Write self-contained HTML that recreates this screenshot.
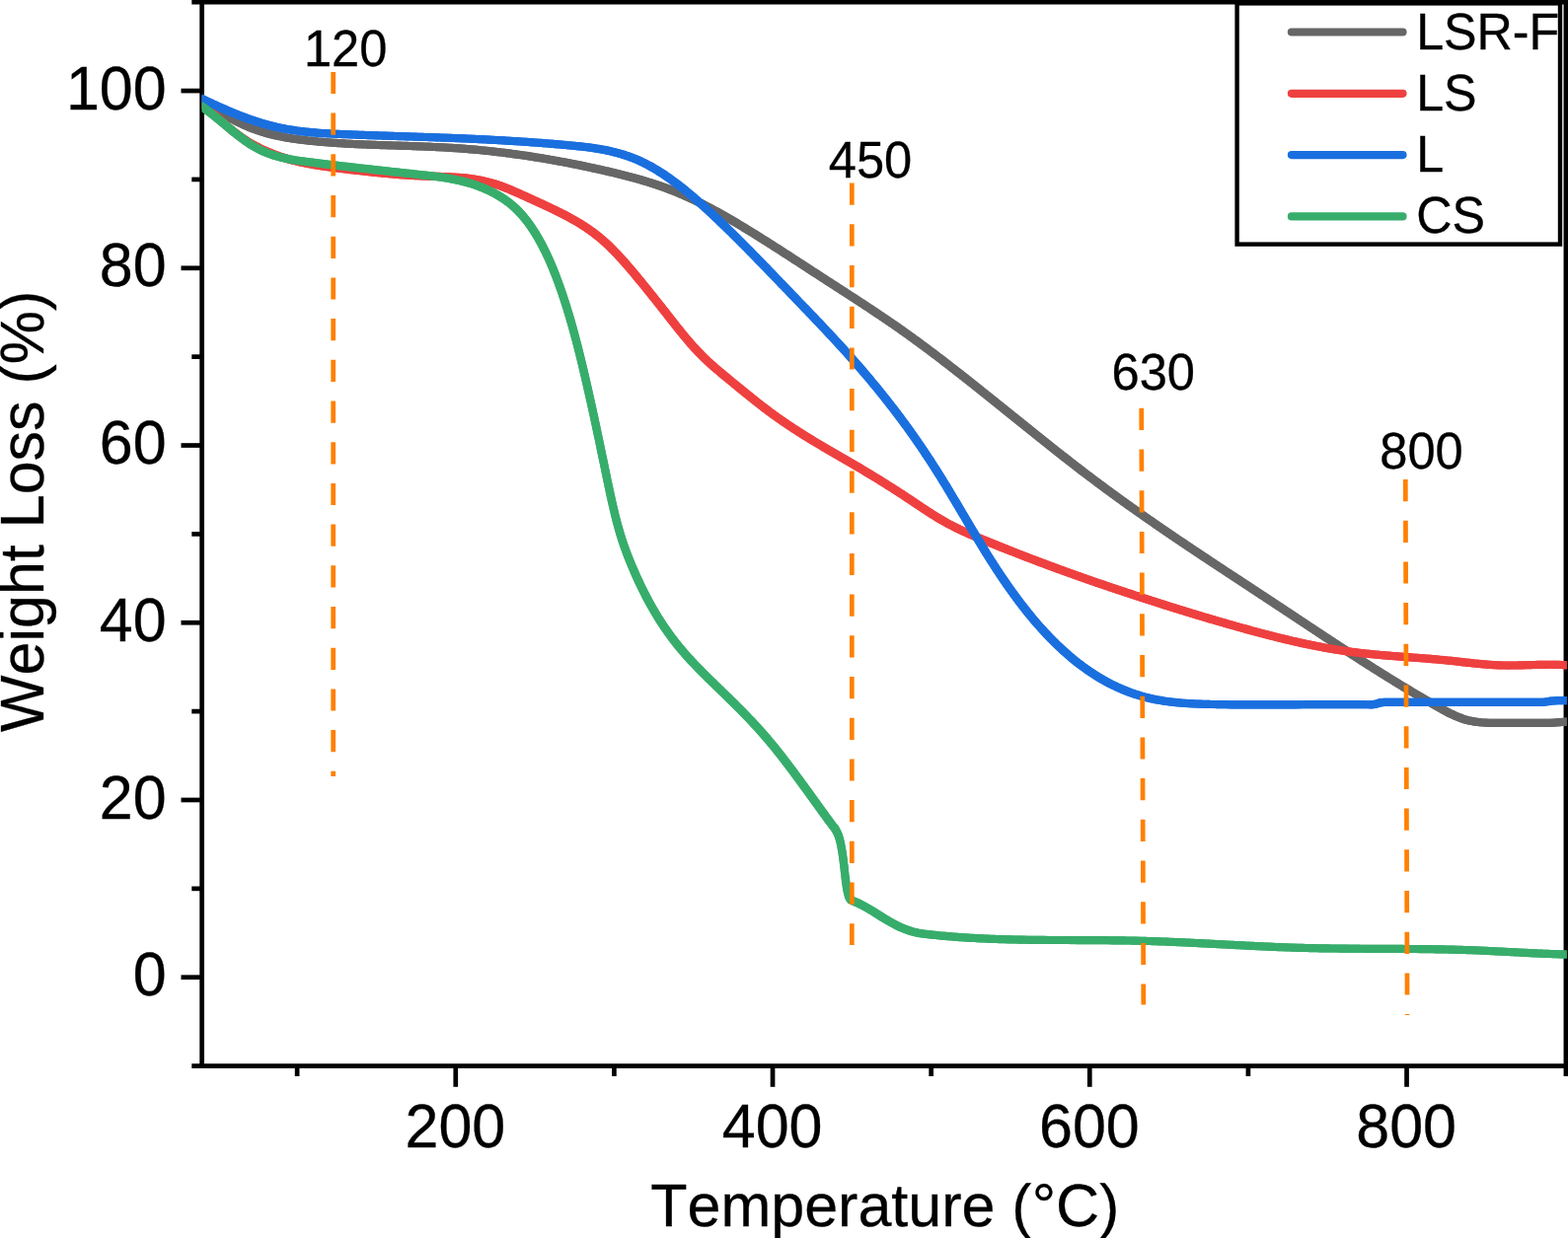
<!DOCTYPE html>
<html lang="en">
<head>
<meta charset="utf-8">
<title>Weight Loss (%) vs Temperature (°C)</title>
<style>
html,body{margin:0;padding:0;background:#fff;overflow:hidden;}
body{width:1589px;height:1255px;overflow:hidden;}
svg{display:block;}
text{font-family:"Liberation Sans",sans-serif;fill:#000;stroke:#000;stroke-width:0.3px;font-kerning:none;}
.tick{font-size:61.0px;}
.xl{font-size:61px;}
.yl{font-size:61px;}
.ann{font-size:50.6px;}
.leg{font-size:50.6px;}
.curve{fill:none;stroke-width:8.15;stroke-linejoin:miter;stroke-miterlimit:6;stroke-linecap:butt;}
.dash{fill:none;stroke:#FF8000;stroke-width:4.7;stroke-dasharray:22.2 19.5;}
.ax{stroke:#000;stroke-width:4.7;fill:none;}
</style>
</head>
<body>
<svg width="1589" height="1255" viewBox="0 0 1589 1255">
<rect width="1589" height="1255" fill="#fff"/>

<g class="ax">
<line x1="204.65" y1="0" x2="204.65" y2="1083.00"/>
<line x1="1586.9" y1="0" x2="1586.9" y2="1091.00"/>
<line x1="194.30" y1="2.2" x2="1589" y2="2.2"/>
<line x1="194.30" y1="1080.65" x2="1589" y2="1080.65"/>
<line x1="183.50" y1="990.70" x2="204.65" y2="990.70"/>
<line x1="194.30" y1="900.84" x2="204.65" y2="900.84"/>
<line x1="183.50" y1="810.97" x2="204.65" y2="810.97"/>
<line x1="194.30" y1="721.11" x2="204.65" y2="721.11"/>
<line x1="183.50" y1="631.24" x2="204.65" y2="631.24"/>
<line x1="194.30" y1="541.38" x2="204.65" y2="541.38"/>
<line x1="183.50" y1="451.51" x2="204.65" y2="451.51"/>
<line x1="194.30" y1="361.65" x2="204.65" y2="361.65"/>
<line x1="183.50" y1="271.78" x2="204.65" y2="271.78"/>
<line x1="194.30" y1="181.92" x2="204.65" y2="181.92"/>
<line x1="183.50" y1="92.05" x2="204.65" y2="92.05"/>
<line x1="301.13" y1="1080.65" x2="301.13" y2="1091.00"/>
<line x1="461.76" y1="1080.65" x2="461.76" y2="1101.80"/>
<line x1="622.39" y1="1080.65" x2="622.39" y2="1091.00"/>
<line x1="783.02" y1="1080.65" x2="783.02" y2="1101.80"/>
<line x1="943.65" y1="1080.65" x2="943.65" y2="1091.00"/>
<line x1="1104.28" y1="1080.65" x2="1104.28" y2="1101.80"/>
<line x1="1264.91" y1="1080.65" x2="1264.91" y2="1091.00"/>
<line x1="1425.54" y1="1080.65" x2="1425.54" y2="1101.80"/>
</g>
<text class="tick" transform="translate(168.70 1009.40) scale(1 1.035)" text-anchor="end">0</text>
<text class="tick" transform="translate(168.70 829.67) scale(1 1.035)" text-anchor="end">20</text>
<text class="tick" transform="translate(168.70 649.94) scale(1 1.035)" text-anchor="end">40</text>
<text class="tick" transform="translate(168.70 470.21) scale(1 1.035)" text-anchor="end">60</text>
<text class="tick" transform="translate(168.70 290.48) scale(1 1.035)" text-anchor="end">80</text>
<text class="tick" transform="translate(168.70 110.75) scale(1 1.035)" text-anchor="end">100</text>
<text class="tick" transform="translate(461.36 1163.30) scale(1 1.035)" text-anchor="middle">200</text>
<text class="tick" transform="translate(782.62 1163.30) scale(1 1.035)" text-anchor="middle">400</text>
<text class="tick" transform="translate(1103.88 1163.30) scale(1 1.035)" text-anchor="middle">600</text>
<text class="tick" transform="translate(1425.14 1163.30) scale(1 1.035)" text-anchor="middle">800</text>
<clipPath id="xlc"><rect x="600" y="1199.3" width="600" height="60"/></clipPath>
<g clip-path="url(#xlc)"><text class="xl" transform="translate(659.25 1243.00) scale(1 1.012)" text-anchor="start">Temperature (°C)</text></g>
<text class="yl" transform="translate(44.3 742.05) rotate(-90) scale(1 1.02)">Weight Loss (%)</text>
<clipPath id="plot"><rect x="204.6" y="0" width="1383.10" height="1080.65"/></clipPath>
<g clip-path="url(#plot)">
<g><path class="curve" stroke="#666666" d="M203.0 99.1 L205.5 100.9 L208.0 102.6 L210.5 104.4 L213.0 106.1 L215.5 107.9 L218.0 109.6 L220.5 111.3 L223.0 112.9 L225.5 114.5 L228.0 116.1 L230.5 117.7 L233.0 119.2 L235.5 120.6 L238.0 122.0 L240.5 123.3 L243.0 124.6 L245.5 125.8 L248.0 126.9 L250.5 128.0 L253.0 129.1 L255.5 130.0 L258.0 131.0 L260.5 131.9 L262.9 132.7 L265.4 133.5 L267.9 134.3 L270.4 135.0 L272.9 135.7 L275.4 136.3 L277.9 136.9 L280.4 137.5 L282.9 138.0 L285.4 138.5 L287.9 139.0 L290.4 139.5 L292.9 139.9 L295.4 140.3 L297.9 140.7 L300.4 141.0 L302.9 141.4 L305.4 141.7 L307.9 142.0 L310.4 142.3 L312.9 142.6 L315.4 142.8 L317.9 143.1 L320.4 143.3 L322.9 143.6 L325.4 143.8 L327.9 144.0 L330.4 144.2 L332.9 144.4 L335.4 144.6 L337.9 144.8 L340.4 144.9 L342.9 145.1 L345.4 145.3 L347.9 145.4 L350.4 145.6 L352.9 145.7 L355.4 145.8 L357.9 146.0 L360.4 146.1 L362.9 146.2 L365.4 146.3 L367.9 146.4 L370.4 146.5 L372.9 146.6 L375.4 146.7 L377.8 146.8 L380.3 146.9 L382.8 147.0 L385.3 147.1 L387.8 147.1 L390.3 147.2 L392.8 147.3 L395.3 147.4 L397.8 147.5 L400.3 147.5 L402.8 147.6 L405.3 147.7 L407.8 147.8 L410.3 147.9 L412.8 147.9 L415.3 148.0 L417.8 148.1 L420.3 148.2 L422.8 148.3 L425.3 148.4 L427.8 148.4 L430.3 148.5 L432.8 148.6 L435.3 148.7 L437.8 148.9 L440.3 149.0 L442.8 149.1 L445.3 149.2 L447.8 149.3 L450.3 149.5 L452.8 149.6 L455.3 149.7 L457.8 149.9 L460.3 150.1 L462.8 150.2 L465.3 150.4 L467.8 150.6 L470.3 150.8 L472.8 151.0 L475.3 151.2 L477.8 151.4 L480.3 151.6 L482.8 151.8 L485.3 152.0 L487.8 152.3 L490.3 152.5 L492.7 152.8 L495.2 153.0 L497.7 153.3 L500.2 153.6 L502.7 153.9 L505.2 154.2 L507.7 154.5 L510.2 154.8 L512.7 155.1 L515.2 155.4 L517.7 155.7 L520.2 156.1 L522.7 156.4 L525.2 156.7 L527.7 157.1 L530.2 157.5 L532.7 157.8 L535.2 158.2 L537.7 158.6 L540.2 159.0 L542.7 159.4 L545.2 159.8 L547.7 160.2 L550.2 160.6 L552.7 161.0 L555.2 161.4 L557.7 161.9 L560.2 162.3 L562.7 162.8 L565.2 163.2 L567.7 163.7 L570.2 164.1 L572.7 164.6 L575.2 165.1 L577.7 165.6 L580.2 166.1 L582.7 166.6 L585.2 167.1 L587.7 167.6 L590.2 168.1 L592.7 168.6 L595.2 169.1 L597.7 169.7 L600.2 170.2 L602.7 170.7 L605.2 171.3 L607.6 171.8 L610.1 172.4 L612.6 173.0 L615.1 173.6 L617.6 174.1 L620.1 174.7 L622.6 175.3 L625.1 175.9 L627.6 176.5 L630.1 177.1 L632.6 177.8 L635.1 178.4 L637.6 179.1 L640.1 179.7 L642.6 180.4 L645.1 181.1 L647.6 181.8 L650.1 182.5 L652.6 183.3 L655.1 184.0 L657.6 184.8 L660.1 185.6 L662.6 186.4 L665.1 187.2 L667.6 188.1 L670.1 188.9 L672.6 189.8 L675.1 190.7 L677.6 191.7 L680.1 192.6 L682.6 193.6 L685.1 194.6 L687.6 195.6 L690.1 196.7 L692.6 197.8 L695.1 198.9 L697.6 200.0 L700.1 201.1 L702.6 202.3 L705.1 203.5 L707.6 204.7 L710.1 206.0 L712.6 207.2 L715.1 208.5 L717.6 209.8 L720.1 211.2 L722.5 212.5 L725.0 213.9 L727.5 215.2 L730.0 216.6 L732.5 218.0 L735.0 219.4 L737.5 220.9 L740.0 222.3 L742.5 223.8 L745.0 225.3 L747.5 226.8 L750.0 228.3 L752.5 229.8 L755.0 231.3 L757.5 232.8 L760.0 234.3 L762.5 235.9 L765.0 237.4 L767.5 239.0 L770.0 240.6 L772.5 242.1 L775.0 243.7 L777.5 245.3 L780.0 246.9 L782.5 248.5 L785.0 250.1 L787.5 251.7 L790.0 253.3 L792.5 254.9 L795.0 256.5 L797.5 258.1 L800.0 259.7 L802.5 261.3 L805.0 263.0 L807.5 264.6 L810.0 266.2 L812.5 267.8 L815.0 269.4 L817.5 271.1 L820.0 272.7 L822.5 274.3 L825.0 276.0 L827.5 277.6 L830.0 279.2 L832.5 280.8 L835.0 282.5 L837.4 284.1 L839.9 285.7 L842.4 287.3 L844.9 288.9 L847.4 290.5 L849.9 292.1 L852.4 293.8 L854.9 295.4 L857.4 297.0 L859.9 298.6 L862.4 300.2 L864.9 301.9 L867.4 303.5 L869.9 305.1 L872.4 306.7 L874.9 308.4 L877.4 310.0 L879.9 311.7 L882.4 313.3 L884.9 315.0 L887.4 316.6 L889.9 318.3 L892.4 320.0 L894.9 321.7 L897.4 323.4 L899.9 325.1 L902.4 326.8 L904.9 328.5 L907.4 330.2 L909.9 332.0 L912.4 333.7 L914.9 335.5 L917.4 337.3 L919.9 339.0 L922.4 340.8 L924.9 342.7 L927.4 344.5 L929.9 346.3 L932.4 348.1 L934.9 350.0 L937.4 351.8 L939.9 353.7 L942.4 355.6 L944.9 357.4 L947.4 359.3 L949.9 361.2 L952.3 363.1 L954.8 365.0 L957.3 367.0 L959.8 368.9 L962.3 370.8 L964.8 372.7 L967.3 374.7 L969.8 376.6 L972.3 378.6 L974.8 380.5 L977.3 382.5 L979.8 384.5 L982.3 386.5 L984.8 388.4 L987.3 390.4 L989.8 392.4 L992.3 394.4 L994.8 396.4 L997.3 398.4 L999.8 400.4 L1002.3 402.4 L1004.8 404.4 L1007.3 406.4 L1009.8 408.4 L1012.3 410.4 L1014.8 412.4 L1017.3 414.4 L1019.8 416.4 L1022.3 418.4 L1024.8 420.5 L1027.3 422.5 L1029.8 424.5 L1032.3 426.5 L1034.8 428.5 L1037.3 430.5 L1039.8 432.5 L1042.3 434.5 L1044.8 436.5 L1047.3 438.6 L1049.8 440.6 L1052.3 442.6 L1054.8 444.6 L1057.3 446.6 L1059.8 448.5 L1062.3 450.5 L1064.8 452.5 L1067.2 454.5 L1069.7 456.5 L1072.2 458.4 L1074.7 460.4 L1077.2 462.4 L1079.7 464.3 L1082.2 466.3 L1084.7 468.2 L1087.2 470.2 L1089.7 472.1 L1092.2 474.0 L1094.7 476.0 L1097.2 477.9 L1099.7 479.8 L1102.2 481.7 L1104.7 483.6 L1107.2 485.5 L1109.7 487.3 L1112.2 489.2 L1114.7 491.1 L1117.2 492.9 L1119.7 494.8 L1122.2 496.6 L1124.7 498.5 L1127.2 500.3 L1129.7 502.1 L1132.2 503.9 L1134.7 505.7 L1137.2 507.5 L1139.7 509.3 L1142.2 511.1 L1144.7 512.9 L1147.2 514.7 L1149.7 516.4 L1152.2 518.2 L1154.7 520.0 L1157.2 521.7 L1159.7 523.5 L1162.2 525.2 L1164.7 527.0 L1167.2 528.7 L1169.7 530.4 L1172.2 532.2 L1174.7 533.9 L1177.2 535.6 L1179.7 537.3 L1182.1 539.0 L1184.6 540.7 L1187.1 542.4 L1189.6 544.1 L1192.1 545.8 L1194.6 547.5 L1197.1 549.2 L1199.6 550.9 L1202.1 552.5 L1204.6 554.2 L1207.1 555.9 L1209.6 557.6 L1212.1 559.2 L1214.6 560.9 L1217.1 562.6 L1219.6 564.2 L1222.1 565.9 L1224.6 567.5 L1227.1 569.2 L1229.6 570.8 L1232.1 572.5 L1234.6 574.1 L1237.1 575.8 L1239.6 577.4 L1242.1 579.1 L1244.6 580.7 L1247.1 582.4 L1249.6 584.0 L1252.1 585.7 L1254.6 587.3 L1257.1 589.0 L1259.6 590.6 L1262.1 592.2 L1264.6 593.9 L1267.1 595.5 L1269.6 597.2 L1272.1 598.8 L1274.6 600.5 L1277.1 602.1 L1279.6 603.7 L1282.1 605.4 L1284.6 607.0 L1287.1 608.7 L1289.6 610.3 L1292.1 612.0 L1294.6 613.6 L1297.0 615.3 L1299.5 616.9 L1302.0 618.6 L1304.5 620.2 L1307.0 621.9 L1309.5 623.6 L1312.0 625.2 L1314.5 626.9 L1317.0 628.5 L1319.5 630.2 L1322.0 631.8 L1324.5 633.5 L1327.0 635.2 L1329.5 636.8 L1332.0 638.5 L1334.5 640.1 L1337.0 641.8 L1339.5 643.4 L1342.0 645.1 L1344.5 646.7 L1347.0 648.3 L1349.5 650.0 L1352.0 651.6 L1354.5 653.3 L1357.0 654.9 L1359.5 656.5 L1362.0 658.2 L1364.5 659.8 L1367.0 661.4 L1369.5 663.0 L1372.0 664.6 L1374.5 666.3 L1377.0 667.9 L1379.5 669.5 L1382.0 671.1 L1384.5 672.7 L1387.0 674.3 L1389.5 675.8 L1392.0 677.4 L1394.5 679.0 L1397.0 680.6 L1399.5 682.1 L1402.0 683.7 L1404.5 685.3 L1407.0 686.8 L1409.5 688.4 L1411.9 689.9 L1414.4 691.4 L1416.9 693.0 L1419.4 694.5 L1421.9 696.0 L1424.4 697.5 L1426.9 699.0 L1429.4 700.5 L1431.9 702.0 L1434.4 703.5 L1436.9 704.9 L1439.4 706.4 L1441.9 707.8 L1444.4 709.3 L1446.9 710.7 L1449.4 712.2 L1451.9 713.6 L1454.4 715.0 L1456.9 716.4 L1459.4 717.8 L1461.9 719.2 L1464.4 720.5 L1466.9 721.9 L1469.4 723.3 L1470.9 723.8 L1472.4 724.5 L1473.9 725.2 L1475.4 725.9 L1476.9 726.5 L1478.4 727.1 L1479.9 727.7 L1481.4 728.3 L1482.9 728.8 L1484.4 729.3 L1485.8 729.8 L1487.3 730.1 L1488.8 730.5 L1490.3 730.8 L1491.8 731.1 L1493.3 731.4 L1494.8 731.6 L1496.3 731.8 L1497.8 732.0 L1499.3 732.2 L1500.8 732.3 L1502.3 732.5 L1503.8 732.5 L1505.3 732.6 L1506.8 732.7 L1508.3 732.7 L1509.8 732.8 L1511.3 732.8 L1512.8 732.8 L1514.2 732.8 L1515.7 732.8 L1517.2 732.8 L1518.7 732.8 L1520.2 732.8 L1521.7 732.8 L1523.2 732.8 L1524.7 732.8 L1526.2 732.8 L1527.7 732.8 L1529.2 732.8 L1530.7 732.8 L1532.2 732.8 L1533.7 732.8 L1535.2 732.8 L1536.7 732.8 L1538.2 732.8 L1539.7 732.8 L1541.2 732.8 L1542.7 732.8 L1544.2 732.8 L1545.6 732.8 L1547.1 732.8 L1548.6 732.8 L1550.1 732.8 L1551.6 732.8 L1553.1 732.8 L1554.6 732.8 L1556.1 732.8 L1557.6 732.8 L1559.1 732.8 L1560.6 732.8 L1562.1 732.8 L1563.6 732.8 L1565.1 732.8 L1566.6 732.8 L1568.1 732.8 L1569.6 732.8 L1571.1 732.8 L1572.6 732.8 L1574.0 732.7 L1575.5 732.6 L1577.0 732.5 L1578.5 732.3 L1580.0 732.2 L1581.5 732.1 L1583.0 732.0 L1584.5 731.9 L1586.0 731.7 L1587.5 731.6 L1589.0 731.5"/>
<path fill="#666666" stroke="none" d="M200.4 102.7 L202.0 103.9 L203.7 105.1 L205.3 106.2 L206.9 107.4 L208.6 108.5 L210.2 109.7 L211.9 110.8 L213.5 112.0 L215.2 113.1 L216.9 114.2 L218.6 115.4 L220.3 116.5 L222.0 117.6 L223.7 118.7 L225.4 119.8 L227.1 120.8 L228.9 121.9 L230.6 122.9 L232.4 123.9 L234.2 125.0 L236.0 125.9 L237.8 126.9 L239.6 127.8 L241.5 128.7 L243.3 129.6 L245.2 130.5 L247.1 131.3 L249.0 132.1 L250.9 132.9 L252.8 133.7 L254.7 134.4 L256.6 135.1 L258.5 135.8 L260.5 136.5 L262.4 137.1 L264.4 137.7 L266.4 138.3 L268.3 138.9 L270.3 139.4 L272.3 139.9 L274.3 140.4 L276.2 140.9 L278.2 141.4 L280.2 141.8 L282.2 142.2 L284.2 142.6 L286.2 143.0 L288.2 143.4 L290.2 143.7 L292.2 144.1 L294.2 144.4 L296.2 144.7 L298.2 145.0 L300.2 145.2 L302.2 145.5 L304.2 145.8 L306.2 146.0 L308.2 146.2 L310.2 146.5 L312.2 146.7 L314.2 146.9 L316.2 147.1 L318.2 147.3 L320.3 147.5 L322.3 147.7 L324.3 147.8 L326.3 148.0 L328.3 148.2 L330.3 148.3 L332.3 148.5 L334.3 148.6 L336.3 148.8 L338.3 148.9 L340.3 149.1 L342.3 149.2 L344.3 149.3 L346.3 149.4 L348.3 149.6 L350.3 149.7 L352.3 149.8 L354.3 149.9 L356.3 150.0 L358.3 150.1 L360.3 150.2 L362.3 150.3 L364.3 150.4 L366.3 150.5 L368.3 150.5 L370.3 150.6 L372.3 150.7 L374.3 150.8 L376.3 150.9 L378.3 150.9 L380.3 151.0 L382.3 151.1 L384.3 151.1 L386.3 151.2 L388.3 151.3 L390.3 151.3 L392.3 151.4 L394.3 151.5 L396.3 151.5 L398.3 151.6 L400.3 151.6 L402.3 151.7 L404.3 151.8 L406.3 151.8 L408.3 151.9 L410.3 152.0 L412.3 152.0 L414.3 152.1 L416.3 152.1 L418.3 152.2 L420.2 152.3 L422.2 152.4 L424.2 152.4 L426.2 152.5 L428.2 152.6 L430.2 152.7 L432.2 152.7 L434.2 152.8 L436.2 152.9 L438.2 153.0 L440.2 153.1 L442.1 153.2 L444.1 153.3 L446.1 153.4 L448.1 153.5 L450.1 153.6 L452.1 153.7 L454.1 153.8 L456.1 153.9 L458.0 154.0 L460.0 154.2 L462.0 154.3 L464.0 154.4 L466.0 154.6 L468.0 154.7 L469.9 154.9 L471.9 155.0 L473.9 155.2 L475.9 155.4 L477.9 155.5 L479.8 155.7 L481.8 155.9 L483.8 156.1 L485.8 156.3 L487.8 156.5 L489.7 156.7 L491.7 156.9 L493.7 157.1 L495.7 157.3 L497.6 157.5 L499.6 157.7 L501.6 157.9 L503.6 158.2 L505.5 158.4 L507.5 158.6 L509.5 158.9 L511.5 159.1 L513.4 159.4 L515.4 159.6 L517.4 159.9 L519.3 160.2 L521.3 160.4 L523.3 160.7 L525.3 161.0 L527.2 161.3 L529.2 161.6 L531.2 161.8 L533.1 162.1 L535.1 162.4 L537.1 162.7 L539.0 163.0 L541.0 163.4 L543.0 163.7 L544.9 164.0 L546.9 164.3 L548.8 164.6 L550.8 165.0 L552.8 165.3 L554.7 165.6 L556.7 166.0 L558.6 166.3 L560.6 166.7 L562.6 167.0 L564.5 167.4 L566.5 167.7 L568.4 168.1 L570.4 168.5 L572.3 168.8 L574.3 169.2 L576.2 169.6 L578.2 170.0 L580.1 170.4 L582.1 170.8 L584.1 171.2 L586.0 171.6 L587.9 172.0 L589.9 172.4 L591.8 172.8 L593.8 173.2 L595.7 173.6 L597.7 174.0 L599.6 174.4 L601.6 174.9 L603.5 175.3 L605.5 175.7 L607.4 176.2 L609.3 176.6 L611.3 177.0 L613.2 177.5 L615.2 177.9 L617.1 178.4 L619.0 178.8 L621.0 179.3 L622.9 179.8 L624.8 180.2 L626.8 180.7 L628.7 181.2 L630.6 181.7 L632.5 182.2 L634.4 182.7 L636.4 183.2 L638.3 183.7 L640.2 184.2 L642.1 184.7 L644.0 185.3 L645.9 185.8 L647.8 186.3 L649.7 186.9 L651.6 187.5 L653.5 188.0 L655.4 188.6 L657.3 189.2 L659.2 189.8 L661.0 190.4 L662.9 191.1 L664.8 191.7 L666.6 192.3 L668.5 193.0 L670.4 193.6 L672.2 194.3 L674.1 195.0 L675.9 195.7 L677.8 196.4 L679.6 197.1 L681.4 197.8 L683.3 198.6 L685.1 199.3 L686.9 200.1 L688.7 200.9 L690.5 201.6 L692.3 202.4 L694.1 203.2 L695.9 204.1 L697.7 204.9 L699.5 205.7 L701.3 206.6 L703.0 207.4 L704.8 208.3 L706.6 209.2 L708.3 210.1 L710.1 211.0 L711.9 211.9 L713.6 212.8 L715.4 213.7 L717.1 214.6 L718.9 215.6 L720.6 216.5 L722.4 217.4 L724.1 218.4 L725.8 219.4 L727.6 220.3 L729.3 221.3 L731.0 222.3 L732.7 223.3 L734.5 224.2 L736.2 225.2 L737.9 226.2 L739.6 227.2 L741.3 228.2 L743.0 229.3 L744.7 230.3 L746.4 231.3 L748.1 232.3 L749.8 233.3 L751.5 234.4 L753.2 235.4 L754.9 236.5 L756.6 237.5 L758.3 238.5 L760.0 239.6 L761.7 240.6 L763.4 241.7 L765.1 242.7 L766.8 243.8 L768.5 244.9 L770.2 245.9 L771.8 247.0 L773.5 248.0 L775.2 249.1 L776.9 250.2 L778.6 251.3 L780.3 252.3 L781.9 253.4 L783.6 254.5 L785.3 255.5 L787.0 256.6 L788.7 257.7 L790.3 258.8 L792.0 259.9 L793.7 261.0 L795.4 262.0 L797.0 263.1 L798.7 264.2 L800.4 265.3 L802.1 266.4 L803.7 267.5 L805.4 268.6 L807.1 269.6 L808.8 270.7 L810.4 271.8 L812.1 272.9 L813.8 274.0 L815.4 275.1 L817.1 276.2 L818.8 277.3 L820.5 278.4 L822.1 279.4 L823.8 280.5 L825.5 281.6 L827.2 282.7 L828.8 283.8 L830.5 284.9 L832.2 286.0 L833.9 287.1 L835.5 288.2 L837.2 289.2 L838.9 290.3 L840.6 291.4 L842.3 292.5 L843.9 293.6 L845.6 294.7 L847.3 295.8 L849.0 296.8 L850.6 297.9 L852.3 299.0 L854.0 300.1 L855.7 301.2 L857.4 302.3 L859.0 303.3 L860.7 304.4 L862.4 305.5 L864.0 306.6 L865.7 307.7 L867.4 308.8 L869.1 309.9 L870.7 311.0 L872.4 312.1 L874.1 313.2 L875.7 314.3 L877.4 315.3 L879.1 316.4 L880.7 317.5 L882.4 318.7 L884.0 319.8 L885.7 320.9 L887.3 322.0 L889.0 323.1 L890.6 324.2 L892.3 325.3 L893.9 326.4 L895.6 327.5 L897.2 328.7 L898.9 329.8 L900.5 330.9 L902.2 332.0 L903.8 333.2 L905.4 334.3 L907.1 335.5 L908.7 336.6 L910.3 337.7 L911.9 338.9 L913.6 340.0 L915.2 341.2 L916.8 342.3 L918.4 343.5 L920.0 344.7 L921.6 345.8 L923.2 347.0 L924.9 348.2 L926.5 349.4 L928.1 350.5 L929.7 351.7 L931.3 352.9 L932.9 354.1 L934.5 355.3 L936.1 356.5 L937.7 357.6 L939.3 358.8 L940.8 360.0 L942.4 361.2 L944.0 362.4 L945.6 363.6 L947.2 364.8 L948.8 366.1 L950.4 367.3 L952.0 368.5 L953.5 369.7 L955.1 370.9 L956.7 372.1 L958.3 373.3 L959.8 374.5 L961.4 375.8 L963.0 377.0 L964.6 378.2 L966.1 379.4 L967.7 380.7 L969.3 381.9 L970.9 383.1 L972.4 384.4 L974.0 385.6 L975.6 386.8 L977.1 388.1 L978.7 389.3 L980.2 390.5 L981.8 391.8 L983.4 393.0 L984.9 394.3 L986.5 395.5 L988.1 396.7 L989.6 398.0 L991.2 399.2 L992.7 400.5 L994.3 401.7 L995.9 403.0 L997.4 404.2 L999.0 405.5 L1000.5 406.7 L1002.1 408.0 L1003.6 409.2 L1005.2 410.5 L1006.8 411.7 L1008.3 413.0 L1009.9 414.2 L1011.4 415.5 L1013.0 416.7 L1014.5 418.0 L1016.1 419.2 L1017.6 420.5 L1019.2 421.7 L1020.8 423.0 L1022.3 424.2 L1023.9 425.5 L1025.4 426.7 L1027.0 428.0 L1028.5 429.2 L1030.1 430.5 L1031.6 431.8 L1033.2 433.0 L1034.8 434.3 L1036.3 435.5 L1037.9 436.8 L1039.4 438.0 L1041.0 439.3 L1042.5 440.5 L1044.1 441.8 L1045.7 443.0 L1047.2 444.3 L1048.8 445.5 L1050.3 446.8 L1051.9 448.0 L1053.5 449.3 L1055.0 450.5 L1056.6 451.8 L1058.2 453.0 L1059.7 454.3 L1061.3 455.5 L1062.9 456.7 L1064.4 458.0 L1066.0 459.2 L1067.6 460.5 L1069.1 461.7 L1070.7 462.9 L1072.3 464.2 L1073.8 465.4 L1075.4 466.7 L1077.0 467.9 L1078.6 469.1 L1080.2 470.4 L1081.7 471.6 L1083.3 472.8 L1084.9 474.0 L1086.5 475.3 L1088.1 476.5 L1089.6 477.7 L1091.2 478.9 L1092.8 480.2 L1094.4 481.4 L1096.0 482.6 L1097.6 483.8 L1099.2 485.0 L1100.8 486.2 L1102.4 487.4 L1104.0 488.6 L1105.6 489.8 L1107.2 491.1 L1108.8 492.3 L1110.4 493.5 L1112.0 494.6 L1113.6 495.8 L1115.2 497.0 L1116.8 498.2 L1118.4 499.4 L1120.0 500.6 L1121.7 501.8 L1123.3 503.0 L1124.9 504.2 L1126.5 505.3 L1128.1 506.5 L1129.8 507.7 L1131.4 508.9 L1133.0 510.0 L1134.6 511.2 L1136.2 512.4 L1137.9 513.5 L1139.5 514.7 L1141.1 515.9 L1142.8 517.0 L1144.4 518.2 L1146.0 519.3 L1147.7 520.5 L1149.3 521.7 L1150.9 522.8 L1152.6 524.0 L1154.2 525.1 L1155.8 526.3 L1157.5 527.4 L1159.1 528.6 L1160.8 529.7 L1162.4 530.8 L1164.1 532.0 L1165.7 533.1 L1167.3 534.3 L1169.0 535.4 L1170.6 536.5 L1172.3 537.7 L1173.9 538.8 L1175.6 539.9 L1177.2 541.1 L1178.9 542.2 L1180.5 543.3 L1182.2 544.5 L1183.8 545.6 L1185.5 546.7 L1187.2 547.8 L1188.8 548.9 L1190.5 550.1 L1192.1 551.2 L1193.8 552.3 L1195.4 553.4 L1197.1 554.5 L1198.8 555.7 L1200.4 556.8 L1202.1 557.9 L1203.7 559.0 L1205.4 560.1 L1207.1 561.2 L1208.7 562.3 L1210.4 563.4 L1212.1 564.6 L1213.7 565.7 L1215.4 566.8 L1217.1 567.9 L1218.7 569.0 L1220.4 570.1 L1222.0 571.2 L1223.7 572.3 L1225.4 573.4 L1227.0 574.5 L1228.7 575.6 L1230.4 576.7 L1232.1 577.8 L1233.7 578.9 L1235.4 580.0 L1237.1 581.1 L1238.7 582.2 L1240.4 583.3 L1242.1 584.4 L1243.7 585.5 L1245.4 586.6 L1247.1 587.7 L1248.7 588.8 L1250.4 589.9 L1252.1 591.0 L1253.7 592.1 L1255.4 593.2 L1257.1 594.3 L1258.8 595.4 L1260.4 596.5 L1262.1 597.6 L1263.8 598.7 L1265.4 599.8 L1267.1 600.9 L1268.8 602.0 L1270.4 603.1 L1272.1 604.2 L1273.8 605.3 L1275.4 606.4 L1277.1 607.5 L1278.8 608.6 L1280.4 609.7 L1282.1 610.8 L1283.8 611.9 L1285.4 613.0 L1287.1 614.1 L1288.8 615.2 L1290.4 616.3 L1292.1 617.4 L1293.8 618.5 L1295.4 619.6 L1297.1 620.7 L1298.8 621.8 L1300.4 622.9 L1302.1 624.0 L1303.8 625.1 L1305.4 626.2 L1307.1 627.3 L1308.8 628.4 L1310.4 629.5 L1312.1 630.6 L1313.7 631.7 L1315.4 632.8 L1317.1 633.9 L1318.7 635.0 L1320.4 636.1 L1322.1 637.2 L1323.7 638.3 L1325.4 639.4 L1327.1 640.5 L1328.7 641.6 L1330.4 642.7 L1332.1 643.8 L1333.7 644.9 L1335.4 646.0 L1337.1 647.2 L1338.7 648.3 L1340.4 649.4 L1342.1 650.5 L1343.7 651.6 L1345.4 652.6 L1347.1 653.7 L1348.8 654.8 L1350.4 655.9 L1352.1 657.0 L1353.8 658.1 L1355.5 659.2 L1357.1 660.3 L1358.8 661.4 L1360.5 662.5 L1362.2 663.6 L1363.8 664.7 L1365.5 665.8 L1367.2 666.9 L1368.9 667.9 L1370.6 669.0 L1372.2 670.1 L1373.9 671.2 L1375.6 672.3 L1377.3 673.4 L1379.0 674.4 L1380.7 675.5 L1382.3 676.6 L1384.0 677.7 L1385.7 678.7 L1387.4 679.8 L1389.1 680.9 L1390.8 682.0 L1392.5 683.0 L1394.2 684.1 L1395.9 685.2 L1397.6 686.2 L1399.3 687.3 L1401.0 688.3 L1402.7 689.4 L1404.4 690.5 L1406.1 691.5 L1407.8 692.6 L1409.5 693.6 L1411.2 694.7 L1412.9 695.7 L1414.6 696.7 L1416.3 697.8 L1418.0 698.8 L1419.7 699.9 L1421.5 700.9 L1423.2 701.9 L1424.9 703.0 L1426.6 704.0 L1428.3 705.0 L1430.1 706.0 L1431.8 707.1 L1433.5 708.1 L1435.2 709.1 L1437.0 710.1 L1438.7 711.1 L1440.4 712.1 L1442.2 713.1 L1443.9 714.1 L1445.7 715.1 L1447.4 716.1 L1449.1 717.1 L1450.9 718.1 L1452.6 719.1 L1454.4 720.1 L1456.1 721.0 L1457.9 722.0 L1459.6 723.0 L1461.4 724.0 L1463.2 724.9 L1465.0 725.9 L1466.8 726.9 L1468.7 727.7 L1470.6 728.5 L1472.5 729.4 L1474.3 730.2 L1476.3 731.0 L1478.2 731.8 L1480.2 732.5 L1482.2 733.2 L1484.3 733.8 L1486.3 734.3 L1488.4 734.7 L1490.5 735.1 L1492.5 735.5 L1494.6 735.8 L1496.7 736.1 L1498.7 736.3 L1500.8 736.5 L1502.9 736.6 L1504.9 736.7 L1507.0 736.8 L1509.1 736.9 L1511.1 736.9 L1513.1 736.9 L1515.1 736.9 L1517.1 736.9 L1519.1 736.9 L1521.1 736.9 L1523.1 736.9 L1525.1 736.9 L1527.1 736.9 L1529.1 736.9 L1531.1 736.9 L1533.1 736.9 L1535.1 736.9 L1537.1 736.9 L1539.1 736.9 L1541.1 736.9 L1543.1 736.9 L1545.1 736.9 L1547.1 736.9 L1549.1 736.9 L1551.1 736.9 L1553.1 736.9 L1555.1 736.9 L1557.1 736.9 L1559.1 736.9 L1561.1 736.9 L1563.1 736.9 L1565.1 736.9 L1567.1 736.9 L1569.1 736.9 L1571.2 736.9 L1573.2 736.9 L1575.3 736.7 L1577.4 736.6 L1579.4 736.4 L1581.4 736.3 L1583.4 736.1 L1585.3 735.9 L1587.3 735.8 L1589.3 735.6 L1588.7 727.4 L1586.7 727.5 L1584.7 727.7 L1582.7 727.8 L1580.7 728.0 L1578.7 728.1 L1576.8 728.3 L1574.8 728.5 L1572.9 728.6 L1571.0 728.7 L1569.0 728.7 L1567.1 728.7 L1565.1 728.7 L1563.1 728.7 L1561.1 728.7 L1559.1 728.7 L1557.1 728.7 L1555.1 728.7 L1553.1 728.7 L1551.1 728.7 L1549.1 728.7 L1547.1 728.7 L1545.1 728.7 L1543.1 728.7 L1541.1 728.7 L1539.1 728.7 L1537.1 728.7 L1535.1 728.7 L1533.1 728.7 L1531.1 728.7 L1529.1 728.7 L1527.1 728.7 L1525.1 728.7 L1523.1 728.7 L1521.1 728.7 L1519.1 728.7 L1517.1 728.7 L1515.2 728.7 L1513.2 728.7 L1511.2 728.7 L1509.3 728.7 L1507.3 728.6 L1505.4 728.5 L1503.4 728.4 L1501.5 728.2 L1499.6 728.0 L1497.7 727.8 L1495.8 727.5 L1494.0 727.2 L1492.1 726.8 L1490.2 726.4 L1488.4 726.0 L1486.6 725.5 L1484.8 724.9 L1483.1 724.3 L1481.3 723.6 L1479.6 722.9 L1477.8 722.2 L1476.0 721.4 L1474.3 720.5 L1472.5 719.7 L1470.7 719.0 L1469.0 718.1 L1467.4 717.1 L1465.7 716.2 L1463.9 715.2 L1462.2 714.3 L1460.5 713.3 L1458.7 712.3 L1457.0 711.3 L1455.3 710.4 L1453.5 709.4 L1451.8 708.4 L1450.1 707.4 L1448.3 706.4 L1446.6 705.4 L1444.9 704.4 L1443.2 703.4 L1441.5 702.4 L1439.7 701.4 L1438.0 700.4 L1436.3 699.4 L1434.6 698.4 L1432.9 697.4 L1431.2 696.3 L1429.5 695.3 L1427.8 694.3 L1426.1 693.3 L1424.3 692.2 L1422.6 691.2 L1420.9 690.2 L1419.2 689.1 L1417.5 688.1 L1415.8 687.1 L1414.1 686.0 L1412.5 685.0 L1410.8 683.9 L1409.1 682.9 L1407.4 681.8 L1405.7 680.8 L1404.0 679.7 L1402.3 678.7 L1400.6 677.6 L1398.9 676.5 L1397.2 675.5 L1395.6 674.4 L1393.9 673.4 L1392.2 672.3 L1390.5 671.2 L1388.8 670.1 L1387.1 669.1 L1385.5 668.0 L1383.8 666.9 L1382.1 665.9 L1380.4 664.8 L1378.7 663.7 L1377.1 662.6 L1375.4 661.5 L1373.7 660.5 L1372.0 659.4 L1370.4 658.3 L1368.7 657.2 L1367.0 656.1 L1365.4 655.0 L1363.7 653.9 L1362.0 652.8 L1360.3 651.8 L1358.7 650.7 L1357.0 649.6 L1355.3 648.5 L1353.7 647.4 L1352.0 646.3 L1350.3 645.2 L1348.7 644.1 L1347.0 643.0 L1345.3 641.9 L1343.7 640.8 L1342.0 639.7 L1340.3 638.6 L1338.7 637.5 L1337.0 636.4 L1335.3 635.3 L1333.7 634.2 L1332.0 633.1 L1330.3 632.0 L1328.7 630.9 L1327.0 629.8 L1325.3 628.7 L1323.7 627.6 L1322.0 626.5 L1320.3 625.4 L1318.7 624.3 L1317.0 623.2 L1315.4 622.1 L1313.7 621.0 L1312.0 619.8 L1310.4 618.7 L1308.7 617.6 L1307.0 616.5 L1305.4 615.4 L1303.7 614.3 L1302.0 613.2 L1300.4 612.1 L1298.7 611.0 L1297.0 609.9 L1295.4 608.8 L1293.7 607.7 L1292.0 606.6 L1290.4 605.5 L1288.7 604.4 L1287.0 603.3 L1285.4 602.2 L1283.7 601.1 L1282.0 600.0 L1280.4 598.9 L1278.7 597.8 L1277.0 596.7 L1275.3 595.6 L1273.7 594.5 L1272.0 593.4 L1270.3 592.3 L1268.7 591.2 L1267.0 590.1 L1265.3 589.0 L1263.7 587.9 L1262.0 586.8 L1260.3 585.7 L1258.7 584.6 L1257.0 583.5 L1255.3 582.4 L1253.6 581.3 L1252.0 580.3 L1250.3 579.2 L1248.6 578.1 L1247.0 577.0 L1245.3 575.9 L1243.6 574.8 L1242.0 573.7 L1240.3 572.6 L1238.6 571.5 L1237.0 570.4 L1235.3 569.3 L1233.6 568.2 L1232.0 567.1 L1230.3 566.0 L1228.6 564.9 L1227.0 563.8 L1225.3 562.6 L1223.7 561.5 L1222.0 560.4 L1220.3 559.3 L1218.7 558.2 L1217.0 557.1 L1215.4 556.0 L1213.7 554.9 L1212.0 553.8 L1210.4 552.7 L1208.7 551.6 L1207.1 550.5 L1205.4 549.4 L1203.7 548.2 L1202.1 547.1 L1200.4 546.0 L1198.8 544.9 L1197.1 543.8 L1195.5 542.7 L1193.8 541.5 L1192.2 540.4 L1190.5 539.3 L1188.9 538.2 L1187.2 537.1 L1185.6 535.9 L1183.9 534.8 L1182.3 533.7 L1180.6 532.6 L1179.0 531.4 L1177.4 530.3 L1175.7 529.2 L1174.1 528.0 L1172.4 526.9 L1170.8 525.8 L1169.2 524.6 L1167.5 523.5 L1165.9 522.4 L1164.2 521.2 L1162.6 520.1 L1161.0 518.9 L1159.3 517.8 L1157.7 516.6 L1156.1 515.5 L1154.5 514.3 L1152.8 513.2 L1151.2 512.0 L1149.6 510.9 L1148.0 509.7 L1146.3 508.6 L1144.7 507.4 L1143.1 506.3 L1141.5 505.1 L1139.9 503.9 L1138.2 502.8 L1136.6 501.6 L1135.0 500.4 L1133.4 499.3 L1131.8 498.1 L1130.2 496.9 L1128.6 495.7 L1127.0 494.6 L1125.4 493.4 L1123.7 492.2 L1122.1 491.0 L1120.5 489.8 L1118.9 488.6 L1117.3 487.5 L1115.7 486.3 L1114.2 485.1 L1112.6 483.9 L1111.0 482.7 L1109.4 481.5 L1107.8 480.3 L1106.2 479.1 L1104.6 477.9 L1103.0 476.7 L1101.4 475.5 L1099.9 474.3 L1098.3 473.0 L1096.7 471.8 L1095.1 470.6 L1093.5 469.4 L1092.0 468.2 L1090.4 467.0 L1088.8 465.7 L1087.2 464.5 L1085.7 463.3 L1084.1 462.1 L1082.5 460.8 L1081.0 459.6 L1079.4 458.4 L1077.8 457.1 L1076.3 455.9 L1074.7 454.7 L1073.1 453.4 L1071.6 452.2 L1070.0 450.9 L1068.4 449.7 L1066.9 448.5 L1065.3 447.2 L1063.8 446.0 L1062.2 444.7 L1060.6 443.5 L1059.1 442.3 L1057.5 441.0 L1056.0 439.8 L1054.4 438.5 L1052.8 437.3 L1051.3 436.0 L1049.7 434.8 L1048.2 433.5 L1046.6 432.3 L1045.1 431.0 L1043.5 429.8 L1041.9 428.5 L1040.4 427.3 L1038.8 426.0 L1037.3 424.8 L1035.7 423.5 L1034.2 422.3 L1032.6 421.0 L1031.1 419.7 L1029.5 418.5 L1027.9 417.2 L1026.4 416.0 L1024.8 414.7 L1023.3 413.5 L1021.7 412.2 L1020.2 411.0 L1018.6 409.7 L1017.1 408.5 L1015.5 407.2 L1013.9 406.0 L1012.4 404.7 L1010.8 403.5 L1009.3 402.2 L1007.7 401.0 L1006.1 399.7 L1004.6 398.5 L1003.0 397.2 L1001.5 396.0 L999.9 394.7 L998.3 393.5 L996.8 392.2 L995.2 391.0 L993.7 389.7 L992.1 388.5 L990.5 387.2 L989.0 386.0 L987.4 384.7 L985.8 383.5 L984.3 382.3 L982.7 381.0 L981.1 379.8 L979.5 378.5 L978.0 377.3 L976.4 376.1 L974.8 374.8 L973.2 373.6 L971.7 372.4 L970.1 371.1 L968.5 369.9 L966.9 368.7 L965.3 367.5 L963.8 366.2 L962.2 365.0 L960.6 363.8 L959.0 362.6 L957.4 361.3 L955.8 360.1 L954.2 358.9 L952.6 357.7 L951.0 356.5 L949.4 355.3 L947.8 354.1 L946.2 352.9 L944.6 351.7 L943.0 350.5 L941.4 349.3 L939.8 348.1 L938.2 346.9 L936.6 345.7 L935.0 344.5 L933.4 343.3 L931.8 342.1 L930.1 340.9 L928.5 339.8 L926.9 338.6 L925.3 337.4 L923.6 336.2 L922.0 335.1 L920.4 333.9 L918.7 332.7 L917.1 331.6 L915.5 330.4 L913.8 329.3 L912.2 328.1 L910.5 327.0 L908.9 325.8 L907.2 324.7 L905.6 323.5 L903.9 322.4 L902.3 321.3 L900.6 320.2 L899.0 319.0 L897.3 317.9 L895.6 316.8 L894.0 315.7 L892.3 314.5 L890.7 313.4 L889.0 312.3 L887.3 311.2 L885.7 310.1 L884.0 309.0 L882.3 307.9 L880.6 306.8 L879.0 305.7 L877.3 304.6 L875.6 303.5 L873.9 302.4 L872.3 301.3 L870.6 300.2 L868.9 299.1 L867.2 298.0 L865.6 296.9 L863.9 295.9 L862.2 294.8 L860.5 293.7 L858.9 292.6 L857.2 291.5 L855.5 290.4 L853.8 289.3 L852.1 288.3 L850.5 287.2 L848.8 286.1 L847.1 285.0 L845.4 283.9 L843.8 282.8 L842.1 281.8 L840.4 280.7 L838.7 279.6 L837.1 278.5 L835.4 277.4 L833.7 276.3 L832.0 275.2 L830.4 274.1 L828.7 273.1 L827.0 272.0 L825.3 270.9 L823.7 269.8 L822.0 268.7 L820.3 267.6 L818.6 266.5 L817.0 265.4 L815.3 264.3 L813.6 263.2 L811.9 262.2 L810.3 261.1 L808.6 260.0 L806.9 258.9 L805.2 257.8 L803.6 256.7 L801.9 255.6 L800.2 254.5 L798.5 253.5 L796.8 252.4 L795.2 251.3 L793.5 250.2 L791.8 249.1 L790.1 248.0 L788.4 247.0 L786.7 245.9 L785.1 244.8 L783.4 243.7 L781.7 242.7 L780.0 241.6 L778.3 240.5 L776.6 239.4 L774.9 238.4 L773.2 237.3 L771.5 236.2 L769.8 235.2 L768.1 234.1 L766.4 233.1 L764.7 232.0 L763.0 231.0 L761.3 229.9 L759.6 228.9 L757.9 227.8 L756.2 226.8 L754.5 225.7 L752.7 224.7 L751.0 223.7 L749.3 222.6 L747.6 221.6 L745.8 220.6 L744.1 219.6 L742.4 218.6 L740.6 217.5 L738.9 216.5 L737.1 215.5 L735.4 214.5 L733.6 213.6 L731.9 212.6 L730.1 211.6 L728.4 210.6 L726.6 209.7 L724.8 208.7 L723.1 207.7 L721.3 206.8 L719.5 205.9 L717.7 204.9 L715.9 204.0 L714.1 203.1 L712.3 202.2 L710.5 201.3 L708.7 200.4 L706.9 199.5 L705.1 198.6 L703.2 197.8 L701.4 196.9 L699.6 196.1 L697.7 195.2 L695.9 194.4 L694.0 193.6 L692.2 192.8 L690.3 192.0 L688.4 191.2 L686.5 190.5 L684.7 189.7 L682.8 189.0 L680.9 188.3 L679.0 187.5 L677.1 186.8 L675.2 186.1 L673.3 185.5 L671.4 184.8 L669.5 184.1 L667.6 183.5 L665.6 182.8 L663.7 182.2 L661.8 181.6 L659.9 181.0 L657.9 180.4 L656.0 179.8 L654.1 179.2 L652.1 178.6 L650.2 178.1 L648.3 177.5 L646.3 177.0 L644.4 176.4 L642.4 175.9 L640.5 175.4 L638.6 174.9 L636.6 174.4 L634.7 173.9 L632.7 173.4 L630.8 172.9 L628.8 172.4 L626.9 171.9 L624.9 171.5 L622.9 171.0 L621.0 170.5 L619.0 170.1 L617.1 169.6 L615.1 169.2 L613.2 168.7 L611.2 168.3 L609.3 167.8 L607.3 167.4 L605.3 167.0 L603.4 166.6 L601.4 166.1 L599.5 165.7 L597.5 165.3 L595.5 164.9 L593.6 164.5 L591.6 164.0 L589.7 163.6 L587.7 163.2 L585.7 162.8 L583.8 162.5 L581.8 162.1 L579.8 161.7 L577.9 161.3 L575.9 160.9 L573.9 160.5 L572.0 160.2 L570.0 159.8 L568.0 159.4 L566.0 159.1 L564.1 158.7 L562.1 158.4 L560.1 158.0 L558.1 157.7 L556.2 157.3 L554.2 157.0 L552.2 156.7 L550.2 156.3 L548.2 156.0 L546.3 155.7 L544.3 155.4 L542.3 155.0 L540.3 154.7 L538.3 154.4 L536.4 154.1 L534.4 153.8 L532.4 153.5 L530.4 153.2 L528.4 153.0 L526.4 152.7 L524.4 152.4 L522.5 152.1 L520.5 151.9 L518.5 151.6 L516.5 151.3 L514.5 151.1 L512.5 150.8 L510.5 150.6 L508.5 150.4 L506.5 150.1 L504.5 149.9 L502.5 149.7 L500.5 149.4 L498.5 149.2 L496.6 149.0 L494.6 148.8 L492.6 148.6 L490.6 148.4 L488.6 148.2 L486.6 148.0 L484.6 147.8 L482.6 147.6 L480.6 147.4 L478.6 147.3 L476.6 147.1 L474.6 146.9 L472.6 146.8 L470.6 146.6 L468.6 146.5 L466.6 146.3 L464.6 146.2 L462.6 146.1 L460.6 145.9 L458.6 145.8 L456.6 145.7 L454.5 145.6 L452.5 145.5 L450.5 145.3 L448.5 145.2 L446.5 145.1 L444.5 145.0 L442.5 144.9 L440.5 144.9 L438.5 144.8 L436.5 144.7 L434.5 144.6 L432.5 144.5 L430.5 144.4 L428.5 144.4 L426.5 144.3 L424.5 144.2 L422.5 144.1 L420.5 144.1 L418.5 144.0 L416.5 143.9 L414.5 143.9 L412.5 143.8 L410.5 143.8 L408.5 143.7 L406.5 143.6 L404.5 143.6 L402.5 143.5 L400.5 143.4 L398.6 143.4 L396.6 143.3 L394.6 143.3 L392.6 143.2 L390.6 143.1 L388.6 143.1 L386.6 143.0 L384.6 142.9 L382.6 142.9 L380.6 142.8 L378.6 142.7 L376.6 142.6 L374.6 142.6 L372.6 142.5 L370.6 142.4 L368.7 142.3 L366.7 142.2 L364.7 142.2 L362.7 142.1 L360.7 142.0 L358.7 141.9 L356.7 141.8 L354.7 141.7 L352.7 141.6 L350.8 141.4 L348.8 141.3 L346.8 141.2 L344.8 141.1 L342.8 141.0 L340.8 140.8 L338.9 140.7 L336.9 140.5 L334.9 140.4 L332.9 140.2 L330.9 140.1 L328.9 139.9 L327.0 139.7 L325.0 139.6 L323.0 139.4 L321.0 139.2 L319.1 139.0 L317.1 138.8 L315.1 138.6 L313.1 138.4 L311.2 138.2 L309.2 137.9 L307.2 137.7 L305.3 137.5 L303.3 137.2 L301.4 136.9 L299.4 136.7 L297.5 136.4 L295.5 136.1 L293.6 135.7 L291.6 135.4 L289.7 135.1 L287.8 134.7 L285.9 134.3 L283.9 133.9 L282.0 133.5 L280.1 133.1 L278.2 132.6 L276.3 132.1 L274.4 131.6 L272.6 131.1 L270.7 130.6 L268.8 130.0 L267.0 129.5 L265.1 128.9 L263.3 128.3 L261.4 127.6 L259.6 127.0 L257.8 126.3 L256.0 125.6 L254.2 124.8 L252.4 124.1 L250.6 123.3 L248.9 122.5 L247.1 121.7 L245.3 120.8 L243.6 119.9 L241.9 119.1 L240.2 118.1 L238.5 117.2 L236.8 116.2 L235.1 115.3 L233.4 114.3 L231.8 113.2 L230.1 112.2 L228.4 111.1 L226.8 110.1 L225.2 109.0 L223.5 107.9 L221.9 106.8 L220.2 105.7 L218.6 104.6 L217.0 103.5 L215.3 102.3 L213.7 101.2 L212.1 100.0 L210.5 98.9 L208.8 97.7 L207.2 96.6 L205.6 95.4Z"/></g>
<g><path class="curve" stroke="#EF4040" d="M203.0 103.6 L205.5 105.7 L208.0 107.9 L210.5 110.2 L213.0 112.4 L215.5 114.7 L218.0 117.0 L220.5 119.3 L223.0 121.6 L225.5 123.9 L228.0 126.1 L230.5 128.2 L233.0 130.4 L235.5 132.4 L238.0 134.4 L240.5 136.3 L243.0 138.1 L245.5 139.9 L248.0 141.5 L250.4 143.1 L252.9 144.7 L255.4 146.1 L257.9 147.5 L260.4 148.8 L262.9 150.1 L265.4 151.3 L267.9 152.5 L270.4 153.6 L272.9 154.6 L275.4 155.6 L277.9 156.6 L280.4 157.5 L282.9 158.4 L285.4 159.2 L287.9 160.0 L290.4 160.7 L292.9 161.5 L295.4 162.2 L297.9 162.8 L300.4 163.4 L302.9 164.0 L305.4 164.6 L307.9 165.1 L310.4 165.6 L312.9 166.1 L315.4 166.6 L317.9 167.0 L320.4 167.4 L322.9 167.8 L325.4 168.2 L327.9 168.6 L330.4 169.0 L332.9 169.3 L335.4 169.6 L337.9 170.0 L340.4 170.3 L342.8 170.6 L345.3 170.9 L347.8 171.2 L350.3 171.5 L352.8 171.8 L355.3 172.1 L357.8 172.3 L360.3 172.6 L362.8 172.9 L365.3 173.2 L367.8 173.5 L370.3 173.8 L372.8 174.0 L375.3 174.3 L377.8 174.6 L380.3 174.8 L382.8 175.1 L385.3 175.3 L387.8 175.6 L390.3 175.8 L392.8 176.0 L395.3 176.3 L397.8 176.5 L400.3 176.7 L402.8 176.9 L405.3 177.1 L407.8 177.3 L410.3 177.5 L412.8 177.6 L415.3 177.8 L417.8 177.9 L420.3 178.1 L422.8 178.2 L425.3 178.3 L427.8 178.4 L430.3 178.5 L432.8 178.6 L435.2 178.7 L437.7 178.7 L440.2 178.8 L442.7 178.9 L445.2 178.9 L447.7 179.0 L450.2 179.1 L452.7 179.2 L455.2 179.3 L457.7 179.5 L460.2 179.6 L462.7 179.8 L465.2 179.9 L467.7 180.2 L470.2 180.4 L472.7 180.6 L475.2 180.9 L477.7 181.3 L480.2 181.6 L482.7 182.0 L485.2 182.5 L487.7 183.0 L490.2 183.5 L492.7 184.1 L495.2 184.7 L497.7 185.4 L500.2 186.1 L502.7 186.9 L505.2 187.7 L507.7 188.6 L510.2 189.5 L512.7 190.5 L515.2 191.5 L517.7 192.5 L520.2 193.6 L522.7 194.7 L525.2 195.8 L527.6 196.9 L530.1 198.1 L532.6 199.2 L535.1 200.3 L537.6 201.5 L540.1 202.6 L542.6 203.8 L545.1 204.9 L547.6 206.1 L550.1 207.2 L552.6 208.4 L555.1 209.5 L557.6 210.7 L560.1 211.9 L562.6 213.1 L565.1 214.3 L567.6 215.6 L570.1 216.8 L572.6 218.1 L575.1 219.4 L577.6 220.8 L580.1 222.2 L582.6 223.6 L585.1 225.0 L587.6 226.5 L590.1 228.1 L592.6 229.7 L595.1 231.4 L597.6 233.1 L600.1 234.9 L602.6 236.8 L605.1 238.7 L607.6 240.7 L610.1 242.8 L612.6 245.0 L615.1 247.3 L617.6 249.7 L620.0 252.1 L622.5 254.6 L625.0 257.2 L627.5 259.9 L630.0 262.7 L632.5 265.4 L635.0 268.3 L637.5 271.2 L640.0 274.1 L642.5 277.1 L645.0 280.1 L647.5 283.1 L650.0 286.1 L652.5 289.2 L655.0 292.3 L657.5 295.4 L660.0 298.5 L662.5 301.6 L665.0 304.7 L667.5 307.9 L670.0 311.0 L672.5 314.2 L675.0 317.4 L677.5 320.6 L680.0 323.8 L682.5 327.0 L685.0 330.2 L687.5 333.3 L690.0 336.4 L692.5 339.5 L695.0 342.5 L697.5 345.4 L700.0 348.3 L702.5 351.1 L705.0 353.9 L707.5 356.5 L710.0 359.1 L712.4 361.6 L714.9 364.0 L717.4 366.4 L719.9 368.7 L722.4 370.9 L724.9 373.1 L727.4 375.2 L729.9 377.3 L732.4 379.4 L734.9 381.5 L737.4 383.5 L739.9 385.6 L742.4 387.6 L744.9 389.7 L747.4 391.7 L749.9 393.8 L752.4 395.8 L754.9 397.8 L757.4 399.9 L759.9 401.9 L762.4 403.9 L764.9 405.9 L767.4 407.9 L769.9 409.8 L772.4 411.8 L774.9 413.7 L777.4 415.6 L779.9 417.5 L782.4 419.3 L784.9 421.1 L787.4 422.9 L789.9 424.7 L792.4 426.4 L794.9 428.1 L797.4 429.8 L799.9 431.5 L802.4 433.2 L804.8 434.8 L807.3 436.4 L809.8 438.0 L812.3 439.6 L814.8 441.2 L817.3 442.7 L819.8 444.3 L822.3 445.8 L824.8 447.3 L827.3 448.8 L829.8 450.3 L832.3 451.8 L834.8 453.3 L837.3 454.7 L839.8 456.2 L842.3 457.6 L844.8 459.1 L847.3 460.6 L849.8 462.0 L852.3 463.5 L854.8 464.9 L857.3 466.4 L859.8 467.8 L862.3 469.3 L864.8 470.7 L867.3 472.2 L869.8 473.6 L872.3 475.1 L874.8 476.6 L877.3 478.1 L879.8 479.6 L882.3 481.1 L884.8 482.6 L887.3 484.1 L889.8 485.7 L892.3 487.2 L894.8 488.8 L897.2 490.3 L899.7 491.9 L902.2 493.5 L904.7 495.1 L907.2 496.7 L909.7 498.3 L912.2 499.9 L914.7 501.5 L917.2 503.2 L919.7 504.8 L922.2 506.5 L924.7 508.1 L927.2 509.8 L929.7 511.5 L932.2 513.1 L934.7 514.8 L937.2 516.5 L939.7 518.1 L942.2 519.7 L944.7 521.3 L947.2 522.9 L949.7 524.5 L952.2 526.0 L954.7 527.4 L957.2 528.8 L959.7 530.2 L962.2 531.6 L964.7 532.9 L967.2 534.1 L969.7 535.4 L972.2 536.6 L974.7 537.8 L977.2 538.9 L979.7 540.1 L982.2 541.2 L984.7 542.3 L987.2 543.4 L989.6 544.4 L992.1 545.5 L994.6 546.5 L997.1 547.5 L999.6 548.5 L1002.1 549.6 L1004.6 550.6 L1007.1 551.6 L1009.6 552.6 L1012.1 553.6 L1014.6 554.6 L1017.1 555.6 L1019.6 556.6 L1022.1 557.6 L1024.6 558.6 L1027.1 559.5 L1029.6 560.5 L1032.1 561.5 L1034.6 562.5 L1037.1 563.5 L1039.6 564.4 L1042.1 565.4 L1044.6 566.3 L1047.1 567.3 L1049.6 568.2 L1052.1 569.2 L1054.6 570.1 L1057.1 571.1 L1059.6 572.0 L1062.1 572.9 L1064.6 573.9 L1067.1 574.8 L1069.6 575.7 L1072.1 576.6 L1074.6 577.5 L1077.1 578.4 L1079.6 579.3 L1082.0 580.2 L1084.5 581.1 L1087.0 582.0 L1089.5 582.9 L1092.0 583.8 L1094.5 584.7 L1097.0 585.6 L1099.5 586.4 L1102.0 587.3 L1104.5 588.2 L1107.0 589.0 L1109.5 589.9 L1112.0 590.8 L1114.5 591.6 L1117.0 592.5 L1119.5 593.3 L1122.0 594.2 L1124.5 595.0 L1127.0 595.9 L1129.5 596.7 L1132.0 597.5 L1134.5 598.4 L1137.0 599.2 L1139.5 600.0 L1142.0 600.9 L1144.5 601.7 L1147.0 602.5 L1149.5 603.3 L1152.0 604.1 L1154.5 605.0 L1157.0 605.8 L1159.5 606.6 L1162.0 607.4 L1164.5 608.2 L1167.0 609.0 L1169.5 609.8 L1172.0 610.6 L1174.4 611.4 L1176.9 612.2 L1179.4 613.0 L1181.9 613.8 L1184.4 614.6 L1186.9 615.3 L1189.4 616.1 L1191.9 616.9 L1194.4 617.7 L1196.9 618.5 L1199.4 619.2 L1201.9 620.0 L1204.4 620.8 L1206.9 621.5 L1209.4 622.3 L1211.9 623.0 L1214.4 623.8 L1216.9 624.5 L1219.4 625.3 L1221.9 626.0 L1224.4 626.8 L1226.9 627.5 L1229.4 628.2 L1231.9 629.0 L1234.4 629.7 L1236.9 630.4 L1239.4 631.2 L1241.9 631.9 L1244.4 632.6 L1246.9 633.3 L1249.4 634.0 L1251.9 634.7 L1254.4 635.4 L1256.9 636.1 L1259.4 636.8 L1261.9 637.5 L1264.4 638.2 L1266.8 638.9 L1269.3 639.6 L1271.8 640.2 L1274.3 640.9 L1276.8 641.6 L1279.3 642.2 L1281.8 642.9 L1284.3 643.5 L1286.8 644.2 L1289.3 644.8 L1291.8 645.4 L1294.3 646.1 L1296.8 646.7 L1299.3 647.3 L1301.8 647.9 L1304.3 648.5 L1306.8 649.1 L1309.3 649.7 L1311.8 650.2 L1314.3 650.8 L1316.8 651.4 L1319.3 651.9 L1321.8 652.4 L1324.3 653.0 L1326.8 653.5 L1329.3 654.0 L1331.8 654.5 L1334.3 655.0 L1336.8 655.5 L1339.3 656.0 L1341.8 656.4 L1344.3 656.9 L1346.8 657.3 L1349.3 657.8 L1351.8 658.2 L1354.3 658.6 L1356.8 659.0 L1359.2 659.4 L1361.7 659.7 L1364.2 660.1 L1366.7 660.4 L1369.2 660.8 L1371.7 661.1 L1374.2 661.4 L1376.7 661.7 L1379.2 662.0 L1381.7 662.3 L1384.2 662.6 L1386.7 662.8 L1389.2 663.1 L1391.7 663.3 L1394.2 663.6 L1396.7 663.8 L1399.2 664.0 L1401.7 664.2 L1404.2 664.4 L1406.7 664.6 L1409.2 664.8 L1411.7 665.0 L1414.2 665.2 L1416.7 665.4 L1419.2 665.6 L1421.7 665.8 L1424.2 666.0 L1426.7 666.2 L1429.2 666.4 L1431.7 666.6 L1434.2 666.7 L1436.7 666.9 L1439.2 667.1 L1441.7 667.3 L1444.2 667.5 L1446.7 667.7 L1449.2 667.9 L1451.6 668.1 L1454.1 668.3 L1456.6 668.5 L1459.1 668.8 L1461.6 669.0 L1464.1 669.2 L1466.6 669.5 L1469.1 669.7 L1471.6 670.0 L1474.1 670.3 L1476.6 670.5 L1479.1 670.8 L1481.6 671.1 L1484.1 671.4 L1486.6 671.7 L1489.1 671.9 L1491.6 672.2 L1494.1 672.5 L1496.6 672.7 L1499.1 673.0 L1501.6 673.2 L1504.1 673.4 L1506.6 673.6 L1509.1 673.8 L1511.6 674.0 L1514.1 674.1 L1516.6 674.3 L1519.1 674.4 L1521.6 674.5 L1524.1 674.5 L1526.6 674.5 L1529.1 674.6 L1531.6 674.5 L1534.1 674.5 L1536.6 674.5 L1539.1 674.4 L1541.6 674.4 L1544.0 674.3 L1546.5 674.2 L1549.0 674.2 L1551.5 674.1 L1554.0 674.0 L1556.5 674.0 L1559.0 673.9 L1561.5 673.8 L1564.0 673.8 L1566.5 673.8 L1569.0 673.7 L1571.5 673.7 L1574.0 673.8 L1576.5 673.8 L1579.0 673.9 L1581.5 674.0 L1584.0 674.1 L1586.5 674.2 L1589.0 674.4"/>
<path fill="#EF4040" stroke="none" d="M200.1 106.9 L201.6 108.2 L203.0 109.6 L204.5 110.9 L206.0 112.2 L207.5 113.5 L208.9 114.8 L210.4 116.2 L211.9 117.5 L213.3 118.9 L214.8 120.2 L216.3 121.6 L217.8 122.9 L219.2 124.3 L220.7 125.6 L222.2 127.0 L223.7 128.3 L225.3 129.7 L226.8 131.0 L228.3 132.3 L229.9 133.6 L231.5 134.9 L233.0 136.2 L234.6 137.5 L236.3 138.8 L237.9 140.0 L239.6 141.2 L241.3 142.4 L242.9 143.6 L244.7 144.7 L246.4 145.8 L248.1 146.9 L249.9 148.0 L251.7 149.1 L253.4 150.1 L255.2 151.1 L257.1 152.0 L258.9 153.0 L260.7 153.9 L262.6 154.8 L264.4 155.7 L266.3 156.5 L268.2 157.4 L270.1 158.2 L272.0 158.9 L273.9 159.7 L275.8 160.4 L277.7 161.1 L279.6 161.8 L281.6 162.5 L283.5 163.1 L285.5 163.7 L287.4 164.3 L289.4 164.9 L291.3 165.5 L293.3 166.0 L295.3 166.5 L297.2 167.1 L299.2 167.5 L301.2 168.0 L303.2 168.5 L305.2 168.9 L307.2 169.3 L309.1 169.7 L311.1 170.1 L313.1 170.5 L315.1 170.8 L317.1 171.2 L319.1 171.5 L321.1 171.8 L323.1 172.1 L325.1 172.4 L327.1 172.7 L329.1 173.0 L331.1 173.3 L333.1 173.6 L335.1 173.8 L337.1 174.1 L339.1 174.3 L341.0 174.6 L343.0 174.8 L345.0 175.0 L347.0 175.3 L349.0 175.5 L351.0 175.7 L353.0 176.0 L355.0 176.2 L356.9 176.4 L358.9 176.7 L360.9 176.9 L362.9 177.1 L364.9 177.3 L366.9 177.6 L368.9 177.8 L370.9 178.0 L372.9 178.2 L374.8 178.4 L376.8 178.7 L378.8 178.9 L380.8 179.1 L382.8 179.3 L384.8 179.5 L386.8 179.7 L388.8 179.9 L390.8 180.0 L392.8 180.2 L394.8 180.4 L396.8 180.6 L398.8 180.7 L400.8 180.9 L402.8 181.1 L404.8 181.2 L406.8 181.4 L408.8 181.5 L410.8 181.6 L412.8 181.8 L414.8 181.9 L416.8 182.0 L418.9 182.1 L420.9 182.2 L422.9 182.3 L424.9 182.4 L426.9 182.5 L428.9 182.6 L430.9 182.6 L432.9 182.7 L434.9 182.7 L436.9 182.8 L438.9 182.9 L440.9 182.9 L442.9 183.0 L444.9 183.0 L446.9 183.1 L448.9 183.2 L450.9 183.3 L452.8 183.3 L454.8 183.4 L456.8 183.5 L458.8 183.6 L460.7 183.8 L462.7 183.9 L464.7 184.1 L466.6 184.2 L468.6 184.4 L470.5 184.6 L472.5 184.8 L474.4 185.1 L476.3 185.3 L478.3 185.6 L480.2 185.9 L482.1 186.2 L484.0 186.6 L485.9 186.9 L487.8 187.3 L489.7 187.7 L491.6 188.2 L493.5 188.7 L495.3 189.2 L497.2 189.7 L499.1 190.3 L500.9 190.9 L502.7 191.5 L504.6 192.1 L506.4 192.8 L508.2 193.5 L510.0 194.2 L511.9 194.9 L513.7 195.6 L515.5 196.4 L517.3 197.2 L519.1 197.9 L520.9 198.7 L522.7 199.5 L524.5 200.3 L526.3 201.2 L528.2 202.0 L530.0 202.8 L531.8 203.6 L533.6 204.5 L535.4 205.3 L537.2 206.1 L539.0 207.0 L540.9 207.8 L542.7 208.6 L544.5 209.5 L546.3 210.3 L548.1 211.1 L549.9 212.0 L551.7 212.8 L553.5 213.6 L555.3 214.5 L557.1 215.3 L558.9 216.2 L560.7 217.0 L562.4 217.9 L564.2 218.8 L566.0 219.7 L567.7 220.6 L569.5 221.5 L571.2 222.4 L573.0 223.3 L574.7 224.3 L576.4 225.2 L578.1 226.2 L579.9 227.1 L581.5 228.1 L583.2 229.1 L584.9 230.1 L586.6 231.2 L588.2 232.2 L589.8 233.3 L591.5 234.3 L593.1 235.4 L594.7 236.5 L596.3 237.7 L597.8 238.8 L599.4 240.0 L600.9 241.2 L602.5 242.4 L604.0 243.6 L605.5 244.8 L606.9 246.1 L608.4 247.4 L609.9 248.7 L611.3 250.0 L612.7 251.3 L614.1 252.6 L615.5 254.0 L616.9 255.4 L618.3 256.8 L619.7 258.2 L621.0 259.6 L622.4 261.0 L623.7 262.4 L625.1 263.9 L626.4 265.3 L627.7 266.8 L629.0 268.3 L630.3 269.8 L631.7 271.3 L632.9 272.7 L634.2 274.2 L635.5 275.8 L636.8 277.3 L638.1 278.8 L639.4 280.3 L640.6 281.8 L641.9 283.4 L643.2 284.9 L644.4 286.4 L645.7 288.0 L647.0 289.5 L648.2 291.0 L649.5 292.6 L650.7 294.1 L652.0 295.7 L653.2 297.2 L654.5 298.8 L655.7 300.3 L657.0 301.9 L658.2 303.4 L659.5 305.0 L660.7 306.6 L662.0 308.1 L663.2 309.7 L664.4 311.2 L665.7 312.8 L666.9 314.4 L668.1 315.9 L669.4 317.5 L670.6 319.1 L671.8 320.6 L673.1 322.2 L674.3 323.8 L675.5 325.4 L676.8 326.9 L678.0 328.5 L679.2 330.1 L680.5 331.7 L681.7 333.2 L682.9 334.8 L684.2 336.4 L685.5 338.0 L686.7 339.5 L688.0 341.1 L689.3 342.7 L690.6 344.2 L691.9 345.8 L693.2 347.3 L694.5 348.8 L695.8 350.4 L697.1 351.9 L698.5 353.4 L699.8 354.9 L701.2 356.4 L702.6 357.9 L704.0 359.4 L705.4 360.9 L706.8 362.3 L708.2 363.8 L709.7 365.2 L711.1 366.6 L712.6 368.0 L714.1 369.4 L715.6 370.8 L717.1 372.2 L718.6 373.5 L720.1 374.9 L721.7 376.2 L723.2 377.5 L724.7 378.8 L726.3 380.1 L727.8 381.4 L729.4 382.7 L730.9 384.0 L732.5 385.3 L734.0 386.5 L735.5 387.8 L737.1 389.1 L738.6 390.3 L740.2 391.6 L741.7 392.9 L743.3 394.1 L744.8 395.4 L746.4 396.7 L747.9 397.9 L749.5 399.2 L751.0 400.5 L752.6 401.7 L754.1 403.0 L755.7 404.3 L757.2 405.5 L758.8 406.8 L760.4 408.0 L761.9 409.3 L763.5 410.5 L765.1 411.8 L766.7 413.0 L768.3 414.3 L769.9 415.5 L771.4 416.7 L773.1 417.9 L774.7 419.1 L776.3 420.4 L777.9 421.6 L779.5 422.8 L781.1 423.9 L782.8 425.1 L784.4 426.3 L786.1 427.5 L787.7 428.6 L789.4 429.8 L791.0 430.9 L792.7 432.1 L794.4 433.2 L796.0 434.3 L797.7 435.4 L799.4 436.5 L801.1 437.7 L802.8 438.8 L804.4 439.8 L806.1 440.9 L807.8 442.0 L809.5 443.1 L811.2 444.2 L812.9 445.2 L814.6 446.3 L816.4 447.3 L818.1 448.4 L819.8 449.4 L821.5 450.5 L823.2 451.5 L824.9 452.6 L826.7 453.6 L828.4 454.6 L830.1 455.6 L831.8 456.7 L833.6 457.7 L835.3 458.7 L837.0 459.7 L838.7 460.7 L840.5 461.7 L842.2 462.7 L843.9 463.7 L845.7 464.7 L847.4 465.7 L849.1 466.7 L850.8 467.7 L852.6 468.7 L854.3 469.8 L856.0 470.8 L857.7 471.8 L859.5 472.8 L861.2 473.8 L862.9 474.8 L864.6 475.8 L866.4 476.8 L868.1 477.8 L869.8 478.8 L871.5 479.8 L873.2 480.8 L874.9 481.9 L876.6 482.9 L878.3 483.9 L880.0 484.9 L881.7 486.0 L883.4 487.0 L885.1 488.0 L886.8 489.1 L888.5 490.1 L890.2 491.2 L891.9 492.2 L893.6 493.3 L895.3 494.3 L896.9 495.4 L898.6 496.5 L900.3 497.5 L902.0 498.6 L903.7 499.7 L905.3 500.8 L907.0 501.8 L908.7 502.9 L910.3 504.0 L912.0 505.1 L913.7 506.2 L915.3 507.3 L917.0 508.4 L918.7 509.5 L920.3 510.6 L922.0 511.7 L923.6 512.8 L925.3 513.9 L926.9 515.0 L928.6 516.1 L930.3 517.2 L931.9 518.3 L933.6 519.4 L935.3 520.5 L937.0 521.7 L938.6 522.8 L940.3 523.8 L942.0 524.9 L943.8 526.0 L945.5 527.1 L947.2 528.2 L948.9 529.2 L950.7 530.2 L952.5 531.3 L954.2 532.3 L956.0 533.3 L957.8 534.2 L959.6 535.2 L961.4 536.1 L963.2 537.1 L965.0 538.0 L966.8 538.9 L968.6 539.8 L970.5 540.7 L972.3 541.5 L974.1 542.4 L976.0 543.2 L977.8 544.0 L979.6 544.9 L981.5 545.7 L983.3 546.5 L985.2 547.3 L987.0 548.1 L988.9 548.9 L990.8 549.6 L992.6 550.4 L994.5 551.2 L996.3 551.9 L998.2 552.7 L1000.0 553.4 L1001.9 554.2 L1003.7 554.9 L1005.6 555.7 L1007.5 556.4 L1009.3 557.2 L1011.2 557.9 L1013.0 558.7 L1014.9 559.4 L1016.7 560.1 L1018.6 560.9 L1020.5 561.6 L1022.3 562.4 L1024.2 563.1 L1026.1 563.8 L1027.9 564.6 L1029.8 565.3 L1031.6 566.0 L1033.5 566.7 L1035.4 567.5 L1037.2 568.2 L1039.1 568.9 L1041.0 569.6 L1042.8 570.3 L1044.7 571.1 L1046.6 571.8 L1048.5 572.5 L1050.3 573.2 L1052.2 573.9 L1054.1 574.6 L1056.0 575.3 L1057.8 576.0 L1059.7 576.7 L1061.6 577.4 L1063.5 578.1 L1065.3 578.8 L1067.2 579.5 L1069.1 580.2 L1071.0 580.9 L1072.9 581.5 L1074.7 582.2 L1076.6 582.9 L1078.5 583.6 L1080.4 584.3 L1082.3 584.9 L1084.2 585.6 L1086.0 586.3 L1087.9 587.0 L1089.8 587.6 L1091.7 588.3 L1093.6 589.0 L1095.5 589.6 L1097.4 590.3 L1099.3 590.9 L1101.1 591.6 L1103.0 592.3 L1104.9 592.9 L1106.8 593.6 L1108.7 594.2 L1110.6 594.9 L1112.5 595.5 L1114.4 596.2 L1116.3 596.8 L1118.2 597.5 L1120.1 598.1 L1122.0 598.7 L1123.9 599.4 L1125.8 600.0 L1127.7 600.7 L1129.6 601.3 L1131.4 601.9 L1133.3 602.6 L1135.2 603.2 L1137.1 603.8 L1139.0 604.4 L1140.9 605.1 L1142.8 605.7 L1144.7 606.3 L1146.6 607.0 L1148.5 607.6 L1150.4 608.2 L1152.3 608.8 L1154.2 609.4 L1156.1 610.1 L1158.1 610.7 L1160.0 611.3 L1161.9 611.9 L1163.8 612.5 L1165.7 613.1 L1167.6 613.7 L1169.5 614.3 L1171.4 615.0 L1173.3 615.6 L1175.2 616.2 L1177.1 616.8 L1179.0 617.4 L1180.9 618.0 L1182.8 618.6 L1184.7 619.2 L1186.6 619.8 L1188.6 620.4 L1190.5 621.0 L1192.4 621.6 L1194.3 622.2 L1196.2 622.7 L1198.1 623.3 L1200.0 623.9 L1201.9 624.5 L1203.8 625.1 L1205.8 625.7 L1207.7 626.3 L1209.6 626.8 L1211.5 627.4 L1213.4 628.0 L1215.3 628.6 L1217.3 629.1 L1219.2 629.7 L1221.1 630.3 L1223.0 630.9 L1224.9 631.4 L1226.8 632.0 L1228.8 632.6 L1230.7 633.1 L1232.6 633.7 L1234.5 634.2 L1236.5 634.8 L1238.4 635.3 L1240.3 635.9 L1242.2 636.4 L1244.1 637.0 L1246.1 637.5 L1248.0 638.1 L1249.9 638.6 L1251.9 639.2 L1253.8 639.7 L1255.7 640.3 L1257.6 640.8 L1259.6 641.3 L1261.5 641.9 L1263.4 642.4 L1265.4 642.9 L1267.3 643.4 L1269.2 644.0 L1271.2 644.5 L1273.1 645.0 L1275.0 645.5 L1277.0 646.0 L1278.9 646.5 L1280.8 647.0 L1282.8 647.6 L1284.7 648.1 L1286.7 648.5 L1288.6 649.0 L1290.6 649.5 L1292.5 650.0 L1294.5 650.5 L1296.4 651.0 L1298.4 651.5 L1300.3 651.9 L1302.3 652.4 L1304.2 652.8 L1306.2 653.3 L1308.1 653.8 L1310.1 654.2 L1312.0 654.7 L1314.0 655.1 L1316.0 655.5 L1317.9 656.0 L1319.9 656.4 L1321.8 656.8 L1323.8 657.2 L1325.8 657.6 L1327.7 658.0 L1329.7 658.4 L1331.7 658.8 L1333.7 659.2 L1335.6 659.6 L1337.6 660.0 L1339.6 660.3 L1341.6 660.7 L1343.5 661.0 L1345.5 661.4 L1347.5 661.7 L1349.5 662.1 L1351.5 662.4 L1353.5 662.7 L1355.4 663.0 L1357.4 663.3 L1359.4 663.6 L1361.4 663.9 L1363.4 664.2 L1365.4 664.5 L1367.4 664.8 L1369.4 665.0 L1371.4 665.3 L1373.4 665.5 L1375.4 665.8 L1377.4 666.0 L1379.4 666.2 L1381.4 666.4 L1383.4 666.7 L1385.4 666.9 L1387.4 667.1 L1389.4 667.3 L1391.4 667.5 L1393.4 667.6 L1395.4 667.8 L1397.4 668.0 L1399.4 668.2 L1401.4 668.4 L1403.4 668.5 L1405.4 668.7 L1407.4 668.9 L1409.4 669.0 L1411.3 669.2 L1413.3 669.3 L1415.3 669.5 L1417.3 669.6 L1419.3 669.8 L1421.3 669.9 L1423.3 670.1 L1425.3 670.2 L1427.3 670.4 L1429.3 670.5 L1431.3 670.7 L1433.3 670.8 L1435.3 671.0 L1437.3 671.1 L1439.2 671.3 L1441.2 671.4 L1443.2 671.6 L1445.2 671.7 L1447.2 671.9 L1449.2 672.1 L1451.2 672.2 L1453.1 672.4 L1455.1 672.6 L1457.1 672.8 L1459.1 672.9 L1461.1 673.1 L1463.0 673.3 L1465.0 673.5 L1467.0 673.7 L1469.0 673.9 L1471.0 674.1 L1472.9 674.3 L1474.9 674.5 L1476.9 674.8 L1478.9 675.0 L1480.9 675.2 L1482.8 675.4 L1484.8 675.6 L1486.8 675.9 L1488.8 676.1 L1490.8 676.3 L1492.8 676.5 L1494.8 676.7 L1496.8 676.9 L1498.8 677.1 L1500.8 677.3 L1502.8 677.5 L1504.8 677.6 L1506.8 677.8 L1508.9 677.9 L1510.9 678.1 L1512.9 678.2 L1514.9 678.3 L1516.9 678.4 L1519.0 678.5 L1521.0 678.5 L1523.0 678.6 L1525.0 678.6 L1527.1 678.6 L1529.1 678.6 L1531.1 678.6 L1533.1 678.6 L1535.2 678.6 L1537.2 678.6 L1539.2 678.5 L1541.2 678.5 L1543.2 678.4 L1545.2 678.4 L1547.2 678.3 L1549.2 678.3 L1551.2 678.2 L1553.2 678.1 L1555.2 678.1 L1557.2 678.0 L1559.2 678.0 L1561.1 677.9 L1563.1 677.9 L1565.1 677.9 L1567.1 677.8 L1569.1 677.8 L1571.0 677.8 L1573.0 677.8 L1575.0 677.9 L1576.9 677.9 L1578.9 678.0 L1580.9 678.0 L1582.8 678.1 L1584.8 678.2 L1586.7 678.4 L1588.7 678.5 L1589.3 670.3 L1587.3 670.1 L1585.3 670.0 L1583.2 669.9 L1581.2 669.8 L1579.2 669.8 L1577.1 669.7 L1575.1 669.7 L1573.1 669.7 L1571.1 669.7 L1569.0 669.7 L1567.0 669.7 L1565.0 669.7 L1563.0 669.7 L1561.0 669.8 L1559.0 669.8 L1557.0 669.8 L1555.0 669.9 L1552.9 670.0 L1551.0 670.0 L1549.0 670.1 L1547.0 670.1 L1545.0 670.2 L1543.0 670.2 L1541.0 670.3 L1539.0 670.3 L1537.0 670.4 L1535.0 670.4 L1533.1 670.4 L1531.1 670.5 L1529.1 670.5 L1527.1 670.5 L1525.2 670.4 L1523.2 670.4 L1521.2 670.3 L1519.3 670.3 L1517.3 670.2 L1515.3 670.1 L1513.4 670.0 L1511.4 669.8 L1509.4 669.7 L1507.5 669.5 L1505.5 669.4 L1503.5 669.2 L1501.6 669.0 L1499.6 668.8 L1497.6 668.6 L1495.6 668.4 L1493.7 668.2 L1491.7 668.0 L1489.7 667.8 L1487.7 667.6 L1485.8 667.4 L1483.8 667.1 L1481.8 666.9 L1479.8 666.7 L1477.8 666.5 L1475.8 666.3 L1473.8 666.0 L1471.8 665.8 L1469.8 665.6 L1467.8 665.4 L1465.8 665.2 L1463.8 665.0 L1461.8 664.8 L1459.8 664.7 L1457.8 664.5 L1455.8 664.3 L1453.8 664.1 L1451.9 664.0 L1449.9 663.8 L1447.9 663.6 L1445.9 663.5 L1443.9 663.3 L1441.9 663.2 L1439.9 663.0 L1437.9 662.9 L1435.9 662.7 L1433.9 662.6 L1431.9 662.4 L1429.9 662.3 L1427.9 662.1 L1425.9 662.0 L1423.9 661.8 L1421.9 661.7 L1420.0 661.5 L1418.0 661.4 L1416.0 661.2 L1414.0 661.1 L1412.0 660.9 L1410.0 660.8 L1408.0 660.6 L1406.0 660.4 L1404.1 660.3 L1402.1 660.1 L1400.1 659.9 L1398.1 659.7 L1396.1 659.6 L1394.2 659.4 L1392.2 659.2 L1390.2 659.0 L1388.2 658.8 L1386.2 658.6 L1384.3 658.4 L1382.3 658.2 L1380.3 657.9 L1378.4 657.7 L1376.4 657.5 L1374.4 657.2 L1372.4 657.0 L1370.5 656.7 L1368.5 656.5 L1366.6 656.2 L1364.6 655.9 L1362.6 655.6 L1360.7 655.3 L1358.7 655.0 L1356.8 654.7 L1354.8 654.4 L1352.8 654.1 L1350.9 653.8 L1348.9 653.4 L1347.0 653.1 L1345.0 652.7 L1343.1 652.4 L1341.1 652.0 L1339.2 651.6 L1337.2 651.3 L1335.3 650.9 L1333.3 650.5 L1331.4 650.1 L1329.4 649.7 L1327.5 649.3 L1325.6 648.9 L1323.6 648.5 L1321.7 648.1 L1319.7 647.6 L1317.8 647.2 L1315.8 646.8 L1313.9 646.3 L1312.0 645.9 L1310.0 645.5 L1308.1 645.0 L1306.2 644.5 L1304.2 644.1 L1302.3 643.6 L1300.4 643.2 L1298.4 642.7 L1296.5 642.2 L1294.6 641.7 L1292.6 641.2 L1290.7 640.7 L1288.8 640.3 L1286.9 639.8 L1284.9 639.3 L1283.0 638.8 L1281.1 638.3 L1279.2 637.7 L1277.2 637.2 L1275.3 636.7 L1273.4 636.2 L1271.5 635.7 L1269.5 635.2 L1267.6 634.6 L1265.7 634.1 L1263.8 633.6 L1261.9 633.1 L1259.9 632.5 L1258.0 632.0 L1256.1 631.4 L1254.2 630.9 L1252.3 630.4 L1250.3 629.8 L1248.4 629.3 L1246.5 628.7 L1244.6 628.2 L1242.7 627.6 L1240.8 627.1 L1238.8 626.5 L1236.9 626.0 L1235.0 625.4 L1233.1 624.9 L1231.2 624.3 L1229.3 623.7 L1227.4 623.2 L1225.5 622.6 L1223.5 622.0 L1221.6 621.5 L1219.7 620.9 L1217.8 620.3 L1215.9 619.7 L1214.0 619.2 L1212.1 618.6 L1210.2 618.0 L1208.3 617.4 L1206.4 616.8 L1204.5 616.3 L1202.6 615.7 L1200.6 615.1 L1198.7 614.5 L1196.8 613.9 L1194.9 613.3 L1193.0 612.7 L1191.1 612.1 L1189.2 611.5 L1187.3 610.9 L1185.4 610.3 L1183.5 609.7 L1181.6 609.1 L1179.7 608.5 L1177.8 607.9 L1175.9 607.3 L1174.0 606.7 L1172.1 606.1 L1170.2 605.5 L1168.3 604.9 L1166.4 604.3 L1164.5 603.7 L1162.6 603.1 L1160.7 602.4 L1158.8 601.8 L1156.9 601.2 L1155.0 600.6 L1153.1 600.0 L1151.2 599.4 L1149.3 598.7 L1147.4 598.1 L1145.6 597.5 L1143.7 596.9 L1141.8 596.2 L1139.9 595.6 L1138.0 595.0 L1136.1 594.3 L1134.2 593.7 L1132.3 593.1 L1130.4 592.4 L1128.5 591.8 L1126.6 591.2 L1124.7 590.5 L1122.9 589.9 L1121.0 589.2 L1119.1 588.6 L1117.2 588.0 L1115.3 587.3 L1113.4 586.7 L1111.5 586.0 L1109.6 585.4 L1107.8 584.7 L1105.9 584.1 L1104.0 583.4 L1102.1 582.7 L1100.2 582.1 L1098.4 581.4 L1096.5 580.8 L1094.6 580.1 L1092.7 579.4 L1090.8 578.8 L1089.0 578.1 L1087.1 577.4 L1085.2 576.8 L1083.3 576.1 L1081.5 575.4 L1079.6 574.7 L1077.7 574.0 L1075.8 573.4 L1074.0 572.7 L1072.1 572.0 L1070.2 571.3 L1068.3 570.6 L1066.5 569.9 L1064.6 569.2 L1062.7 568.5 L1060.9 567.8 L1059.0 567.1 L1057.1 566.4 L1055.3 565.7 L1053.4 565.0 L1051.6 564.3 L1049.7 563.6 L1047.8 562.9 L1046.0 562.2 L1044.1 561.5 L1042.2 560.8 L1040.4 560.0 L1038.5 559.3 L1036.7 558.6 L1034.8 557.9 L1033.0 557.2 L1031.1 556.4 L1029.2 555.7 L1027.4 555.0 L1025.5 554.2 L1023.7 553.5 L1021.8 552.8 L1020.0 552.0 L1018.1 551.3 L1016.3 550.6 L1014.4 549.8 L1012.6 549.1 L1010.7 548.3 L1008.9 547.6 L1007.0 546.8 L1005.2 546.1 L1003.3 545.3 L1001.5 544.6 L999.6 543.8 L997.8 543.1 L996.0 542.3 L994.1 541.5 L992.3 540.8 L990.5 540.0 L988.7 539.2 L986.8 538.4 L985.0 537.6 L983.2 536.8 L981.4 536.0 L979.6 535.2 L977.8 534.4 L976.0 533.6 L974.3 532.7 L972.5 531.8 L970.7 531.0 L969.0 530.1 L967.2 529.2 L965.5 528.3 L963.7 527.4 L962.0 526.4 L960.3 525.5 L958.6 524.5 L956.9 523.6 L955.2 522.6 L953.5 521.6 L951.8 520.5 L950.2 519.5 L948.5 518.5 L946.8 517.4 L945.2 516.3 L943.5 515.3 L941.9 514.2 L940.2 513.1 L938.5 512.0 L936.9 510.9 L935.2 509.8 L933.6 508.7 L931.9 507.6 L930.3 506.4 L928.6 505.3 L926.9 504.2 L925.3 503.1 L923.6 502.0 L921.9 500.9 L920.2 499.8 L918.6 498.7 L916.9 497.6 L915.2 496.5 L913.5 495.4 L911.8 494.3 L910.2 493.3 L908.5 492.2 L906.8 491.1 L905.1 490.0 L903.4 488.9 L901.7 487.9 L900.0 486.8 L898.3 485.7 L896.6 484.7 L894.9 483.6 L893.2 482.5 L891.5 481.5 L889.8 480.4 L888.1 479.4 L886.4 478.4 L884.6 477.3 L882.9 476.3 L881.2 475.2 L879.5 474.2 L877.8 473.2 L876.0 472.2 L874.3 471.1 L872.6 470.1 L870.9 469.1 L869.1 468.1 L867.4 467.1 L865.7 466.1 L863.9 465.1 L862.2 464.1 L860.5 463.1 L858.8 462.1 L857.0 461.1 L855.3 460.1 L853.6 459.1 L851.8 458.1 L850.1 457.1 L848.4 456.0 L846.7 455.0 L844.9 454.0 L843.2 453.0 L841.5 452.0 L839.8 451.0 L838.1 450.0 L836.4 449.0 L834.6 448.0 L832.9 447.0 L831.2 445.9 L829.5 444.9 L827.8 443.9 L826.1 442.9 L824.4 441.8 L822.7 440.8 L821.0 439.8 L819.3 438.7 L817.7 437.7 L816.0 436.6 L814.3 435.6 L812.6 434.5 L811.0 433.4 L809.3 432.3 L807.6 431.3 L806.0 430.2 L804.3 429.1 L802.7 428.0 L801.0 426.9 L799.4 425.8 L797.7 424.7 L796.1 423.6 L794.5 422.4 L792.9 421.3 L791.2 420.2 L789.6 419.0 L788.0 417.9 L786.4 416.7 L784.8 415.5 L783.2 414.4 L781.6 413.2 L780.1 412.0 L778.5 410.8 L776.9 409.6 L775.3 408.4 L773.8 407.2 L772.2 405.9 L770.6 404.7 L769.1 403.5 L767.5 402.3 L766.0 401.0 L764.4 399.8 L762.9 398.5 L761.3 397.3 L759.8 396.0 L758.2 394.8 L756.7 393.5 L755.1 392.2 L753.6 391.0 L752.1 389.7 L750.5 388.5 L749.0 387.2 L747.4 385.9 L745.9 384.7 L744.3 383.4 L742.8 382.1 L741.2 380.9 L739.7 379.6 L738.2 378.3 L736.6 377.1 L735.1 375.8 L733.6 374.5 L732.1 373.3 L730.5 372.0 L729.0 370.7 L727.5 369.4 L726.1 368.1 L724.6 366.8 L723.1 365.5 L721.7 364.2 L720.2 362.9 L718.8 361.5 L717.4 360.2 L716.0 358.8 L714.6 357.4 L713.2 356.0 L711.9 354.6 L710.5 353.2 L709.2 351.8 L707.8 350.3 L706.5 348.9 L705.2 347.4 L703.9 345.9 L702.6 344.5 L701.3 343.0 L700.0 341.5 L698.7 340.0 L697.5 338.5 L696.2 336.9 L694.9 335.4 L693.7 333.9 L692.5 332.3 L691.2 330.8 L690.0 329.2 L688.7 327.7 L687.5 326.1 L686.3 324.6 L685.1 323.0 L683.8 321.4 L682.6 319.8 L681.4 318.3 L680.1 316.7 L678.9 315.1 L677.7 313.5 L676.4 312.0 L675.2 310.4 L674.0 308.8 L672.7 307.2 L671.5 305.7 L670.2 304.1 L669.0 302.5 L667.7 301.0 L666.5 299.4 L665.3 297.8 L664.0 296.3 L662.7 294.7 L661.5 293.2 L660.2 291.6 L659.0 290.0 L657.7 288.5 L656.5 286.9 L655.2 285.4 L653.9 283.8 L652.7 282.3 L651.4 280.7 L650.1 279.2 L648.8 277.6 L647.5 276.1 L646.3 274.5 L645.0 273.0 L643.7 271.5 L642.4 269.9 L641.1 268.4 L639.8 266.9 L638.4 265.3 L637.1 263.8 L635.8 262.3 L634.4 260.8 L633.1 259.3 L631.7 257.8 L630.3 256.3 L628.9 254.8 L627.6 253.4 L626.1 251.9 L624.7 250.4 L623.3 249.0 L621.8 247.6 L620.4 246.1 L618.9 244.7 L617.4 243.3 L615.9 242.0 L614.3 240.6 L612.8 239.3 L611.2 237.9 L609.6 236.6 L608.0 235.3 L606.4 234.1 L604.8 232.8 L603.2 231.6 L601.5 230.4 L599.8 229.2 L598.1 228.1 L596.4 226.9 L594.7 225.8 L593.0 224.7 L591.3 223.6 L589.5 222.5 L587.8 221.5 L586.0 220.4 L584.3 219.4 L582.5 218.4 L580.7 217.4 L578.9 216.5 L577.2 215.5 L575.4 214.6 L573.6 213.6 L571.8 212.7 L570.0 211.8 L568.2 210.9 L566.3 210.0 L564.5 209.1 L562.7 208.2 L560.9 207.4 L559.1 206.5 L557.3 205.7 L555.4 204.8 L553.6 204.0 L551.8 203.1 L550.0 202.3 L548.1 201.5 L546.3 200.6 L544.5 199.8 L542.7 199.0 L540.9 198.1 L539.1 197.3 L537.3 196.5 L535.4 195.6 L533.6 194.8 L531.8 194.0 L530.0 193.2 L528.1 192.3 L526.3 191.5 L524.4 190.7 L522.6 189.9 L520.7 189.1 L518.9 188.3 L517.0 187.5 L515.1 186.8 L513.2 186.0 L511.3 185.3 L509.4 184.6 L507.4 183.9 L505.5 183.3 L503.5 182.6 L501.6 182.0 L499.6 181.4 L497.6 180.9 L495.6 180.4 L493.6 179.9 L491.6 179.4 L489.6 179.0 L487.6 178.6 L485.5 178.2 L483.5 177.9 L481.5 177.6 L479.5 177.3 L477.4 177.0 L475.4 176.8 L473.4 176.5 L471.4 176.3 L469.3 176.1 L467.3 176.0 L465.3 175.8 L463.3 175.7 L461.3 175.5 L459.2 175.4 L457.2 175.3 L455.2 175.2 L453.2 175.1 L451.2 175.0 L449.2 175.0 L447.2 174.9 L445.2 174.8 L443.2 174.8 L441.2 174.7 L439.2 174.7 L437.2 174.6 L435.2 174.5 L433.2 174.5 L431.2 174.4 L429.2 174.3 L427.2 174.3 L425.2 174.2 L423.3 174.1 L421.3 174.0 L419.3 173.9 L417.3 173.8 L415.3 173.7 L413.4 173.5 L411.4 173.4 L409.4 173.3 L407.4 173.1 L405.4 173.0 L403.5 172.8 L401.5 172.6 L399.5 172.5 L397.5 172.3 L395.5 172.1 L393.6 172.0 L391.6 171.8 L389.6 171.6 L387.6 171.4 L385.6 171.2 L383.7 171.0 L381.7 170.8 L379.7 170.6 L377.7 170.4 L375.7 170.2 L373.8 169.9 L371.8 169.7 L369.8 169.5 L367.8 169.3 L365.8 169.1 L363.9 168.8 L361.9 168.6 L359.9 168.4 L357.9 168.2 L355.9 167.9 L353.9 167.7 L352.0 167.5 L350.0 167.2 L348.0 167.0 L346.0 166.8 L344.0 166.5 L342.1 166.3 L340.1 166.0 L338.1 165.8 L336.2 165.5 L334.2 165.3 L332.2 165.0 L330.3 164.7 L328.3 164.4 L326.3 164.1 L324.4 163.8 L322.4 163.5 L320.5 163.2 L318.6 162.9 L316.6 162.5 L314.7 162.2 L312.7 161.8 L310.8 161.4 L308.9 161.0 L307.0 160.6 L305.1 160.1 L303.1 159.7 L301.2 159.2 L299.3 158.8 L297.5 158.3 L295.6 157.7 L293.7 157.2 L291.8 156.7 L289.9 156.1 L288.1 155.5 L286.2 154.9 L284.4 154.3 L282.5 153.6 L280.7 153.0 L278.9 152.3 L277.1 151.6 L275.3 150.8 L273.5 150.1 L271.7 149.3 L269.9 148.5 L268.1 147.7 L266.4 146.9 L264.7 146.0 L262.9 145.1 L261.2 144.2 L259.5 143.3 L257.8 142.4 L256.2 141.4 L254.5 140.4 L252.8 139.4 L251.2 138.3 L249.6 137.3 L248.0 136.2 L246.4 135.1 L244.8 133.9 L243.3 132.8 L241.7 131.6 L240.2 130.4 L238.7 129.2 L237.2 128.0 L235.6 126.7 L234.2 125.5 L232.7 124.2 L231.2 122.9 L229.7 121.6 L228.2 120.3 L226.8 119.0 L225.3 117.6 L223.8 116.3 L222.4 114.9 L220.9 113.6 L219.4 112.2 L217.9 110.9 L216.5 109.5 L215.0 108.2 L213.5 106.8 L212.0 105.5 L210.5 104.1 L209.0 102.8 L207.5 101.5 L205.9 100.2Z"/></g>
<g><path class="curve" stroke="#1A6FDF" d="M203.0 99.5 L205.5 100.7 L208.0 101.9 L210.5 103.0 L213.0 104.2 L215.5 105.4 L218.0 106.5 L220.5 107.7 L223.0 108.8 L225.5 109.9 L228.0 111.0 L230.5 112.1 L233.0 113.1 L235.5 114.2 L238.0 115.2 L240.5 116.2 L243.0 117.2 L245.5 118.1 L248.0 119.1 L250.5 120.0 L253.0 120.9 L255.5 121.8 L258.0 122.6 L260.5 123.4 L263.0 124.2 L265.5 125.0 L268.0 125.7 L270.5 126.4 L273.0 127.1 L275.5 127.7 L278.0 128.3 L280.5 128.9 L283.0 129.4 L285.5 130.0 L288.0 130.4 L290.5 130.9 L293.0 131.3 L295.5 131.7 L298.0 132.1 L300.5 132.5 L303.0 132.8 L305.5 133.1 L308.0 133.4 L310.5 133.7 L313.0 133.9 L315.5 134.2 L318.0 134.4 L320.5 134.6 L322.9 134.8 L325.4 135.0 L327.9 135.1 L330.4 135.3 L332.9 135.4 L335.4 135.5 L337.9 135.7 L340.4 135.8 L342.9 135.9 L345.4 136.0 L347.9 136.1 L350.4 136.2 L352.9 136.3 L355.4 136.4 L357.9 136.5 L360.4 136.6 L362.9 136.7 L365.4 136.8 L367.9 136.9 L370.4 137.0 L372.9 137.1 L375.4 137.1 L377.9 137.2 L380.4 137.3 L382.9 137.4 L385.4 137.5 L387.9 137.6 L390.4 137.6 L392.9 137.7 L395.4 137.8 L397.9 137.9 L400.4 138.0 L402.9 138.1 L405.4 138.1 L407.9 138.2 L410.4 138.3 L412.9 138.4 L415.4 138.5 L417.9 138.5 L420.4 138.6 L422.9 138.7 L425.4 138.8 L427.9 138.9 L430.4 139.0 L432.9 139.0 L435.4 139.1 L437.9 139.2 L440.4 139.3 L442.9 139.4 L445.4 139.5 L447.9 139.6 L450.4 139.7 L452.9 139.7 L455.4 139.8 L457.9 139.9 L460.4 140.0 L462.9 140.1 L465.4 140.2 L467.9 140.3 L470.4 140.4 L472.9 140.5 L475.4 140.7 L477.9 140.8 L480.4 140.9 L482.9 141.0 L485.4 141.1 L487.9 141.2 L490.4 141.3 L492.9 141.5 L495.4 141.6 L497.9 141.7 L500.4 141.9 L502.9 142.0 L505.4 142.1 L507.9 142.3 L510.4 142.4 L512.9 142.6 L515.4 142.7 L517.9 142.9 L520.4 143.0 L522.9 143.2 L525.4 143.3 L527.9 143.5 L530.4 143.7 L532.9 143.8 L535.4 144.0 L537.9 144.2 L540.4 144.4 L542.9 144.5 L545.4 144.7 L547.9 144.9 L550.4 145.1 L552.9 145.3 L555.4 145.5 L557.9 145.7 L560.3 145.9 L562.8 146.1 L565.3 146.3 L567.8 146.5 L570.3 146.8 L572.8 147.0 L575.3 147.2 L577.8 147.4 L580.3 147.7 L582.8 147.9 L585.3 148.2 L587.8 148.4 L590.3 148.7 L592.8 149.0 L595.3 149.3 L597.8 149.6 L600.3 150.0 L602.8 150.3 L605.3 150.7 L607.8 151.1 L610.3 151.6 L612.8 152.0 L615.3 152.6 L617.8 153.1 L620.3 153.7 L622.8 154.3 L625.3 154.9 L627.8 155.6 L630.3 156.4 L632.8 157.1 L635.3 158.0 L637.8 158.8 L640.3 159.8 L642.8 160.8 L645.3 161.8 L647.8 162.9 L650.3 164.0 L652.8 165.2 L655.3 166.5 L657.8 167.8 L660.3 169.2 L662.8 170.7 L665.3 172.1 L667.8 173.7 L670.3 175.3 L672.8 176.9 L675.3 178.6 L677.8 180.4 L680.3 182.2 L682.8 184.0 L685.3 185.9 L687.8 187.8 L690.3 189.7 L692.8 191.7 L695.3 193.7 L697.8 195.8 L700.3 197.9 L702.8 200.0 L705.3 202.2 L707.8 204.4 L710.3 206.6 L712.8 208.8 L715.3 211.1 L717.8 213.4 L720.3 215.7 L722.8 218.0 L725.3 220.4 L727.8 222.8 L730.3 225.2 L732.8 227.6 L735.3 230.0 L737.8 232.4 L740.3 234.9 L742.8 237.3 L745.3 239.8 L747.8 242.3 L750.3 244.8 L752.8 247.3 L755.3 249.8 L757.8 252.4 L760.3 254.9 L762.8 257.4 L765.3 260.0 L767.8 262.6 L770.3 265.1 L772.8 267.7 L775.3 270.3 L777.8 272.9 L780.3 275.5 L782.8 278.1 L785.3 280.6 L787.8 283.2 L790.3 285.8 L792.8 288.4 L795.3 291.0 L797.7 293.6 L800.2 296.2 L802.7 298.8 L805.2 301.4 L807.7 304.0 L810.2 306.6 L812.7 309.2 L815.2 311.8 L817.7 314.4 L820.2 317.0 L822.7 319.6 L825.2 322.3 L827.7 324.9 L830.2 327.5 L832.7 330.2 L835.2 332.8 L837.7 335.5 L840.2 338.2 L842.7 340.8 L845.2 343.5 L847.7 346.3 L850.2 349.0 L852.7 351.7 L855.2 354.5 L857.7 357.2 L860.2 360.0 L862.7 362.8 L865.2 365.7 L867.7 368.5 L870.2 371.4 L872.7 374.3 L875.2 377.2 L877.7 380.1 L880.2 383.1 L882.7 386.0 L885.2 389.1 L887.7 392.1 L890.2 395.1 L892.7 398.2 L895.2 401.3 L897.7 404.5 L900.2 407.7 L902.7 410.9 L905.2 414.1 L907.7 417.4 L910.2 420.7 L912.7 424.0 L915.2 427.4 L917.7 430.8 L920.2 434.2 L922.7 437.7 L925.2 441.2 L927.7 444.8 L930.2 448.4 L932.7 452.0 L935.2 455.7 L937.7 459.4 L940.2 463.2 L942.7 467.0 L945.2 470.9 L947.7 474.8 L950.2 478.7 L952.7 482.7 L955.2 486.7 L957.7 490.8 L960.2 494.9 L962.7 499.1 L965.2 503.3 L967.7 507.5 L970.2 511.7 L972.7 515.9 L975.2 520.1 L977.7 524.4 L980.2 528.6 L982.7 532.8 L985.2 537.0 L987.7 541.2 L990.2 545.4 L992.7 549.5 L995.2 553.7 L997.7 557.7 L1000.2 561.8 L1002.7 565.8 L1005.2 569.7 L1007.7 573.6 L1010.2 577.4 L1012.7 581.2 L1015.2 584.9 L1017.7 588.6 L1020.2 592.2 L1022.7 595.8 L1025.2 599.3 L1027.7 602.7 L1030.2 606.1 L1032.7 609.5 L1035.1 612.7 L1037.6 616.0 L1040.1 619.1 L1042.6 622.2 L1045.1 625.3 L1047.6 628.3 L1050.1 631.2 L1052.6 634.1 L1055.1 636.9 L1057.6 639.7 L1060.1 642.4 L1062.6 645.0 L1065.1 647.6 L1067.6 650.1 L1070.1 652.6 L1072.6 655.0 L1075.1 657.3 L1077.6 659.6 L1080.1 661.8 L1082.6 664.0 L1085.1 666.2 L1087.6 668.2 L1090.1 670.3 L1092.6 672.2 L1095.1 674.1 L1097.6 676.0 L1100.1 677.8 L1102.6 679.6 L1105.1 681.3 L1107.6 682.9 L1110.1 684.5 L1112.6 686.1 L1115.1 687.6 L1117.6 689.0 L1120.1 690.4 L1122.6 691.8 L1125.1 693.1 L1127.6 694.4 L1130.1 695.6 L1132.6 696.7 L1135.1 697.9 L1137.6 698.9 L1140.1 700.0 L1142.6 700.9 L1145.1 701.9 L1147.6 702.8 L1150.1 703.6 L1152.6 704.4 L1155.1 705.2 L1157.6 705.9 L1160.1 706.6 L1162.6 707.2 L1165.1 707.8 L1167.6 708.4 L1170.1 708.9 L1172.6 709.4 L1175.1 709.8 L1177.6 710.3 L1180.1 710.7 L1182.6 711.0 L1185.1 711.4 L1187.6 711.7 L1190.1 711.9 L1192.6 712.2 L1195.1 712.4 L1197.6 712.7 L1200.1 712.8 L1202.6 713.0 L1205.1 713.2 L1207.6 713.3 L1210.1 713.4 L1212.6 713.5 L1215.1 713.6 L1217.6 713.7 L1220.1 713.8 L1222.6 713.9 L1225.1 713.9 L1227.6 714.0 L1230.1 714.0 L1232.6 714.1 L1235.1 714.1 L1237.6 714.2 L1240.1 714.2 L1242.6 714.2 L1245.1 714.3 L1247.6 714.3 L1250.1 714.3 L1252.6 714.3 L1255.1 714.3 L1257.6 714.4 L1260.1 714.4 L1262.6 714.4 L1265.1 714.4 L1267.6 714.4 L1270.1 714.4 L1272.5 714.4 L1275.0 714.4 L1277.5 714.4 L1280.0 714.4 L1282.5 714.4 L1285.0 714.4 L1287.5 714.4 L1290.0 714.4 L1292.5 714.4 L1295.0 714.4 L1297.5 714.4 L1300.0 714.3 L1302.5 714.3 L1305.0 714.3 L1307.5 714.3 L1310.0 714.3 L1312.5 714.3 L1315.0 714.3 L1317.5 714.3 L1320.0 714.2 L1322.5 714.2 L1325.0 714.2 L1327.5 714.2 L1330.0 714.2 L1332.5 714.2 L1335.0 714.2 L1337.5 714.2 L1340.0 714.1 L1342.5 714.1 L1345.0 714.1 L1347.5 714.1 L1350.0 714.1 L1352.5 714.1 L1355.0 714.1 L1357.5 714.1 L1360.0 714.1 L1362.5 714.1 L1365.0 714.1 L1367.5 714.1 L1370.0 714.1 L1372.5 714.1 L1375.0 714.2 L1377.5 714.2 L1380.0 714.2 L1382.5 714.2 L1385.0 714.2 L1387.5 714.3 L1390.0 714.3 L1391.5 714.1 L1393.0 713.9 L1394.5 713.7 L1396.0 713.2 L1397.5 712.7 L1399.0 712.3 L1400.5 712.1 L1402.0 711.9 L1403.5 711.9 L1405.0 711.9 L1406.5 711.9 L1408.0 711.9 L1409.5 711.9 L1410.9 711.9 L1412.4 711.9 L1413.9 711.9 L1415.4 711.9 L1416.9 711.9 L1418.4 711.9 L1419.9 711.9 L1421.4 711.9 L1422.9 711.9 L1424.4 711.9 L1425.9 711.9 L1427.4 711.9 L1428.9 711.9 L1430.4 711.9 L1431.9 711.9 L1433.4 711.9 L1434.9 711.9 L1436.4 711.9 L1437.9 711.9 L1439.4 711.9 L1440.9 711.9 L1442.4 711.9 L1443.9 711.9 L1445.4 711.9 L1446.9 711.9 L1448.4 711.9 L1449.8 711.9 L1451.3 711.9 L1452.8 711.9 L1454.3 711.9 L1455.8 711.9 L1457.3 711.9 L1458.8 711.9 L1460.3 711.9 L1461.8 711.9 L1463.3 711.9 L1464.8 711.9 L1466.3 711.9 L1467.8 711.9 L1469.3 711.9 L1470.8 711.9 L1472.3 711.9 L1473.8 711.9 L1475.3 711.9 L1476.8 711.9 L1478.3 711.9 L1479.8 711.9 L1481.3 711.9 L1482.8 711.9 L1484.3 711.9 L1485.8 711.9 L1487.3 711.9 L1488.8 711.9 L1490.2 711.9 L1491.7 711.9 L1493.2 711.9 L1494.7 711.9 L1496.2 711.9 L1497.7 711.9 L1499.2 711.9 L1500.7 711.9 L1502.2 711.9 L1503.7 711.9 L1505.2 711.9 L1506.7 711.9 L1508.2 711.9 L1509.7 711.9 L1511.2 711.9 L1512.7 711.9 L1514.2 711.9 L1515.7 711.9 L1517.2 711.9 L1518.7 711.9 L1520.2 711.9 L1521.7 711.9 L1523.2 711.9 L1524.7 711.9 L1526.2 711.9 L1527.7 711.9 L1529.2 711.9 L1530.6 711.9 L1532.1 711.9 L1533.6 711.9 L1535.1 711.9 L1536.6 711.9 L1538.1 711.9 L1539.6 711.9 L1541.1 711.9 L1542.6 711.9 L1544.1 711.9 L1545.6 711.9 L1547.1 711.9 L1548.6 711.9 L1550.1 711.9 L1551.6 711.9 L1553.1 711.9 L1554.6 711.9 L1556.1 711.9 L1557.6 711.9 L1559.1 711.9 L1560.6 711.9 L1562.1 711.9 L1563.6 711.8 L1565.1 711.7 L1566.6 711.5 L1568.1 711.3 L1569.5 711.0 L1571.0 710.7 L1572.5 710.6 L1574.0 710.5 L1575.5 710.4 L1577.0 710.3 L1578.5 710.2 L1580.0 710.2 L1581.5 710.2 L1583.0 710.1 L1584.5 710.1 L1586.0 710.1 L1587.5 710.1 L1589.0 710.1"/>
<path fill="#1A6FDF" stroke="none" d="M201.1 103.4 L202.9 104.3 L204.7 105.2 L206.5 106.0 L208.3 106.9 L210.2 107.7 L212.0 108.6 L213.8 109.4 L215.6 110.3 L217.5 111.1 L219.3 111.9 L221.1 112.8 L223.0 113.6 L224.8 114.4 L226.7 115.2 L228.5 116.0 L230.4 116.8 L232.3 117.6 L234.1 118.3 L236.0 119.1 L237.9 119.8 L239.7 120.6 L241.6 121.3 L243.5 122.1 L245.4 122.8 L247.3 123.5 L249.2 124.2 L251.1 124.8 L253.0 125.5 L255.0 126.2 L256.9 126.8 L258.8 127.4 L260.8 128.0 L262.7 128.6 L264.7 129.2 L266.6 129.8 L268.6 130.3 L270.5 130.9 L272.5 131.4 L274.5 131.9 L276.5 132.4 L278.5 132.8 L280.4 133.2 L282.4 133.7 L284.4 134.1 L286.4 134.5 L288.4 134.8 L290.4 135.2 L292.4 135.5 L294.5 135.8 L296.5 136.1 L298.5 136.4 L300.5 136.7 L302.5 137.0 L304.5 137.2 L306.5 137.4 L308.5 137.7 L310.5 137.9 L312.6 138.1 L314.6 138.3 L316.6 138.4 L318.6 138.6 L320.6 138.8 L322.6 138.9 L324.6 139.0 L326.6 139.2 L328.6 139.3 L330.7 139.4 L332.7 139.5 L334.7 139.6 L336.7 139.7 L338.7 139.8 L340.7 139.9 L342.7 140.0 L344.7 140.1 L346.7 140.2 L348.7 140.3 L350.7 140.3 L352.7 140.4 L354.7 140.5 L356.7 140.6 L358.7 140.6 L360.7 140.7 L362.7 140.8 L364.7 140.9 L366.7 140.9 L368.7 141.0 L370.7 141.1 L372.7 141.2 L374.7 141.2 L376.7 141.3 L378.7 141.4 L380.7 141.4 L382.7 141.5 L384.7 141.6 L386.7 141.6 L388.7 141.7 L390.7 141.8 L392.7 141.8 L394.7 141.9 L396.7 142.0 L398.7 142.0 L400.7 142.1 L402.7 142.1 L404.7 142.2 L406.7 142.3 L408.7 142.3 L410.7 142.4 L412.7 142.5 L414.7 142.5 L416.7 142.6 L418.7 142.7 L420.7 142.7 L422.7 142.8 L424.7 142.9 L426.7 142.9 L428.7 143.0 L430.6 143.1 L432.6 143.1 L434.6 143.2 L436.6 143.3 L438.6 143.3 L440.6 143.4 L442.6 143.5 L444.6 143.6 L446.6 143.6 L448.6 143.7 L450.6 143.8 L452.6 143.8 L454.6 143.9 L456.6 144.0 L458.6 144.1 L460.6 144.2 L462.6 144.2 L464.6 144.3 L466.6 144.4 L468.6 144.5 L470.6 144.6 L472.6 144.6 L474.6 144.7 L476.6 144.8 L478.5 144.9 L480.5 145.0 L482.5 145.1 L484.5 145.2 L486.5 145.3 L488.5 145.4 L490.5 145.5 L492.5 145.6 L494.5 145.7 L496.5 145.8 L498.5 145.9 L500.5 146.0 L502.5 146.1 L504.5 146.2 L506.5 146.3 L508.4 146.4 L510.4 146.5 L512.4 146.7 L514.4 146.8 L516.4 146.9 L518.4 147.0 L520.4 147.2 L522.4 147.3 L524.4 147.4 L526.4 147.5 L528.4 147.7 L530.4 147.8 L532.3 147.9 L534.3 148.1 L536.3 148.2 L538.3 148.4 L540.3 148.5 L542.3 148.7 L544.3 148.8 L546.3 149.0 L548.3 149.1 L550.2 149.3 L552.2 149.4 L554.2 149.6 L556.2 149.7 L558.2 149.9 L560.2 150.1 L562.2 150.2 L564.2 150.4 L566.2 150.6 L568.1 150.7 L570.1 150.9 L572.1 151.1 L574.1 151.3 L576.1 151.4 L578.1 151.6 L580.1 151.8 L582.0 152.0 L584.0 152.2 L586.0 152.4 L588.0 152.6 L589.9 152.8 L591.9 153.1 L593.8 153.3 L595.8 153.6 L597.8 153.8 L599.7 154.1 L601.7 154.4 L603.6 154.7 L605.5 155.0 L607.5 155.4 L609.4 155.7 L611.3 156.1 L613.3 156.5 L615.2 156.9 L617.1 157.3 L619.0 157.7 L620.9 158.2 L622.8 158.7 L624.6 159.2 L626.5 159.7 L628.4 160.3 L630.2 160.9 L632.1 161.5 L633.9 162.1 L635.8 162.7 L637.6 163.4 L639.4 164.1 L641.2 164.8 L643.0 165.6 L644.8 166.3 L646.5 167.1 L648.3 167.9 L650.0 168.8 L651.8 169.7 L653.5 170.5 L655.2 171.5 L656.9 172.4 L658.6 173.4 L660.3 174.3 L662.0 175.3 L663.6 176.3 L665.3 177.4 L666.9 178.4 L668.6 179.5 L670.2 180.6 L671.8 181.7 L673.4 182.8 L675.1 183.9 L676.7 185.1 L678.2 186.2 L679.8 187.4 L681.4 188.5 L683.0 189.7 L684.5 190.9 L686.1 192.1 L687.7 193.4 L689.2 194.6 L690.7 195.8 L692.3 197.1 L693.8 198.3 L695.3 199.6 L696.8 200.9 L698.3 202.1 L699.8 203.4 L701.3 204.7 L702.8 206.0 L704.3 207.3 L705.8 208.6 L707.3 210.0 L708.8 211.3 L710.2 212.6 L711.7 213.9 L713.2 215.3 L714.6 216.6 L716.1 218.0 L717.6 219.3 L719.0 220.7 L720.5 222.0 L721.9 223.4 L723.4 224.8 L724.8 226.1 L726.2 227.5 L727.7 228.9 L729.1 230.3 L730.5 231.7 L732.0 233.0 L733.4 234.4 L734.8 235.8 L736.2 237.2 L737.7 238.6 L739.1 240.0 L740.5 241.4 L741.9 242.8 L743.3 244.2 L744.7 245.6 L746.1 247.0 L747.6 248.4 L749.0 249.9 L750.4 251.3 L751.8 252.7 L753.2 254.1 L754.6 255.5 L756.0 257.0 L757.4 258.4 L758.8 259.8 L760.2 261.2 L761.6 262.7 L763.0 264.1 L764.3 265.5 L765.7 266.9 L767.1 268.4 L768.5 269.8 L769.9 271.2 L771.3 272.7 L772.7 274.1 L774.1 275.5 L775.5 277.0 L776.9 278.4 L778.2 279.9 L779.6 281.3 L781.0 282.7 L782.4 284.2 L783.8 285.6 L785.2 287.1 L786.6 288.5 L787.9 289.9 L789.3 291.4 L790.7 292.8 L792.1 294.3 L793.5 295.7 L794.9 297.1 L796.3 298.6 L797.6 300.0 L799.0 301.5 L800.4 302.9 L801.8 304.3 L803.2 305.8 L804.6 307.2 L806.0 308.7 L807.4 310.1 L808.7 311.5 L810.1 313.0 L811.5 314.4 L812.9 315.9 L814.3 317.3 L815.7 318.7 L817.0 320.2 L818.4 321.6 L819.8 323.1 L821.2 324.5 L822.5 326.0 L823.9 327.4 L825.3 328.9 L826.7 330.3 L828.0 331.8 L829.4 333.2 L830.8 334.7 L832.1 336.1 L833.5 337.6 L834.9 339.0 L836.2 340.5 L837.6 341.9 L839.0 343.4 L840.3 344.8 L841.7 346.3 L843.0 347.8 L844.4 349.2 L845.7 350.7 L847.1 352.2 L848.4 353.7 L849.7 355.1 L851.1 356.6 L852.4 358.1 L853.8 359.6 L855.1 361.0 L856.4 362.5 L857.7 364.0 L859.1 365.5 L860.4 367.0 L861.7 368.5 L863.0 370.0 L864.3 371.5 L865.6 373.0 L866.9 374.5 L868.2 376.0 L869.6 377.5 L870.8 379.0 L872.1 380.5 L873.4 382.0 L874.7 383.5 L876.0 385.0 L877.3 386.6 L878.6 388.1 L879.8 389.6 L881.1 391.2 L882.4 392.7 L883.7 394.2 L884.9 395.8 L886.2 397.3 L887.4 398.8 L888.7 400.4 L889.9 401.9 L891.2 403.5 L892.4 405.0 L893.6 406.6 L894.9 408.2 L896.1 409.7 L897.3 411.3 L898.6 412.9 L899.8 414.4 L901.0 416.0 L902.2 417.6 L903.4 419.2 L904.6 420.7 L905.8 422.3 L907.0 423.9 L908.2 425.5 L909.4 427.1 L910.6 428.7 L911.8 430.3 L912.9 431.9 L914.1 433.5 L915.3 435.1 L916.5 436.7 L917.6 438.3 L918.8 439.9 L919.9 441.6 L921.1 443.2 L922.2 444.8 L923.4 446.4 L924.5 448.1 L925.6 449.7 L926.8 451.3 L927.9 453.0 L929.0 454.6 L930.2 456.3 L931.3 457.9 L932.4 459.5 L933.5 461.2 L934.6 462.9 L935.7 464.5 L936.8 466.2 L937.9 467.8 L939.0 469.5 L940.1 471.2 L941.1 472.8 L942.2 474.5 L943.3 476.2 L944.4 477.9 L945.4 479.5 L946.5 481.2 L947.5 482.9 L948.6 484.6 L949.7 486.3 L950.7 488.0 L951.7 489.7 L952.8 491.4 L953.8 493.1 L954.9 494.8 L955.9 496.5 L956.9 498.2 L958.0 499.9 L959.0 501.6 L960.0 503.3 L961.0 505.0 L962.1 506.7 L963.1 508.4 L964.1 510.1 L965.1 511.9 L966.1 513.6 L967.2 515.3 L968.2 517.0 L969.2 518.7 L970.2 520.5 L971.2 522.2 L972.2 523.9 L973.3 525.6 L974.3 527.3 L975.3 529.1 L976.3 530.8 L977.3 532.5 L978.3 534.2 L979.4 536.0 L980.4 537.7 L981.4 539.4 L982.4 541.1 L983.5 542.8 L984.5 544.6 L985.5 546.3 L986.5 548.0 L987.6 549.7 L988.6 551.4 L989.6 553.1 L990.7 554.9 L991.7 556.6 L992.8 558.3 L993.8 560.0 L994.9 561.7 L995.9 563.4 L997.0 565.1 L998.1 566.8 L999.1 568.5 L1000.2 570.2 L1001.3 571.9 L1002.4 573.6 L1003.5 575.3 L1004.6 577.0 L1005.7 578.7 L1006.8 580.4 L1007.9 582.0 L1009.0 583.7 L1010.1 585.4 L1011.2 587.1 L1012.3 588.7 L1013.5 590.4 L1014.6 592.1 L1015.8 593.7 L1016.9 595.4 L1018.1 597.0 L1019.2 598.7 L1020.4 600.3 L1021.6 601.9 L1022.7 603.6 L1023.9 605.2 L1025.1 606.8 L1026.3 608.5 L1027.5 610.1 L1028.7 611.7 L1029.9 613.3 L1031.2 614.9 L1032.4 616.5 L1033.6 618.1 L1034.9 619.7 L1036.1 621.3 L1037.4 622.9 L1038.6 624.4 L1039.9 626.0 L1041.2 627.6 L1042.5 629.1 L1043.8 630.7 L1045.1 632.2 L1046.4 633.8 L1047.7 635.3 L1049.1 636.8 L1050.4 638.3 L1051.7 639.8 L1053.1 641.3 L1054.5 642.8 L1055.8 644.3 L1057.2 645.8 L1058.6 647.3 L1060.0 648.7 L1061.4 650.2 L1062.8 651.6 L1064.3 653.1 L1065.7 654.5 L1067.2 655.9 L1068.6 657.3 L1070.1 658.7 L1071.6 660.1 L1073.1 661.5 L1074.6 662.9 L1076.1 664.2 L1077.6 665.6 L1079.1 666.9 L1080.7 668.3 L1082.2 669.6 L1083.8 670.9 L1085.3 672.2 L1086.9 673.4 L1088.5 674.7 L1090.1 676.0 L1091.8 677.2 L1093.4 678.4 L1095.0 679.6 L1096.7 680.8 L1098.3 682.0 L1100.0 683.2 L1101.7 684.3 L1103.4 685.5 L1105.1 686.6 L1106.8 687.7 L1108.5 688.8 L1110.3 689.9 L1112.0 690.9 L1113.8 692.0 L1115.6 693.0 L1117.3 694.0 L1119.1 695.0 L1120.9 695.9 L1122.8 696.9 L1124.6 697.8 L1126.4 698.7 L1128.3 699.6 L1130.1 700.4 L1132.0 701.3 L1133.9 702.1 L1135.8 702.9 L1137.6 703.7 L1139.6 704.4 L1141.5 705.2 L1143.4 705.9 L1145.3 706.6 L1147.3 707.2 L1149.2 707.9 L1151.2 708.5 L1153.1 709.1 L1155.1 709.7 L1157.1 710.2 L1159.1 710.7 L1161.0 711.2 L1163.0 711.7 L1165.0 712.2 L1167.0 712.6 L1169.0 713.0 L1171.0 713.4 L1173.0 713.8 L1175.1 714.1 L1177.1 714.4 L1179.1 714.8 L1181.1 715.0 L1183.1 715.3 L1185.1 715.6 L1187.2 715.8 L1189.2 716.0 L1191.2 716.2 L1193.2 716.4 L1195.2 716.6 L1197.3 716.8 L1199.3 716.9 L1201.3 717.1 L1203.3 717.2 L1205.3 717.3 L1207.3 717.4 L1209.4 717.5 L1211.4 717.6 L1213.4 717.7 L1215.4 717.8 L1217.4 717.8 L1219.4 717.9 L1221.4 717.9 L1223.4 718.0 L1225.5 718.0 L1227.5 718.1 L1229.5 718.1 L1231.5 718.1 L1233.5 718.2 L1235.5 718.2 L1237.5 718.2 L1239.5 718.3 L1241.5 718.3 L1243.5 718.3 L1245.5 718.3 L1247.5 718.4 L1249.5 718.4 L1251.5 718.4 L1253.5 718.4 L1255.5 718.4 L1257.5 718.4 L1259.5 718.4 L1261.5 718.5 L1263.5 718.5 L1265.5 718.5 L1267.5 718.5 L1269.5 718.5 L1271.5 718.5 L1273.5 718.5 L1275.5 718.5 L1277.5 718.5 L1279.5 718.5 L1281.5 718.5 L1283.5 718.5 L1285.5 718.5 L1287.5 718.5 L1289.5 718.5 L1291.5 718.5 L1293.5 718.4 L1295.5 718.4 L1297.5 718.4 L1299.5 718.4 L1301.5 718.4 L1303.5 718.4 L1305.5 718.4 L1307.5 718.4 L1309.5 718.4 L1311.5 718.4 L1313.5 718.4 L1315.5 718.3 L1317.5 718.3 L1319.5 718.3 L1321.5 718.3 L1323.5 718.3 L1325.5 718.3 L1327.5 718.3 L1329.5 718.3 L1331.5 718.3 L1333.5 718.3 L1335.5 718.2 L1337.5 718.2 L1339.5 718.2 L1341.5 718.2 L1343.5 718.2 L1345.5 718.2 L1347.5 718.2 L1349.5 718.2 L1351.5 718.2 L1353.5 718.2 L1355.5 718.2 L1357.5 718.2 L1359.5 718.2 L1361.5 718.2 L1363.5 718.2 L1365.5 718.2 L1367.5 718.2 L1369.5 718.2 L1371.5 718.2 L1373.5 718.2 L1375.5 718.2 L1377.5 718.2 L1379.4 718.3 L1381.4 718.3 L1383.4 718.3 L1385.5 718.3 L1387.6 718.3 L1389.7 718.4 L1391.9 718.3 L1394.2 718.0 L1396.3 717.6 L1398.1 716.9 L1400.0 716.4 L1401.7 716.2 L1403.4 716.0 L1405.3 716.0 L1407.2 716.0 L1409.2 716.0 L1411.2 716.0 L1413.2 716.0 L1415.2 716.0 L1417.2 716.0 L1419.2 716.0 L1421.2 716.0 L1423.2 716.0 L1425.2 716.0 L1427.2 716.0 L1429.2 716.0 L1431.2 716.0 L1433.2 716.0 L1435.2 716.0 L1437.2 716.0 L1439.2 716.0 L1441.2 716.0 L1443.2 716.0 L1445.2 716.0 L1447.2 716.0 L1449.2 716.0 L1451.2 716.0 L1453.2 716.0 L1455.2 716.0 L1457.2 716.0 L1459.2 716.0 L1461.2 716.0 L1463.2 716.0 L1465.2 716.0 L1467.2 716.0 L1469.2 716.0 L1471.2 716.0 L1473.2 716.0 L1475.2 716.0 L1477.2 716.0 L1479.2 716.0 L1481.2 716.0 L1483.2 716.0 L1485.2 716.0 L1487.2 716.0 L1489.1 716.0 L1491.1 716.0 L1493.1 716.0 L1495.1 716.0 L1497.1 716.0 L1499.1 716.0 L1501.1 716.0 L1503.1 716.0 L1505.1 716.0 L1507.1 716.0 L1509.1 716.0 L1511.1 716.0 L1513.1 716.0 L1515.1 716.0 L1517.1 716.0 L1519.1 716.0 L1521.1 716.0 L1523.1 716.0 L1525.1 716.0 L1527.1 716.0 L1529.1 716.0 L1531.1 716.0 L1533.1 716.0 L1535.1 716.0 L1537.1 716.0 L1539.1 716.0 L1541.1 716.0 L1543.1 716.0 L1545.1 716.0 L1547.1 716.0 L1549.1 716.0 L1551.1 716.0 L1553.1 716.0 L1555.1 716.0 L1557.1 716.0 L1559.2 716.0 L1561.3 716.0 L1563.4 715.9 L1565.5 715.8 L1567.6 715.6 L1569.6 715.2 L1571.5 714.9 L1573.4 714.7 L1575.3 714.5 L1577.2 714.4 L1579.1 714.3 L1581.1 714.3 L1583.1 714.2 L1585.0 714.2 L1587.0 714.2 L1589.0 714.2 L1589.0 706.0 L1587.0 706.0 L1585.0 706.0 L1582.9 706.1 L1580.9 706.1 L1578.9 706.1 L1576.8 706.2 L1574.7 706.3 L1572.6 706.4 L1570.5 706.6 L1568.5 706.9 L1566.6 707.3 L1564.7 707.5 L1562.9 707.7 L1561.0 707.8 L1559.1 707.8 L1557.1 707.8 L1555.1 707.8 L1553.1 707.8 L1551.1 707.8 L1549.1 707.8 L1547.1 707.8 L1545.1 707.8 L1543.1 707.8 L1541.1 707.8 L1539.1 707.8 L1537.1 707.8 L1535.1 707.8 L1533.1 707.8 L1531.1 707.8 L1529.1 707.8 L1527.1 707.8 L1525.1 707.8 L1523.1 707.8 L1521.1 707.8 L1519.1 707.8 L1517.1 707.8 L1515.1 707.8 L1513.1 707.8 L1511.1 707.8 L1509.1 707.8 L1507.1 707.8 L1505.1 707.8 L1503.1 707.8 L1501.1 707.8 L1499.1 707.8 L1497.1 707.8 L1495.1 707.8 L1493.1 707.8 L1491.1 707.8 L1489.1 707.8 L1487.2 707.8 L1485.2 707.8 L1483.2 707.8 L1481.2 707.8 L1479.2 707.8 L1477.2 707.8 L1475.2 707.8 L1473.2 707.8 L1471.2 707.8 L1469.2 707.8 L1467.2 707.8 L1465.2 707.8 L1463.2 707.8 L1461.2 707.8 L1459.2 707.8 L1457.2 707.8 L1455.2 707.8 L1453.2 707.8 L1451.2 707.8 L1449.2 707.8 L1447.2 707.8 L1445.2 707.8 L1443.2 707.8 L1441.2 707.8 L1439.2 707.8 L1437.2 707.8 L1435.2 707.8 L1433.2 707.8 L1431.2 707.8 L1429.2 707.8 L1427.2 707.8 L1425.2 707.8 L1423.2 707.8 L1421.2 707.8 L1419.2 707.8 L1417.2 707.8 L1415.2 707.8 L1413.2 707.8 L1411.2 707.8 L1409.2 707.8 L1407.2 707.8 L1405.1 707.8 L1402.9 707.8 L1400.7 707.9 L1398.5 708.1 L1396.4 708.6 L1394.5 709.3 L1392.7 709.7 L1391.0 710.0 L1389.2 710.2 L1387.4 710.2 L1385.5 710.2 L1383.5 710.1 L1381.5 710.1 L1379.5 710.1 L1377.5 710.1 L1375.5 710.1 L1373.5 710.1 L1371.5 710.1 L1369.5 710.1 L1367.5 710.0 L1365.5 710.0 L1363.5 710.0 L1361.5 710.0 L1359.5 710.0 L1357.5 710.0 L1355.5 710.0 L1353.5 710.0 L1351.5 710.0 L1349.5 710.0 L1347.5 710.0 L1345.5 710.1 L1343.5 710.1 L1341.5 710.1 L1339.5 710.1 L1337.5 710.1 L1335.5 710.1 L1333.5 710.1 L1331.5 710.1 L1329.5 710.1 L1327.5 710.1 L1325.5 710.1 L1323.5 710.1 L1321.5 710.2 L1319.5 710.2 L1317.5 710.2 L1315.5 710.2 L1313.5 710.2 L1311.5 710.2 L1309.5 710.2 L1307.5 710.2 L1305.5 710.2 L1303.5 710.2 L1301.5 710.3 L1299.5 710.3 L1297.5 710.3 L1295.5 710.3 L1293.5 710.3 L1291.5 710.3 L1289.5 710.3 L1287.5 710.3 L1285.5 710.3 L1283.5 710.3 L1281.5 710.3 L1279.5 710.3 L1277.5 710.3 L1275.5 710.3 L1273.5 710.3 L1271.5 710.3 L1269.5 710.3 L1267.5 710.3 L1265.5 710.3 L1263.5 710.3 L1261.5 710.3 L1259.5 710.3 L1257.6 710.3 L1255.6 710.3 L1253.6 710.2 L1251.6 710.2 L1249.6 710.2 L1247.6 710.2 L1245.6 710.2 L1243.6 710.1 L1241.6 710.1 L1239.6 710.1 L1237.6 710.1 L1235.6 710.0 L1233.6 710.0 L1231.6 710.0 L1229.6 709.9 L1227.6 709.9 L1225.6 709.8 L1223.6 709.8 L1221.7 709.7 L1219.7 709.7 L1217.7 709.6 L1215.7 709.6 L1213.7 709.5 L1211.7 709.4 L1209.8 709.3 L1207.8 709.2 L1205.8 709.1 L1203.8 709.0 L1201.9 708.8 L1199.9 708.7 L1197.9 708.5 L1196.0 708.3 L1194.0 708.2 L1192.0 708.0 L1190.1 707.8 L1188.1 707.5 L1186.2 707.3 L1184.2 707.0 L1182.3 706.7 L1180.4 706.4 L1178.4 706.1 L1176.5 705.8 L1174.6 705.4 L1172.6 705.1 L1170.7 704.7 L1168.8 704.3 L1166.9 703.9 L1165.0 703.4 L1163.1 702.9 L1161.2 702.4 L1159.4 701.9 L1157.5 701.4 L1155.6 700.8 L1153.8 700.3 L1151.9 699.7 L1150.1 699.0 L1148.2 698.4 L1146.4 697.7 L1144.6 697.0 L1142.8 696.3 L1141.0 695.6 L1139.2 694.8 L1137.4 694.1 L1135.6 693.3 L1133.8 692.5 L1132.0 691.6 L1130.3 690.8 L1128.5 689.9 L1126.8 689.0 L1125.1 688.1 L1123.4 687.2 L1121.7 686.2 L1120.0 685.3 L1118.3 684.3 L1116.6 683.3 L1114.9 682.3 L1113.3 681.2 L1111.6 680.2 L1110.0 679.1 L1108.3 678.0 L1106.7 676.9 L1105.1 675.8 L1103.5 674.7 L1101.9 673.6 L1100.3 672.4 L1098.7 671.2 L1097.2 670.1 L1095.6 668.9 L1094.1 667.7 L1092.5 666.4 L1091.0 665.2 L1089.5 664.0 L1088.0 662.7 L1086.5 661.4 L1085.0 660.1 L1083.5 658.8 L1082.1 657.5 L1080.6 656.2 L1079.2 654.9 L1077.7 653.6 L1076.3 652.2 L1074.9 650.9 L1073.4 649.5 L1072.0 648.1 L1070.6 646.7 L1069.2 645.3 L1067.9 643.9 L1066.5 642.5 L1065.1 641.1 L1063.8 639.6 L1062.4 638.2 L1061.1 636.8 L1059.8 635.3 L1058.4 633.8 L1057.1 632.4 L1055.8 630.9 L1054.5 629.4 L1053.2 627.9 L1051.9 626.4 L1050.7 624.9 L1049.4 623.4 L1048.1 621.8 L1046.9 620.3 L1045.6 618.8 L1044.4 617.2 L1043.2 615.7 L1041.9 614.1 L1040.7 612.6 L1039.5 611.0 L1038.3 609.5 L1037.1 607.9 L1035.9 606.3 L1034.7 604.7 L1033.5 603.1 L1032.3 601.5 L1031.2 599.9 L1030.0 598.3 L1028.8 596.7 L1027.7 595.1 L1026.5 593.5 L1025.4 591.9 L1024.2 590.2 L1023.1 588.6 L1022.0 587.0 L1020.9 585.3 L1019.7 583.7 L1018.6 582.1 L1017.5 580.4 L1016.4 578.8 L1015.3 577.1 L1014.2 575.5 L1013.1 573.8 L1012.0 572.1 L1011.0 570.5 L1009.9 568.8 L1008.8 567.1 L1007.7 565.4 L1006.7 563.8 L1005.6 562.1 L1004.6 560.4 L1003.5 558.7 L1002.5 557.0 L1001.4 555.3 L1000.4 553.6 L999.3 551.9 L998.3 550.2 L997.3 548.5 L996.2 546.8 L995.2 545.1 L994.2 543.4 L993.1 541.7 L992.1 540.0 L991.1 538.3 L990.1 536.6 L989.1 534.9 L988.0 533.1 L987.0 531.4 L986.0 529.7 L985.0 528.0 L984.0 526.3 L982.9 524.5 L981.9 522.8 L980.9 521.1 L979.9 519.4 L978.9 517.7 L977.9 515.9 L976.8 514.2 L975.8 512.5 L974.8 510.8 L973.8 509.0 L972.8 507.3 L971.7 505.6 L970.7 503.9 L969.7 502.2 L968.7 500.4 L967.6 498.7 L966.6 497.0 L965.6 495.3 L964.5 493.6 L963.5 491.8 L962.5 490.1 L961.4 488.4 L960.4 486.7 L959.3 485.0 L958.3 483.3 L957.2 481.6 L956.2 479.9 L955.1 478.2 L954.0 476.5 L953.0 474.8 L951.9 473.1 L950.8 471.4 L949.7 469.7 L948.6 468.0 L947.5 466.3 L946.5 464.6 L945.4 462.9 L944.2 461.3 L943.1 459.6 L942.0 457.9 L940.9 456.2 L939.8 454.6 L938.7 452.9 L937.5 451.2 L936.4 449.6 L935.3 447.9 L934.1 446.3 L933.0 444.6 L931.9 442.9 L930.7 441.3 L929.6 439.7 L928.4 438.0 L927.2 436.4 L926.1 434.7 L924.9 433.1 L923.7 431.5 L922.5 429.8 L921.4 428.2 L920.2 426.6 L919.0 425.0 L917.8 423.4 L916.6 421.7 L915.4 420.1 L914.2 418.5 L913.0 416.9 L911.8 415.3 L910.6 413.7 L909.3 412.1 L908.1 410.5 L906.9 408.9 L905.6 407.3 L904.4 405.8 L903.2 404.2 L901.9 402.6 L900.7 401.0 L899.4 399.4 L898.2 397.9 L896.9 396.3 L895.7 394.7 L894.4 393.2 L893.1 391.6 L891.9 390.1 L890.6 388.5 L889.3 387.0 L888.0 385.4 L886.7 383.9 L885.5 382.3 L884.2 380.8 L882.9 379.3 L881.6 377.7 L880.3 376.2 L879.0 374.7 L877.7 373.1 L876.4 371.6 L875.1 370.1 L873.7 368.6 L872.4 367.1 L871.1 365.5 L869.8 364.0 L868.4 362.5 L867.1 361.0 L865.8 359.5 L864.5 358.0 L863.1 356.5 L861.8 355.0 L860.4 353.5 L859.1 352.0 L857.8 350.6 L856.4 349.1 L855.1 347.6 L853.7 346.1 L852.3 344.6 L851.0 343.2 L849.6 341.7 L848.3 340.2 L846.9 338.7 L845.5 337.3 L844.2 335.8 L842.8 334.3 L841.4 332.9 L840.1 331.4 L838.7 329.9 L837.3 328.5 L836.0 327.0 L834.6 325.6 L833.2 324.1 L831.8 322.7 L830.4 321.2 L829.1 319.8 L827.7 318.3 L826.3 316.9 L824.9 315.4 L823.5 314.0 L822.2 312.5 L820.8 311.1 L819.4 309.6 L818.0 308.2 L816.6 306.7 L815.2 305.3 L813.8 303.9 L812.4 302.4 L811.1 301.0 L809.7 299.5 L808.3 298.1 L806.9 296.7 L805.5 295.2 L804.1 293.8 L802.7 292.3 L801.4 290.9 L800.0 289.5 L798.6 288.0 L797.2 286.6 L795.8 285.1 L794.4 283.7 L793.0 282.3 L791.7 280.8 L790.3 279.4 L788.9 277.9 L787.5 276.5 L786.1 275.0 L784.7 273.6 L783.3 272.2 L781.9 270.7 L780.6 269.3 L779.2 267.8 L777.8 266.4 L776.4 265.0 L775.0 263.5 L773.6 262.1 L772.2 260.7 L770.8 259.2 L769.4 257.8 L768.0 256.4 L766.6 254.9 L765.2 253.5 L763.8 252.1 L762.4 250.6 L761.0 249.2 L759.6 247.8 L758.2 246.4 L756.8 244.9 L755.3 243.5 L753.9 242.1 L752.5 240.7 L751.1 239.3 L749.7 237.8 L748.3 236.4 L746.8 235.0 L745.4 233.6 L744.0 232.2 L742.5 230.8 L741.1 229.4 L739.7 228.0 L738.2 226.6 L736.8 225.2 L735.4 223.8 L733.9 222.4 L732.5 221.0 L731.0 219.6 L729.5 218.2 L728.1 216.9 L726.6 215.5 L725.2 214.1 L723.7 212.7 L722.2 211.4 L720.7 210.0 L719.3 208.6 L717.8 207.3 L716.3 205.9 L714.8 204.6 L713.3 203.2 L711.8 201.9 L710.3 200.6 L708.7 199.2 L707.2 197.9 L705.7 196.6 L704.2 195.3 L702.6 194.0 L701.1 192.7 L699.5 191.4 L697.9 190.1 L696.4 188.8 L694.8 187.6 L693.2 186.3 L691.6 185.1 L690.0 183.8 L688.4 182.6 L686.8 181.4 L685.2 180.2 L683.5 179.0 L681.9 177.8 L680.2 176.6 L678.5 175.4 L676.9 174.3 L675.2 173.1 L673.5 172.0 L671.7 170.9 L670.0 169.8 L668.3 168.8 L666.5 167.7 L664.8 166.7 L663.0 165.6 L661.2 164.6 L659.4 163.7 L657.6 162.7 L655.7 161.8 L653.9 160.9 L652.0 160.0 L650.2 159.1 L648.3 158.3 L646.4 157.5 L644.5 156.7 L642.5 156.0 L640.6 155.2 L638.7 154.5 L636.7 153.9 L634.8 153.2 L632.8 152.6 L630.8 152.0 L628.9 151.5 L626.9 150.9 L624.9 150.4 L622.9 149.9 L620.9 149.4 L618.9 149.0 L616.9 148.6 L614.9 148.1 L612.9 147.8 L610.9 147.4 L608.9 147.0 L606.9 146.7 L604.9 146.4 L602.9 146.1 L600.9 145.8 L598.9 145.5 L596.9 145.3 L594.9 145.0 L592.9 144.8 L590.9 144.6 L588.9 144.3 L586.8 144.1 L584.8 143.9 L582.8 143.7 L580.8 143.5 L578.8 143.4 L576.8 143.2 L574.8 143.0 L572.9 142.8 L570.9 142.6 L568.9 142.5 L566.9 142.3 L564.9 142.1 L562.9 142.0 L560.9 141.8 L558.9 141.6 L556.9 141.5 L554.9 141.3 L552.9 141.2 L550.9 141.0 L548.9 140.8 L546.9 140.7 L544.9 140.5 L542.9 140.4 L540.9 140.3 L538.9 140.1 L536.9 140.0 L534.9 139.8 L532.9 139.7 L530.9 139.6 L528.9 139.4 L526.9 139.3 L524.9 139.2 L522.9 139.0 L520.9 138.9 L518.9 138.8 L516.9 138.7 L514.9 138.5 L512.9 138.4 L510.9 138.3 L508.9 138.2 L506.9 138.1 L504.9 138.0 L502.9 137.9 L500.9 137.8 L498.9 137.7 L496.9 137.6 L494.9 137.5 L492.9 137.3 L490.9 137.3 L488.9 137.2 L486.9 137.1 L484.9 137.0 L482.9 136.9 L480.9 136.8 L478.9 136.7 L476.9 136.6 L474.9 136.5 L472.9 136.4 L470.9 136.3 L468.9 136.3 L466.9 136.2 L464.9 136.1 L462.9 136.0 L460.9 135.9 L458.9 135.9 L456.9 135.8 L454.9 135.7 L452.9 135.6 L450.9 135.6 L448.9 135.5 L446.9 135.4 L444.9 135.3 L442.9 135.3 L440.9 135.2 L438.9 135.1 L436.9 135.1 L434.9 135.0 L432.9 134.9 L430.9 134.9 L428.9 134.8 L426.9 134.7 L424.9 134.7 L422.9 134.6 L420.9 134.5 L418.9 134.5 L416.9 134.4 L414.9 134.3 L412.9 134.3 L410.9 134.2 L408.9 134.1 L406.9 134.1 L404.9 134.0 L402.9 133.9 L400.9 133.9 L399.0 133.8 L397.0 133.8 L395.0 133.7 L393.0 133.6 L391.0 133.6 L389.0 133.5 L387.0 133.4 L385.0 133.4 L383.0 133.3 L381.0 133.2 L379.0 133.2 L377.0 133.1 L375.0 133.0 L373.0 132.9 L371.0 132.9 L369.0 132.8 L367.0 132.7 L365.0 132.7 L363.0 132.6 L361.0 132.5 L359.0 132.4 L357.0 132.4 L355.0 132.3 L353.0 132.2 L351.0 132.1 L349.0 132.0 L347.0 132.0 L345.1 131.9 L343.1 131.8 L341.1 131.7 L339.1 131.6 L337.1 131.5 L335.1 131.4 L333.1 131.3 L331.1 131.2 L329.2 131.1 L327.2 130.9 L325.2 130.8 L323.2 130.7 L321.2 130.5 L319.3 130.3 L317.3 130.2 L315.3 130.0 L313.4 129.8 L311.4 129.6 L309.4 129.4 L307.5 129.1 L305.5 128.9 L303.6 128.7 L301.6 128.4 L299.7 128.1 L297.7 127.8 L295.8 127.5 L293.8 127.2 L291.9 126.9 L290.0 126.5 L288.0 126.1 L286.1 125.8 L284.2 125.4 L282.3 124.9 L280.4 124.5 L278.5 124.1 L276.6 123.6 L274.7 123.1 L272.8 122.6 L270.9 122.1 L269.0 121.5 L267.1 121.0 L265.2 120.4 L263.4 119.8 L261.5 119.2 L259.6 118.6 L257.7 118.0 L255.9 117.3 L254.0 116.7 L252.2 116.0 L250.3 115.3 L248.5 114.6 L246.6 113.9 L244.8 113.2 L243.0 112.5 L241.1 111.7 L239.3 111.0 L237.5 110.2 L235.6 109.5 L233.8 108.7 L232.0 107.9 L230.2 107.1 L228.4 106.3 L226.5 105.5 L224.7 104.7 L222.9 103.9 L221.1 103.1 L219.3 102.3 L217.5 101.4 L215.7 100.6 L213.9 99.8 L212.1 98.9 L210.3 98.1 L208.5 97.2 L206.7 96.4 L204.9 95.5Z"/></g>
<g><path class="curve" stroke="#37AD6B" d="M203.0 107.0 L205.5 108.7 L208.0 110.5 L210.5 112.3 L213.0 114.2 L215.5 116.1 L218.0 118.1 L220.5 120.1 L223.0 122.2 L225.5 124.2 L228.0 126.3 L230.5 128.4 L233.0 130.5 L235.5 132.5 L238.0 134.6 L240.5 136.6 L243.0 138.5 L245.4 140.4 L247.9 142.3 L250.4 144.0 L252.9 145.7 L255.4 147.3 L257.9 148.8 L260.4 150.2 L262.9 151.5 L265.4 152.7 L267.9 153.8 L270.4 154.9 L272.9 155.8 L275.4 156.7 L277.9 157.6 L280.4 158.3 L282.9 159.0 L285.4 159.7 L287.9 160.2 L290.4 160.8 L292.9 161.3 L295.4 161.7 L297.9 162.2 L300.4 162.6 L302.9 163.0 L305.4 163.3 L307.9 163.6 L310.4 164.0 L312.9 164.3 L315.4 164.6 L317.9 164.9 L320.4 165.2 L322.9 165.5 L325.3 165.8 L327.8 166.1 L330.3 166.4 L332.8 166.7 L335.3 167.0 L337.8 167.3 L340.3 167.6 L342.8 167.9 L345.3 168.2 L347.8 168.5 L350.3 168.8 L352.8 169.1 L355.3 169.4 L357.8 169.6 L360.3 169.9 L362.8 170.2 L365.3 170.5 L367.8 170.8 L370.3 171.0 L372.8 171.3 L375.3 171.6 L377.8 171.9 L380.3 172.2 L382.8 172.4 L385.3 172.7 L387.8 173.0 L390.3 173.2 L392.8 173.5 L395.3 173.8 L397.8 174.1 L400.3 174.3 L402.8 174.6 L405.2 174.9 L407.7 175.1 L410.2 175.4 L412.7 175.7 L415.2 176.0 L417.7 176.2 L420.2 176.5 L422.7 176.8 L425.2 177.1 L427.7 177.3 L430.2 177.6 L432.7 177.9 L435.2 178.2 L437.7 178.5 L440.2 178.8 L442.7 179.1 L445.2 179.4 L447.7 179.8 L450.2 180.1 L452.7 180.5 L455.2 181.0 L457.7 181.4 L460.2 181.9 L462.7 182.4 L465.2 182.9 L467.7 183.5 L470.2 184.1 L472.7 184.8 L475.2 185.5 L477.7 186.2 L480.2 187.0 L482.7 187.9 L485.1 188.8 L487.6 189.7 L490.1 190.8 L492.6 191.8 L495.1 193.0 L497.6 194.2 L500.1 195.4 L502.6 196.8 L505.1 198.2 L507.6 199.7 L510.1 201.3 L512.6 203.1 L515.1 204.9 L517.6 206.9 L520.1 209.0 L522.6 211.3 L525.1 213.8 L527.6 216.4 L530.1 219.2 L532.6 222.3 L535.1 225.5 L537.6 229.0 L540.1 232.7 L542.6 236.6 L545.1 240.8 L547.6 245.2 L550.1 249.9 L552.6 254.9 L555.1 260.2 L557.6 265.8 L560.1 271.7 L562.6 277.9 L565.0 284.4 L567.5 291.3 L570.0 298.5 L572.5 306.1 L575.0 314.0 L577.5 322.3 L580.0 331.0 L582.5 340.1 L585.0 349.6 L587.5 359.5 L590.0 369.7 L592.5 380.2 L595.0 391.1 L597.5 402.1 L600.0 413.4 L602.5 424.9 L605.0 436.6 L607.5 448.5 L610.0 460.4 L612.5 472.5 L615.0 484.6 L617.5 496.4 L620.0 507.9 L622.5 518.7 L625.0 528.7 L627.5 537.8 L630.0 546.0 L632.5 553.5 L635.0 560.3 L637.5 566.8 L640.0 572.8 L642.5 578.7 L644.9 584.3 L647.4 589.7 L649.9 595.0 L652.4 600.0 L654.9 604.9 L657.4 609.6 L659.9 614.1 L662.4 618.5 L664.9 622.7 L667.4 626.8 L669.9 630.7 L672.4 634.5 L674.9 638.2 L677.4 641.7 L679.9 645.1 L682.4 648.5 L684.9 651.7 L687.4 654.8 L689.9 657.8 L692.4 660.8 L694.9 663.6 L697.4 666.4 L699.9 669.2 L702.4 671.8 L704.9 674.5 L707.4 677.1 L709.9 679.6 L712.4 682.1 L714.9 684.6 L717.4 687.1 L719.9 689.5 L722.4 692.0 L724.8 694.4 L727.3 696.8 L729.8 699.2 L732.3 701.7 L734.8 704.1 L737.3 706.5 L739.8 709.0 L742.3 711.4 L744.8 713.9 L747.3 716.4 L749.8 718.9 L752.3 721.4 L754.8 724.0 L757.3 726.6 L759.8 729.2 L762.3 731.8 L764.8 734.5 L767.3 737.2 L769.8 740.0 L772.3 742.8 L774.8 745.6 L777.3 748.5 L779.8 751.5 L782.3 754.5 L784.8 757.5 L787.3 760.6 L789.8 763.8 L792.3 767.0 L794.8 770.2 L797.3 773.5 L799.8 776.8 L802.3 780.1 L804.7 783.4 L807.2 786.8 L809.7 790.2 L812.2 793.6 L814.7 797.0 L817.2 800.5 L819.7 803.9 L822.2 807.4 L824.7 810.8 L827.2 814.3 L829.7 817.7 L832.2 821.2 L834.7 824.6 L837.2 828.1 L839.7 831.5 L842.2 834.9 L844.7 838.3 L845.7 839.2 L846.6 840.7 L847.6 842.5 L848.6 844.5 L849.6 846.8 L850.5 849.6 L851.5 853.3 L852.5 858.0 L853.5 863.7 L854.4 870.4 L855.4 878.1 L856.4 887.4 L857.4 895.4 L858.3 901.5 L859.3 906.0 L860.3 909.1 L861.3 911.1 L862.2 912.3 L863.2 912.8 L865.7 913.8 L868.2 914.9 L870.7 916.0 L873.2 917.3 L875.7 918.6 L878.2 920.0 L880.7 921.5 L883.2 923.0 L885.6 924.5 L888.1 926.0 L890.6 927.6 L893.1 929.2 L895.6 930.7 L898.1 932.2 L900.6 933.7 L903.1 935.1 L905.6 936.5 L908.1 937.8 L910.6 939.1 L913.1 940.2 L915.6 941.3 L918.1 942.2 L920.6 943.1 L923.1 943.9 L925.6 944.6 L928.0 945.3 L930.5 945.8 L933.0 946.2 L935.5 946.6 L938.0 946.9 L940.5 947.2 L943.0 947.4 L945.5 947.7 L948.0 948.0 L950.5 948.2 L953.0 948.5 L955.5 948.7 L958.0 948.9 L960.5 949.1 L963.0 949.3 L965.5 949.5 L968.0 949.7 L970.4 949.9 L972.9 950.1 L975.4 950.3 L977.9 950.4 L980.4 950.6 L982.9 950.8 L985.4 950.9 L987.9 951.0 L990.4 951.2 L992.9 951.3 L995.4 951.4 L997.9 951.5 L1000.4 951.6 L1002.9 951.7 L1005.4 951.8 L1007.9 951.9 L1010.4 952.0 L1012.8 952.1 L1015.3 952.2 L1017.8 952.2 L1020.3 952.3 L1022.8 952.4 L1025.3 952.4 L1027.8 952.5 L1030.3 952.5 L1032.8 952.6 L1035.3 952.6 L1037.8 952.7 L1040.3 952.7 L1042.8 952.8 L1045.3 952.8 L1047.8 952.8 L1050.3 952.9 L1052.8 952.9 L1055.3 952.9 L1057.7 952.9 L1060.2 952.9 L1062.7 953.0 L1065.2 953.0 L1067.7 953.0 L1070.2 953.0 L1072.7 953.0 L1075.2 953.0 L1077.7 953.0 L1080.2 953.0 L1082.7 953.0 L1085.2 953.1 L1087.7 953.1 L1090.2 953.1 L1092.7 953.1 L1095.2 953.1 L1097.7 953.1 L1100.1 953.1 L1102.6 953.1 L1105.1 953.1 L1107.6 953.1 L1110.1 953.1 L1112.6 953.2 L1115.1 953.2 L1117.6 953.2 L1120.1 953.2 L1122.6 953.2 L1125.1 953.3 L1127.6 953.3 L1130.1 953.3 L1132.6 953.3 L1135.1 953.4 L1137.6 953.4 L1140.1 953.4 L1142.5 953.5 L1145.0 953.5 L1147.5 953.6 L1150.0 953.6 L1152.5 953.7 L1155.0 953.7 L1157.5 953.8 L1160.0 953.9 L1162.5 954.0 L1165.0 954.0 L1167.5 954.1 L1170.0 954.2 L1172.5 954.3 L1175.0 954.4 L1177.5 954.5 L1180.0 954.5 L1182.5 954.6 L1184.9 954.7 L1187.4 954.9 L1189.9 955.0 L1192.4 955.1 L1194.9 955.2 L1197.4 955.3 L1199.9 955.4 L1202.4 955.5 L1204.9 955.6 L1207.4 955.8 L1209.9 955.9 L1212.4 956.0 L1214.9 956.1 L1217.4 956.3 L1219.9 956.4 L1222.4 956.5 L1224.9 956.6 L1227.3 956.8 L1229.8 956.9 L1232.3 957.0 L1234.8 957.2 L1237.3 957.3 L1239.8 957.4 L1242.3 957.5 L1244.8 957.7 L1247.3 957.8 L1249.8 957.9 L1252.3 958.1 L1254.8 958.2 L1257.3 958.3 L1259.8 958.4 L1262.3 958.6 L1264.8 958.7 L1267.3 958.8 L1269.7 958.9 L1272.2 959.1 L1274.7 959.2 L1277.2 959.3 L1279.7 959.4 L1282.2 959.5 L1284.7 959.6 L1287.2 959.7 L1289.7 959.8 L1292.2 960.0 L1294.7 960.1 L1297.2 960.2 L1299.7 960.2 L1302.2 960.3 L1304.7 960.4 L1307.2 960.5 L1309.7 960.6 L1312.1 960.7 L1314.6 960.8 L1317.1 960.8 L1319.6 960.9 L1322.1 961.0 L1324.6 961.0 L1327.1 961.1 L1329.6 961.1 L1332.1 961.2 L1334.6 961.2 L1337.1 961.3 L1339.6 961.3 L1342.1 961.4 L1344.6 961.4 L1347.1 961.4 L1349.6 961.5 L1352.1 961.5 L1354.5 961.5 L1357.0 961.6 L1359.5 961.6 L1362.0 961.6 L1364.5 961.6 L1367.0 961.7 L1369.5 961.7 L1372.0 961.7 L1374.5 961.7 L1377.0 961.7 L1379.5 961.7 L1382.0 961.7 L1384.5 961.8 L1387.0 961.8 L1389.5 961.8 L1392.0 961.8 L1394.5 961.8 L1396.9 961.8 L1399.4 961.8 L1401.9 961.8 L1404.4 961.8 L1406.9 961.9 L1409.4 961.9 L1411.9 961.9 L1414.4 961.9 L1416.9 961.9 L1419.4 961.9 L1421.9 961.9 L1424.4 962.0 L1426.9 962.0 L1429.4 962.0 L1431.9 962.0 L1434.4 962.0 L1436.9 962.1 L1439.4 962.1 L1441.8 962.1 L1444.3 962.1 L1446.8 962.2 L1449.3 962.2 L1451.8 962.2 L1454.3 962.3 L1456.8 962.3 L1459.3 962.4 L1461.8 962.4 L1464.3 962.5 L1466.8 962.5 L1469.3 962.6 L1471.8 962.6 L1474.3 962.7 L1476.8 962.8 L1479.3 962.8 L1481.8 962.9 L1484.2 963.0 L1486.7 963.1 L1489.2 963.2 L1491.7 963.2 L1494.2 963.3 L1496.7 963.4 L1499.2 963.5 L1501.7 963.7 L1504.2 963.8 L1506.7 963.9 L1509.2 964.0 L1511.7 964.1 L1514.2 964.2 L1516.7 964.4 L1519.2 964.5 L1521.7 964.6 L1524.2 964.7 L1526.6 964.9 L1529.1 965.0 L1531.6 965.1 L1534.1 965.3 L1536.6 965.4 L1539.1 965.5 L1541.6 965.7 L1544.1 965.8 L1546.6 965.9 L1549.1 966.0 L1551.6 966.2 L1554.1 966.3 L1556.6 966.4 L1559.1 966.5 L1561.6 966.6 L1564.1 966.7 L1566.6 966.8 L1569.0 966.9 L1571.5 967.0 L1574.0 967.1 L1576.5 967.2 L1579.0 967.3 L1581.5 967.4 L1584.0 967.4 L1586.5 967.5 L1589.0 967.6"/>
<path fill="#37AD6B" stroke="none" d="M200.5 110.7 L202.1 111.8 L203.7 112.9 L205.3 114.1 L206.9 115.2 L208.5 116.4 L210.0 117.6 L211.6 118.8 L213.1 120.0 L214.7 121.2 L216.2 122.4 L217.7 123.7 L219.3 124.9 L220.8 126.2 L222.3 127.5 L223.9 128.8 L225.4 130.0 L226.9 131.3 L228.5 132.6 L230.0 133.9 L231.6 135.2 L233.1 136.4 L234.7 137.7 L236.3 139.0 L237.9 140.2 L239.5 141.5 L241.1 142.7 L242.7 144.0 L244.4 145.2 L246.0 146.4 L247.7 147.6 L249.4 148.7 L251.1 149.9 L252.9 151.0 L254.7 152.0 L256.5 153.1 L258.3 154.1 L260.2 155.0 L262.1 156.0 L263.9 156.9 L265.8 157.7 L267.8 158.5 L269.7 159.3 L271.7 160.0 L273.6 160.7 L275.6 161.4 L277.6 162.0 L279.6 162.5 L281.6 163.1 L283.6 163.6 L285.6 164.1 L287.6 164.5 L289.6 165.0 L291.6 165.3 L293.6 165.7 L295.6 166.1 L297.6 166.4 L299.6 166.7 L301.7 167.0 L303.7 167.3 L305.7 167.6 L307.7 167.8 L309.7 168.1 L311.6 168.3 L313.6 168.6 L315.6 168.8 L317.6 169.1 L319.6 169.3 L321.6 169.6 L323.6 169.8 L325.5 170.1 L327.5 170.3 L329.5 170.5 L331.5 170.8 L333.5 171.0 L335.5 171.3 L337.5 171.5 L339.5 171.7 L341.4 172.0 L343.4 172.2 L345.4 172.4 L347.4 172.6 L349.4 172.9 L351.4 173.1 L353.4 173.3 L355.3 173.6 L357.3 173.8 L359.3 174.0 L361.3 174.2 L363.3 174.5 L365.3 174.7 L367.3 174.9 L369.3 175.1 L371.2 175.3 L373.2 175.6 L375.2 175.8 L377.2 176.0 L379.2 176.2 L381.2 176.4 L383.2 176.7 L385.2 176.9 L387.1 177.1 L389.1 177.3 L391.1 177.5 L393.1 177.7 L395.1 178.0 L397.1 178.2 L399.1 178.4 L401.0 178.6 L403.0 178.8 L405.0 179.0 L407.0 179.3 L409.0 179.5 L411.0 179.7 L413.0 179.9 L415.0 180.1 L416.9 180.3 L418.9 180.6 L420.9 180.8 L422.9 181.0 L424.9 181.2 L426.9 181.4 L428.8 181.6 L430.8 181.9 L432.8 182.1 L434.8 182.3 L436.8 182.6 L438.7 182.8 L440.7 183.0 L442.6 183.3 L444.6 183.6 L446.6 183.8 L448.5 184.1 L450.5 184.4 L452.4 184.8 L454.3 185.1 L456.3 185.4 L458.2 185.8 L460.1 186.2 L462.0 186.6 L463.9 187.0 L465.8 187.5 L467.7 187.9 L469.6 188.4 L471.5 188.9 L473.4 189.4 L475.2 190.0 L477.1 190.6 L478.9 191.2 L480.7 191.8 L482.6 192.5 L484.4 193.2 L486.2 193.9 L488.0 194.6 L489.7 195.4 L491.5 196.1 L493.3 196.9 L495.0 197.8 L496.7 198.7 L498.4 199.5 L500.1 200.5 L501.8 201.4 L503.4 202.4 L505.1 203.4 L506.7 204.4 L508.2 205.5 L509.8 206.6 L511.3 207.7 L512.9 208.8 L514.3 210.0 L515.8 211.3 L517.2 212.5 L518.6 213.8 L520.0 215.1 L521.4 216.4 L522.7 217.8 L524.0 219.2 L525.3 220.6 L526.6 222.1 L527.8 223.5 L529.0 225.0 L530.2 226.5 L531.4 228.1 L532.5 229.6 L533.7 231.2 L534.8 232.8 L535.9 234.4 L536.9 236.0 L538.0 237.7 L539.0 239.3 L540.0 241.0 L541.0 242.6 L542.0 244.3 L542.9 246.0 L543.9 247.7 L544.8 249.5 L545.7 251.2 L546.6 252.9 L547.5 254.7 L548.4 256.4 L549.3 258.2 L550.1 260.0 L550.9 261.8 L551.8 263.6 L552.6 265.3 L553.4 267.1 L554.1 269.0 L554.9 270.8 L555.7 272.6 L556.5 274.4 L557.2 276.2 L557.9 278.1 L558.7 279.9 L559.4 281.7 L560.1 283.6 L560.8 285.4 L561.5 287.3 L562.2 289.2 L562.8 291.0 L563.5 292.9 L564.2 294.7 L564.8 296.6 L565.5 298.5 L566.1 300.4 L566.7 302.2 L567.3 304.1 L568.0 306.0 L568.6 307.9 L569.2 309.8 L569.8 311.7 L570.4 313.6 L571.0 315.5 L571.5 317.4 L572.1 319.3 L572.7 321.2 L573.3 323.1 L573.8 325.0 L574.4 326.9 L574.9 328.8 L575.5 330.7 L576.0 332.6 L576.5 334.5 L577.1 336.4 L577.6 338.4 L578.1 340.3 L578.6 342.2 L579.1 344.1 L579.7 346.0 L580.2 348.0 L580.7 349.9 L581.2 351.8 L581.7 353.8 L582.1 355.7 L582.6 357.6 L583.1 359.5 L583.6 361.5 L584.1 363.4 L584.6 365.3 L585.0 367.3 L585.5 369.2 L586.0 371.1 L586.4 373.1 L586.9 375.0 L587.4 377.0 L587.8 378.9 L588.3 380.8 L588.7 382.8 L589.2 384.7 L589.6 386.7 L590.1 388.6 L590.5 390.6 L591.0 392.5 L591.4 394.4 L591.8 396.4 L592.3 398.3 L592.7 400.3 L593.2 402.2 L593.6 404.2 L594.0 406.1 L594.5 408.1 L594.9 410.0 L595.3 412.0 L595.8 413.9 L596.2 415.9 L596.6 417.8 L597.0 419.8 L597.5 421.7 L597.9 423.7 L598.3 425.6 L598.7 427.6 L599.1 429.5 L599.6 431.5 L600.0 433.4 L600.4 435.4 L600.8 437.3 L601.2 439.3 L601.6 441.2 L602.0 443.2 L602.5 445.1 L602.9 447.1 L603.3 449.0 L603.7 451.0 L604.1 453.0 L604.5 454.9 L604.9 456.9 L605.3 458.8 L605.7 460.8 L606.1 462.7 L606.5 464.7 L606.9 466.6 L607.3 468.6 L607.8 470.6 L608.2 472.5 L608.6 474.5 L609.0 476.4 L609.4 478.4 L609.8 480.3 L610.2 482.3 L610.6 484.3 L611.0 486.2 L611.4 488.2 L611.8 490.1 L612.2 492.1 L612.6 494.0 L613.1 496.0 L613.5 498.0 L613.9 499.9 L614.3 501.9 L614.7 503.8 L615.2 505.8 L615.6 507.8 L616.0 509.7 L616.5 511.7 L616.9 513.6 L617.4 515.6 L617.8 517.6 L618.3 519.5 L618.8 521.5 L619.2 523.4 L619.7 525.4 L620.2 527.3 L620.7 529.3 L621.2 531.3 L621.8 533.2 L622.3 535.2 L622.8 537.1 L623.4 539.1 L623.9 541.0 L624.5 542.9 L625.1 544.9 L625.7 546.8 L626.3 548.7 L627.0 550.7 L627.6 552.6 L628.2 554.5 L628.9 556.4 L629.6 558.3 L630.3 560.2 L631.0 562.1 L631.7 564.0 L632.4 565.9 L633.2 567.8 L633.9 569.7 L634.7 571.5 L635.5 573.4 L636.2 575.3 L637.0 577.1 L637.8 579.0 L638.6 580.8 L639.4 582.7 L640.2 584.5 L641.1 586.4 L641.9 588.2 L642.7 590.0 L643.6 591.9 L644.5 593.7 L645.3 595.5 L646.2 597.3 L647.1 599.2 L648.0 601.0 L648.9 602.8 L649.8 604.6 L650.7 606.4 L651.7 608.2 L652.6 610.0 L653.6 611.7 L654.5 613.5 L655.5 615.3 L656.5 617.1 L657.5 618.8 L658.5 620.6 L659.5 622.3 L660.6 624.1 L661.6 625.8 L662.7 627.5 L663.7 629.3 L664.8 631.0 L665.9 632.7 L667.0 634.4 L668.1 636.1 L669.2 637.8 L670.4 639.5 L671.5 641.1 L672.7 642.8 L673.9 644.5 L675.1 646.1 L676.3 647.7 L677.5 649.4 L678.7 651.0 L679.9 652.6 L681.2 654.2 L682.4 655.8 L683.7 657.4 L685.0 659.0 L686.3 660.5 L687.6 662.1 L688.9 663.6 L690.2 665.1 L691.6 666.7 L692.9 668.2 L694.3 669.7 L695.6 671.2 L697.0 672.7 L698.4 674.2 L699.8 675.6 L701.2 677.1 L702.6 678.6 L704.0 680.0 L705.4 681.4 L706.8 682.9 L708.2 684.3 L709.6 685.7 L711.1 687.2 L712.5 688.6 L713.9 690.0 L715.3 691.4 L716.8 692.8 L718.2 694.2 L719.6 695.6 L721.1 697.0 L722.5 698.4 L723.9 699.8 L725.4 701.2 L726.8 702.6 L728.2 704.0 L729.7 705.3 L731.1 706.7 L732.5 708.1 L734.0 709.5 L735.4 710.9 L736.8 712.3 L738.2 713.7 L739.6 715.1 L741.1 716.5 L742.5 717.9 L743.9 719.3 L745.3 720.7 L746.7 722.1 L748.1 723.5 L749.5 724.9 L750.9 726.4 L752.2 727.8 L753.6 729.2 L755.0 730.6 L756.4 732.1 L757.7 733.5 L759.1 735.0 L760.4 736.4 L761.8 737.9 L763.1 739.3 L764.5 740.8 L765.8 742.3 L767.1 743.7 L768.4 745.2 L769.7 746.7 L771.0 748.2 L772.3 749.7 L773.6 751.2 L774.9 752.7 L776.2 754.2 L777.4 755.7 L778.7 757.2 L780.0 758.8 L781.2 760.3 L782.5 761.8 L783.7 763.4 L784.9 764.9 L786.2 766.5 L787.4 768.0 L788.6 769.6 L789.8 771.2 L791.1 772.7 L792.3 774.3 L793.5 775.9 L794.7 777.5 L795.9 779.1 L797.1 780.7 L798.3 782.2 L799.5 783.8 L800.7 785.4 L801.8 787.0 L803.0 788.6 L804.2 790.2 L805.4 791.8 L806.6 793.4 L807.8 795.1 L808.9 796.7 L810.1 798.3 L811.3 799.9 L812.5 801.5 L813.6 803.1 L814.8 804.7 L816.0 806.3 L817.1 808.0 L818.3 809.6 L819.5 811.2 L820.6 812.8 L821.8 814.4 L823.0 816.1 L824.2 817.7 L825.3 819.3 L826.5 820.9 L827.7 822.5 L828.8 824.2 L830.0 825.8 L831.2 827.4 L832.4 829.0 L833.5 830.6 L834.7 832.3 L835.9 833.9 L837.1 835.5 L838.3 837.1 L839.5 838.8 L840.6 840.3 L841.9 841.7 L842.9 843.2 L843.8 844.7 L844.5 846.2 L845.3 847.8 L845.9 849.5 L846.5 851.2 L847.0 853.0 L847.5 854.8 L847.9 856.7 L848.3 858.6 L848.6 860.5 L849.0 862.4 L849.3 864.3 L849.6 866.3 L849.9 868.2 L850.2 870.2 L850.4 872.1 L850.7 874.1 L850.9 876.0 L851.2 878.0 L851.4 880.0 L851.6 881.9 L851.8 883.9 L852.0 885.9 L852.3 887.9 L852.5 889.9 L852.7 891.9 L853.0 894.0 L853.2 896.0 L853.5 898.0 L853.8 900.0 L854.1 902.1 L854.6 904.2 L855.0 906.3 L855.6 908.6 L856.3 911.1 L857.6 913.6 L859.4 915.7 L861.8 917.0 L864.1 917.9 L866.1 918.7 L867.8 919.6 L869.5 920.4 L871.3 921.3 L873.0 922.2 L874.6 923.1 L876.3 924.1 L878.0 925.1 L879.7 926.1 L881.4 927.1 L883.1 928.1 L884.8 929.2 L886.5 930.2 L888.1 931.3 L889.8 932.4 L891.5 933.4 L893.3 934.5 L895.0 935.5 L896.7 936.6 L898.5 937.6 L900.3 938.6 L902.1 939.6 L903.9 940.6 L905.7 941.6 L907.6 942.5 L909.5 943.4 L911.4 944.2 L913.3 945.0 L915.2 945.8 L917.2 946.5 L919.2 947.2 L921.2 947.9 L923.2 948.4 L925.3 949.0 L927.3 949.4 L929.4 949.9 L931.5 950.2 L933.5 950.5 L935.6 950.8 L937.6 951.0 L939.6 951.3 L941.6 951.5 L943.6 951.7 L945.6 951.9 L947.6 952.1 L949.6 952.3 L951.6 952.5 L953.6 952.7 L955.6 952.9 L957.6 953.1 L959.6 953.2 L961.6 953.4 L963.6 953.6 L965.6 953.7 L967.6 953.9 L969.6 954.0 L971.6 954.2 L973.6 954.3 L975.6 954.4 L977.6 954.6 L979.6 954.7 L981.7 954.8 L983.7 954.9 L985.7 955.0 L987.7 955.1 L989.7 955.3 L991.7 955.4 L993.7 955.4 L995.7 955.5 L997.7 955.6 L999.7 955.7 L1001.7 955.8 L1003.7 955.9 L1005.7 956.0 L1007.7 956.0 L1009.7 956.1 L1011.7 956.2 L1013.7 956.2 L1015.7 956.3 L1017.7 956.3 L1019.7 956.4 L1021.7 956.4 L1023.7 956.5 L1025.7 956.5 L1027.7 956.6 L1029.7 956.6 L1031.7 956.7 L1033.7 956.7 L1035.7 956.7 L1037.7 956.8 L1039.7 956.8 L1041.7 956.8 L1043.7 956.9 L1045.7 956.9 L1047.8 956.9 L1049.8 956.9 L1051.8 956.9 L1053.8 957.0 L1055.8 957.0 L1057.8 957.0 L1059.8 957.0 L1061.8 957.0 L1063.8 957.0 L1065.8 957.1 L1067.8 957.1 L1069.8 957.1 L1071.8 957.1 L1073.8 957.1 L1075.8 957.1 L1077.8 957.1 L1079.8 957.1 L1081.8 957.1 L1083.7 957.1 L1085.7 957.1 L1087.7 957.1 L1089.7 957.1 L1091.7 957.2 L1093.7 957.2 L1095.7 957.2 L1097.7 957.2 L1099.7 957.2 L1101.7 957.2 L1103.7 957.2 L1105.7 957.2 L1107.7 957.2 L1109.7 957.2 L1111.7 957.2 L1113.7 957.2 L1115.7 957.3 L1117.7 957.3 L1119.7 957.3 L1121.7 957.3 L1123.7 957.3 L1125.7 957.3 L1127.7 957.4 L1129.7 957.4 L1131.7 957.4 L1133.7 957.4 L1135.7 957.5 L1137.6 957.5 L1139.6 957.5 L1141.6 957.6 L1143.6 957.6 L1145.6 957.6 L1147.6 957.7 L1149.6 957.7 L1151.6 957.8 L1153.6 957.8 L1155.6 957.9 L1157.6 957.9 L1159.6 958.0 L1161.6 958.0 L1163.6 958.1 L1165.5 958.1 L1167.5 958.2 L1169.5 958.3 L1171.5 958.3 L1173.5 958.4 L1175.5 958.5 L1177.5 958.6 L1179.5 958.6 L1181.5 958.7 L1183.5 958.8 L1185.5 958.9 L1187.5 959.0 L1189.5 959.1 L1191.5 959.1 L1193.4 959.2 L1195.4 959.3 L1197.4 959.4 L1199.4 959.5 L1201.4 959.6 L1203.4 959.7 L1205.4 959.8 L1207.4 959.9 L1209.4 960.0 L1211.4 960.1 L1213.4 960.2 L1215.4 960.3 L1217.4 960.4 L1219.4 960.5 L1221.4 960.6 L1223.4 960.7 L1225.3 960.8 L1227.3 960.9 L1229.3 961.0 L1231.3 961.1 L1233.3 961.2 L1235.3 961.3 L1237.3 961.4 L1239.3 961.5 L1241.3 961.6 L1243.3 961.7 L1245.3 961.8 L1247.3 961.9 L1249.3 962.0 L1251.3 962.1 L1253.3 962.2 L1255.3 962.3 L1257.3 962.4 L1259.3 962.5 L1261.3 962.6 L1263.3 962.7 L1265.3 962.8 L1267.3 962.9 L1269.3 963.0 L1271.3 963.1 L1273.3 963.2 L1275.3 963.3 L1277.3 963.4 L1279.3 963.5 L1281.3 963.6 L1283.3 963.7 L1285.3 963.8 L1287.2 963.9 L1289.2 963.9 L1291.2 964.0 L1293.2 964.1 L1295.2 964.2 L1297.2 964.3 L1299.2 964.3 L1301.3 964.4 L1303.3 964.5 L1305.3 964.6 L1307.3 964.6 L1309.3 964.7 L1311.3 964.8 L1313.3 964.8 L1315.3 964.9 L1317.3 964.9 L1319.3 965.0 L1321.3 965.0 L1323.3 965.1 L1325.3 965.1 L1327.3 965.2 L1329.3 965.2 L1331.3 965.3 L1333.3 965.3 L1335.3 965.3 L1337.3 965.4 L1339.3 965.4 L1341.3 965.4 L1343.3 965.5 L1345.3 965.5 L1347.3 965.5 L1349.3 965.6 L1351.3 965.6 L1353.3 965.6 L1355.3 965.6 L1357.3 965.6 L1359.3 965.7 L1361.3 965.7 L1363.3 965.7 L1365.3 965.7 L1367.3 965.7 L1369.3 965.8 L1371.3 965.8 L1373.3 965.8 L1375.3 965.8 L1377.3 965.8 L1379.3 965.8 L1381.3 965.8 L1383.3 965.8 L1385.3 965.8 L1387.3 965.8 L1389.3 965.9 L1391.3 965.9 L1393.3 965.9 L1395.3 965.9 L1397.3 965.9 L1399.3 965.9 L1401.3 965.9 L1403.3 965.9 L1405.3 965.9 L1407.3 965.9 L1409.3 965.9 L1411.3 966.0 L1413.3 966.0 L1415.3 966.0 L1417.3 966.0 L1419.2 966.0 L1421.2 966.0 L1423.2 966.0 L1425.2 966.0 L1427.2 966.1 L1429.2 966.1 L1431.2 966.1 L1433.2 966.1 L1435.2 966.1 L1437.2 966.1 L1439.2 966.2 L1441.2 966.2 L1443.2 966.2 L1445.2 966.2 L1447.2 966.3 L1449.2 966.3 L1451.2 966.3 L1453.2 966.3 L1455.2 966.4 L1457.2 966.4 L1459.2 966.5 L1461.2 966.5 L1463.1 966.5 L1465.1 966.6 L1467.1 966.6 L1469.1 966.7 L1471.1 966.7 L1473.1 966.8 L1475.1 966.8 L1477.1 966.9 L1479.1 966.9 L1481.1 967.0 L1483.1 967.1 L1485.1 967.1 L1487.1 967.2 L1489.0 967.3 L1491.0 967.3 L1493.0 967.4 L1495.0 967.5 L1497.0 967.6 L1499.0 967.6 L1501.0 967.7 L1503.0 967.8 L1505.0 967.9 L1507.0 968.0 L1509.0 968.1 L1511.0 968.2 L1512.9 968.3 L1514.9 968.4 L1516.9 968.5 L1518.9 968.6 L1520.9 968.7 L1522.9 968.8 L1524.9 968.9 L1526.9 969.0 L1528.9 969.1 L1530.9 969.2 L1532.9 969.3 L1534.9 969.4 L1536.9 969.5 L1538.9 969.6 L1540.9 969.8 L1542.9 969.9 L1544.9 970.0 L1546.9 970.1 L1548.9 970.2 L1550.9 970.3 L1552.9 970.4 L1554.9 970.4 L1556.9 970.5 L1558.9 970.6 L1560.9 970.7 L1562.9 970.8 L1564.9 970.9 L1566.9 971.0 L1568.9 971.1 L1570.9 971.1 L1572.9 971.2 L1574.9 971.3 L1576.9 971.3 L1578.9 971.4 L1580.9 971.5 L1582.9 971.5 L1584.9 971.6 L1586.9 971.6 L1588.9 971.6 L1589.1 963.5 L1587.1 963.4 L1585.1 963.4 L1583.1 963.3 L1581.1 963.3 L1579.1 963.2 L1577.1 963.1 L1575.2 963.1 L1573.2 963.0 L1571.2 962.9 L1569.2 962.8 L1567.2 962.8 L1565.2 962.7 L1563.2 962.6 L1561.2 962.5 L1559.2 962.4 L1557.2 962.3 L1555.2 962.2 L1553.3 962.1 L1551.3 962.0 L1549.3 961.9 L1547.3 961.8 L1545.3 961.7 L1543.3 961.6 L1541.3 961.5 L1539.3 961.4 L1537.3 961.3 L1535.3 961.2 L1533.3 961.1 L1531.3 961.0 L1529.3 960.9 L1527.3 960.8 L1525.3 960.7 L1523.3 960.6 L1521.3 960.5 L1519.3 960.4 L1517.3 960.3 L1515.4 960.2 L1513.4 960.1 L1511.4 960.0 L1509.4 959.9 L1507.4 959.8 L1505.4 959.7 L1503.4 959.6 L1501.4 959.5 L1499.4 959.4 L1497.3 959.4 L1495.3 959.3 L1493.3 959.2 L1491.3 959.1 L1489.3 959.0 L1487.3 959.0 L1485.3 958.9 L1483.3 958.9 L1481.3 958.8 L1479.3 958.7 L1477.3 958.7 L1475.3 958.6 L1473.3 958.6 L1471.3 958.5 L1469.3 958.5 L1467.3 958.4 L1465.3 958.4 L1463.3 958.3 L1461.3 958.3 L1459.3 958.3 L1457.3 958.2 L1455.3 958.2 L1453.3 958.2 L1451.3 958.1 L1449.3 958.1 L1447.3 958.1 L1445.3 958.1 L1443.3 958.0 L1441.3 958.0 L1439.3 958.0 L1437.3 958.0 L1435.3 958.0 L1433.3 957.9 L1431.3 957.9 L1429.3 957.9 L1427.3 957.9 L1425.3 957.9 L1423.3 957.9 L1421.3 957.8 L1419.3 957.8 L1417.3 957.8 L1415.3 957.8 L1413.3 957.8 L1411.3 957.8 L1409.3 957.8 L1407.3 957.8 L1405.3 957.8 L1403.3 957.8 L1401.3 957.8 L1399.3 957.7 L1397.3 957.7 L1395.3 957.7 L1393.3 957.7 L1391.3 957.7 L1389.3 957.7 L1387.3 957.7 L1385.3 957.7 L1383.3 957.7 L1381.3 957.7 L1379.3 957.7 L1377.3 957.6 L1375.3 957.6 L1373.3 957.6 L1371.3 957.6 L1369.4 957.6 L1367.4 957.6 L1365.4 957.6 L1363.4 957.5 L1361.4 957.5 L1359.4 957.5 L1357.4 957.5 L1355.4 957.5 L1353.4 957.4 L1351.4 957.4 L1349.4 957.4 L1347.4 957.4 L1345.4 957.3 L1343.4 957.3 L1341.4 957.3 L1339.4 957.2 L1337.4 957.2 L1335.4 957.2 L1333.4 957.1 L1331.4 957.1 L1329.5 957.0 L1327.5 957.0 L1325.5 957.0 L1323.5 956.9 L1321.5 956.8 L1319.5 956.8 L1317.5 956.7 L1315.5 956.7 L1313.5 956.6 L1311.5 956.6 L1309.5 956.5 L1307.5 956.4 L1305.5 956.4 L1303.5 956.3 L1301.6 956.2 L1299.6 956.1 L1297.6 956.1 L1295.6 956.0 L1293.6 955.9 L1291.6 955.8 L1289.6 955.7 L1287.6 955.6 L1285.6 955.6 L1283.6 955.5 L1281.6 955.4 L1279.6 955.3 L1277.6 955.2 L1275.6 955.1 L1273.6 955.0 L1271.7 954.9 L1269.7 954.8 L1267.7 954.7 L1265.7 954.6 L1263.7 954.5 L1261.7 954.4 L1259.7 954.3 L1257.7 954.2 L1255.7 954.1 L1253.7 954.0 L1251.7 953.9 L1249.7 953.8 L1247.7 953.7 L1245.7 953.6 L1243.7 953.5 L1241.7 953.4 L1239.7 953.3 L1237.7 953.2 L1235.8 953.1 L1233.8 953.0 L1231.8 952.9 L1229.8 952.8 L1227.8 952.7 L1225.8 952.6 L1223.8 952.5 L1221.8 952.4 L1219.8 952.3 L1217.8 952.1 L1215.8 952.0 L1213.8 952.0 L1211.8 951.9 L1209.8 951.8 L1207.8 951.7 L1205.8 951.6 L1203.8 951.5 L1201.8 951.4 L1199.8 951.3 L1197.8 951.2 L1195.8 951.1 L1193.8 951.0 L1191.8 950.9 L1189.8 950.8 L1187.8 950.8 L1185.8 950.7 L1183.8 950.6 L1181.8 950.5 L1179.8 950.4 L1177.8 950.4 L1175.8 950.3 L1173.8 950.2 L1171.8 950.1 L1169.8 950.1 L1167.8 950.0 L1165.8 949.9 L1163.8 949.9 L1161.8 949.8 L1159.8 949.8 L1157.8 949.7 L1155.8 949.7 L1153.8 949.6 L1151.8 949.6 L1149.8 949.5 L1147.8 949.5 L1145.8 949.5 L1143.8 949.4 L1141.8 949.4 L1139.8 949.4 L1137.8 949.3 L1135.8 949.3 L1133.8 949.3 L1131.8 949.2 L1129.8 949.2 L1127.8 949.2 L1125.8 949.2 L1123.8 949.2 L1121.8 949.1 L1119.8 949.1 L1117.8 949.1 L1115.8 949.1 L1113.8 949.1 L1111.8 949.1 L1109.8 949.1 L1107.8 949.1 L1105.8 949.0 L1103.8 949.0 L1101.8 949.0 L1099.8 949.0 L1097.8 949.0 L1095.8 949.0 L1093.8 949.0 L1091.8 949.0 L1089.8 949.0 L1087.8 949.0 L1085.8 949.0 L1083.8 949.0 L1081.8 949.0 L1079.8 949.0 L1077.8 949.0 L1075.8 948.9 L1073.8 948.9 L1071.8 948.9 L1069.8 948.9 L1067.8 948.9 L1065.8 948.9 L1063.8 948.9 L1061.8 948.9 L1059.8 948.9 L1057.8 948.8 L1055.8 948.8 L1053.8 948.8 L1051.8 948.8 L1049.8 948.8 L1047.8 948.7 L1045.9 948.7 L1043.9 948.7 L1041.9 948.7 L1039.9 948.6 L1037.9 948.6 L1035.9 948.6 L1033.9 948.5 L1031.9 948.5 L1029.9 948.4 L1027.9 948.4 L1025.9 948.4 L1023.9 948.3 L1021.9 948.3 L1019.9 948.2 L1017.9 948.1 L1016.0 948.1 L1014.0 948.0 L1012.0 948.0 L1010.0 947.9 L1008.0 947.8 L1006.0 947.7 L1004.0 947.7 L1002.0 947.6 L1000.0 947.5 L998.0 947.4 L996.1 947.3 L994.1 947.2 L992.1 947.1 L990.1 947.0 L988.1 946.9 L986.1 946.8 L984.1 946.7 L982.1 946.6 L980.2 946.4 L978.2 946.3 L976.2 946.2 L974.2 946.0 L972.2 945.9 L970.2 945.8 L968.3 945.6 L966.3 945.5 L964.3 945.3 L962.3 945.1 L960.3 945.0 L958.4 944.8 L956.4 944.6 L954.4 944.4 L952.4 944.2 L950.4 944.0 L948.5 943.8 L946.5 943.6 L944.5 943.4 L942.5 943.2 L940.6 943.0 L938.6 942.7 L936.7 942.5 L934.8 942.2 L932.9 941.9 L931.0 941.5 L929.2 941.1 L927.4 940.7 L925.5 940.2 L923.7 939.6 L921.9 939.0 L920.2 938.4 L918.4 937.7 L916.6 937.0 L914.9 936.2 L913.2 935.4 L911.4 934.6 L909.7 933.7 L908.0 932.8 L906.3 931.9 L904.6 930.9 L903.0 929.9 L901.3 928.9 L899.6 927.9 L897.9 926.9 L896.2 925.8 L894.5 924.8 L892.9 923.7 L891.2 922.7 L889.4 921.6 L887.7 920.5 L886.0 919.5 L884.3 918.4 L882.5 917.4 L880.7 916.4 L879.0 915.4 L877.1 914.4 L875.3 913.4 L873.5 912.5 L871.6 911.6 L869.7 910.7 L868.0 910.0 L866.6 909.5 L865.4 909.0 L864.7 908.1 L864.2 907.0 L863.8 905.7 L863.3 904.1 L862.9 902.4 L862.5 900.5 L862.1 898.6 L861.8 896.7 L861.5 894.8 L861.3 892.9 L861.0 890.9 L860.8 889.0 L860.5 887.0 L860.3 885.0 L860.1 883.0 L859.9 881.0 L859.7 879.0 L859.5 877.0 L859.2 875.0 L859.0 873.0 L858.7 871.0 L858.5 869.0 L858.2 867.0 L857.9 865.0 L857.6 863.0 L857.3 861.0 L856.9 859.0 L856.6 856.9 L856.2 854.9 L855.8 852.9 L855.3 850.8 L854.8 848.7 L854.1 846.6 L853.4 844.6 L852.5 842.5 L851.5 840.5 L850.5 838.5 L849.3 836.6 L847.9 835.0 L846.6 833.4 L845.5 831.8 L844.3 830.2 L843.1 828.6 L842.0 827.0 L840.8 825.4 L839.6 823.7 L838.4 822.1 L837.3 820.5 L836.1 818.9 L834.9 817.3 L833.8 815.7 L832.6 814.1 L831.4 812.4 L830.2 810.8 L829.1 809.2 L827.9 807.6 L826.7 806.0 L825.6 804.3 L824.4 802.7 L823.2 801.1 L822.1 799.5 L820.9 797.9 L819.7 796.2 L818.5 794.6 L817.3 793.0 L816.2 791.4 L815.0 789.8 L813.8 788.1 L812.6 786.5 L811.4 784.9 L810.2 783.3 L809.0 781.7 L807.9 780.1 L806.7 778.5 L805.5 776.9 L804.2 775.3 L803.0 773.7 L801.8 772.1 L800.6 770.5 L799.4 768.9 L798.2 767.3 L796.9 765.7 L795.7 764.1 L794.5 762.5 L793.2 760.9 L792.0 759.3 L790.7 757.8 L789.5 756.2 L788.2 754.6 L786.9 753.1 L785.6 751.5 L784.4 750.0 L783.1 748.4 L781.8 746.9 L780.5 745.3 L779.1 743.8 L777.8 742.3 L776.5 740.8 L775.2 739.2 L773.8 737.7 L772.5 736.2 L771.1 734.7 L769.8 733.2 L768.4 731.8 L767.0 730.3 L765.7 728.8 L764.3 727.3 L762.9 725.9 L761.5 724.4 L760.1 723.0 L758.7 721.5 L757.3 720.1 L755.9 718.6 L754.5 717.2 L753.1 715.8 L751.7 714.4 L750.2 712.9 L748.8 711.5 L747.4 710.1 L746.0 708.7 L744.5 707.3 L743.1 705.9 L741.7 704.5 L740.2 703.1 L738.8 701.7 L737.4 700.3 L735.9 698.9 L734.5 697.5 L733.1 696.1 L731.6 694.7 L730.2 693.3 L728.8 691.9 L727.3 690.5 L725.9 689.1 L724.5 687.8 L723.1 686.4 L721.6 685.0 L720.2 683.6 L718.8 682.2 L717.4 680.8 L716.0 679.4 L714.6 678.0 L713.2 676.6 L711.8 675.1 L710.4 673.7 L709.0 672.3 L707.7 670.9 L706.3 669.5 L705.0 668.0 L703.6 666.6 L702.3 665.1 L700.9 663.7 L699.6 662.2 L698.3 660.7 L697.0 659.2 L695.7 657.8 L694.5 656.3 L693.2 654.8 L691.9 653.2 L690.7 651.7 L689.5 650.2 L688.2 648.7 L687.0 647.1 L685.8 645.6 L684.6 644.0 L683.5 642.4 L682.3 640.8 L681.1 639.2 L680.0 637.6 L678.9 636.0 L677.8 634.4 L676.6 632.8 L675.5 631.2 L674.5 629.5 L673.4 627.9 L672.3 626.2 L671.3 624.5 L670.2 622.9 L669.2 621.2 L668.2 619.5 L667.2 617.8 L666.2 616.1 L665.2 614.4 L664.2 612.7 L663.3 611.0 L662.3 609.3 L661.3 607.5 L660.4 605.8 L659.5 604.0 L658.6 602.3 L657.7 600.5 L656.8 598.8 L655.9 597.0 L655.0 595.3 L654.1 593.5 L653.3 591.7 L652.4 589.9 L651.6 588.1 L650.7 586.3 L649.9 584.6 L649.1 582.8 L648.3 580.9 L647.5 579.1 L646.7 577.3 L645.9 575.5 L645.1 573.7 L644.3 571.9 L643.5 570.1 L642.8 568.2 L642.0 566.4 L641.3 564.6 L640.6 562.7 L639.9 560.9 L639.1 559.1 L638.5 557.2 L637.8 555.4 L637.1 553.5 L636.4 551.7 L635.8 549.8 L635.2 547.9 L634.6 546.1 L633.9 544.2 L633.4 542.3 L632.8 540.4 L632.2 538.5 L631.6 536.6 L631.1 534.7 L630.6 532.8 L630.0 530.9 L629.5 529.0 L629.0 527.1 L628.5 525.2 L628.0 523.3 L627.5 521.4 L627.1 519.5 L626.6 517.5 L626.1 515.6 L625.7 513.7 L625.2 511.7 L624.8 509.8 L624.3 507.9 L623.9 505.9 L623.5 504.0 L623.1 502.0 L622.6 500.1 L622.2 498.1 L621.8 496.2 L621.4 494.2 L621.0 492.3 L620.5 490.3 L620.1 488.4 L619.7 486.4 L619.3 484.5 L618.9 482.5 L618.5 480.6 L618.1 478.6 L617.7 476.7 L617.3 474.7 L616.9 472.7 L616.5 470.8 L616.1 468.8 L615.7 466.9 L615.3 464.9 L614.9 463.0 L614.4 461.0 L614.0 459.0 L613.6 457.1 L613.2 455.1 L612.8 453.2 L612.4 451.2 L612.0 449.3 L611.6 447.3 L611.2 445.3 L610.8 443.4 L610.4 441.4 L609.9 439.5 L609.5 437.5 L609.1 435.6 L608.7 433.6 L608.3 431.6 L607.9 429.7 L607.4 427.7 L607.0 425.8 L606.6 423.8 L606.2 421.9 L605.8 419.9 L605.3 418.0 L604.9 416.0 L604.5 414.0 L604.1 412.1 L603.6 410.1 L603.2 408.2 L602.8 406.2 L602.3 404.3 L601.9 402.3 L601.5 400.4 L601.0 398.4 L600.6 396.5 L600.2 394.5 L599.7 392.6 L599.3 390.6 L598.8 388.7 L598.4 386.7 L597.9 384.8 L597.5 382.8 L597.0 380.8 L596.6 378.9 L596.1 376.9 L595.7 375.0 L595.2 373.1 L594.7 371.1 L594.3 369.2 L593.8 367.2 L593.3 365.3 L592.8 363.3 L592.4 361.4 L591.9 359.4 L591.4 357.5 L590.9 355.5 L590.4 353.6 L589.9 351.6 L589.5 349.7 L589.0 347.8 L588.4 345.8 L587.9 343.9 L587.4 341.9 L586.9 340.0 L586.4 338.0 L585.9 336.1 L585.3 334.2 L584.8 332.2 L584.3 330.3 L583.7 328.4 L583.2 326.4 L582.6 324.5 L582.1 322.6 L581.5 320.6 L580.9 318.7 L580.4 316.8 L579.8 314.9 L579.2 312.9 L578.6 311.0 L578.0 309.1 L577.4 307.2 L576.8 305.2 L576.2 303.3 L575.6 301.4 L574.9 299.5 L574.3 297.6 L573.7 295.7 L573.0 293.8 L572.4 291.9 L571.7 290.0 L571.0 288.1 L570.3 286.2 L569.6 284.3 L568.9 282.4 L568.2 280.5 L567.5 278.6 L566.8 276.7 L566.0 274.8 L565.3 273.0 L564.5 271.1 L563.8 269.2 L563.0 267.4 L562.2 265.5 L561.4 263.6 L560.6 261.8 L559.8 259.9 L558.9 258.1 L558.1 256.2 L557.2 254.4 L556.3 252.6 L555.4 250.7 L554.5 248.9 L553.6 247.1 L552.6 245.3 L551.7 243.5 L550.7 241.7 L549.7 239.9 L548.7 238.2 L547.6 236.4 L546.6 234.6 L545.5 232.9 L544.4 231.2 L543.3 229.4 L542.1 227.7 L541.0 226.0 L539.8 224.4 L538.6 222.7 L537.3 221.1 L536.0 219.4 L534.7 217.8 L533.4 216.2 L532.0 214.6 L530.6 213.1 L529.2 211.6 L527.8 210.1 L526.3 208.6 L524.8 207.2 L523.2 205.8 L521.6 204.4 L520.0 203.1 L518.4 201.8 L516.7 200.5 L515.0 199.3 L513.3 198.1 L511.5 196.9 L509.8 195.8 L508.0 194.7 L506.2 193.7 L504.4 192.7 L502.6 191.7 L500.7 190.8 L498.8 189.9 L497.0 189.0 L495.1 188.1 L493.2 187.3 L491.3 186.5 L489.4 185.7 L487.5 185.0 L485.5 184.3 L483.6 183.6 L481.6 183.0 L479.7 182.3 L477.7 181.7 L475.7 181.2 L473.7 180.6 L471.8 180.1 L469.8 179.6 L467.8 179.2 L465.8 178.7 L463.8 178.3 L461.8 177.9 L459.8 177.5 L457.8 177.1 L455.8 176.8 L453.8 176.4 L451.8 176.1 L449.8 175.8 L447.8 175.5 L445.7 175.3 L443.7 175.0 L441.7 174.7 L439.7 174.5 L437.7 174.3 L435.7 174.0 L433.8 173.8 L431.8 173.6 L429.8 173.4 L427.8 173.1 L425.8 172.9 L423.8 172.7 L421.8 172.5 L419.8 172.3 L417.8 172.1 L415.9 171.8 L413.9 171.6 L411.9 171.4 L409.9 171.2 L407.9 171.0 L405.9 170.8 L403.9 170.5 L401.9 170.3 L400.0 170.1 L398.0 169.9 L396.0 169.7 L394.0 169.5 L392.0 169.2 L390.0 169.0 L388.0 168.8 L386.1 168.6 L384.1 168.4 L382.1 168.2 L380.1 167.9 L378.1 167.7 L376.1 167.5 L374.2 167.3 L372.2 167.1 L370.2 166.8 L368.2 166.6 L366.2 166.4 L364.2 166.2 L362.2 165.9 L360.3 165.7 L358.3 165.5 L356.3 165.3 L354.3 165.0 L352.3 164.8 L350.3 164.6 L348.4 164.4 L346.4 164.1 L344.4 163.9 L342.4 163.7 L340.4 163.4 L338.4 163.2 L336.5 163.0 L334.5 162.7 L332.5 162.5 L330.5 162.3 L328.5 162.0 L326.6 161.8 L324.6 161.5 L322.6 161.3 L320.6 161.0 L318.6 160.8 L316.7 160.5 L314.7 160.3 L312.7 160.0 L310.7 159.8 L308.8 159.5 L306.8 159.3 L304.8 159.0 L302.9 158.7 L300.9 158.4 L299.0 158.1 L297.1 157.8 L295.2 157.4 L293.2 157.0 L291.3 156.6 L289.4 156.2 L287.6 155.8 L285.7 155.3 L283.8 154.8 L282.0 154.3 L280.1 153.7 L278.3 153.1 L276.5 152.5 L274.7 151.9 L272.9 151.2 L271.1 150.4 L269.4 149.7 L267.6 148.9 L265.9 148.0 L264.2 147.2 L262.5 146.3 L260.9 145.4 L259.2 144.4 L257.6 143.4 L256.0 142.4 L254.4 141.3 L252.8 140.2 L251.2 139.1 L249.6 137.9 L248.1 136.8 L246.5 135.6 L245.0 134.4 L243.4 133.2 L241.9 132.0 L240.3 130.7 L238.8 129.5 L237.3 128.2 L235.7 127.0 L234.2 125.7 L232.7 124.4 L231.1 123.1 L229.6 121.8 L228.1 120.6 L226.5 119.3 L225.0 118.0 L223.4 116.7 L221.9 115.5 L220.3 114.2 L218.7 112.9 L217.1 111.7 L215.5 110.4 L213.9 109.2 L212.2 108.0 L210.5 106.8 L208.9 105.6 L207.2 104.5 L205.5 103.3Z"/></g>
</g>
<line class="dash" x1="337.7" y1="72.9" x2="337.7" y2="787.0"/>
<line class="dash" x1="863.3" y1="185.6" x2="863.3" y2="958.0"/>
<line class="dash" x1="1156.7" y1="413.8" x2="1158.8" y2="1018.6"/>
<line class="dash" x1="1424.3" y1="486.0" x2="1426.1" y2="1029.0"/>
<text class="ann" transform="translate(307.95 66.90) scale(1 1.04)" text-anchor="start">120</text>
<text class="ann" transform="translate(839.75 179.70) scale(1 1.04)" text-anchor="start">450</text>
<text class="ann" transform="translate(1126.60 395.40) scale(1 1.04)" text-anchor="start">630</text>
<text class="ann" transform="translate(1398.35 474.90) scale(1 1.04)" text-anchor="start">800</text>
<rect x="1253.6" y="3.4" width="327.40" height="244.20" fill="#fff" stroke="#000" stroke-width="4.4"/>
<line x1="1308.9" y1="32.5" x2="1421.5" y2="32.5" stroke="#666666" stroke-width="8.2" stroke-linecap="round"/>
<text class="leg" transform="translate(1435.20 49.50) scale(0.992 1.04)" text-anchor="start">LSR-F</text>
<line x1="1308.9" y1="94.85" x2="1421.5" y2="94.85" stroke="#EF4040" stroke-width="8.2" stroke-linecap="round"/>
<text class="leg" transform="translate(1435.20 111.70) scale(0.992 1.04)" text-anchor="start">LS</text>
<line x1="1308.9" y1="157.1" x2="1421.5" y2="157.1" stroke="#1A6FDF" stroke-width="8.2" stroke-linecap="round"/>
<text class="leg" transform="translate(1435.20 173.90) scale(0.992 1.04)" text-anchor="start">L</text>
<line x1="1308.9" y1="219.4" x2="1421.5" y2="219.4" stroke="#37AD6B" stroke-width="8.2" stroke-linecap="round"/>
<text class="leg" transform="translate(1435.20 236.10) scale(0.992 1.04)" text-anchor="start">CS</text>
</svg>
</body>
</html>
